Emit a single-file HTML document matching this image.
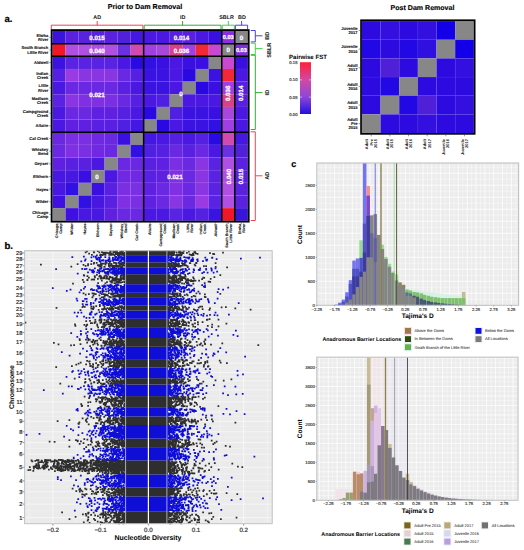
<!DOCTYPE html>
<html><head><meta charset="utf-8"><style>
html,body{margin:0;padding:0;background:#fff;}
body{width:524px;height:550px;overflow:hidden;}
svg{display:block;}
text{font-family:"Liberation Sans",sans-serif;text-rendering:geometricPrecision;}
</style></head><body>
<svg width="524" height="550" viewBox="0 0 524 550">
<rect x="52.50" y="31.00" width="13.07" height="12.70" fill="#3a14da"/>
<rect x="65.52" y="31.00" width="13.07" height="12.70" fill="#5a22de"/>
<rect x="78.54" y="31.00" width="13.07" height="12.70" fill="#5a22de"/>
<rect x="91.56" y="31.00" width="13.07" height="12.70" fill="#5a22de"/>
<rect x="104.58" y="31.00" width="13.07" height="12.70" fill="#5a22de"/>
<rect x="117.60" y="31.00" width="13.07" height="12.70" fill="#5020da"/>
<rect x="130.62" y="31.00" width="13.07" height="12.70" fill="#4418e0"/>
<rect x="143.64" y="31.00" width="13.07" height="12.70" fill="#4a18e2"/>
<rect x="156.66" y="31.00" width="13.07" height="12.70" fill="#4a18e2"/>
<rect x="169.68" y="31.00" width="13.07" height="12.70" fill="#5a20e2"/>
<rect x="182.70" y="31.00" width="13.07" height="12.70" fill="#5a20e2"/>
<rect x="195.72" y="31.00" width="13.07" height="12.70" fill="#4a18e2"/>
<rect x="208.74" y="31.00" width="13.07" height="12.70" fill="#3a10e2"/>
<rect x="221.76" y="31.00" width="13.07" height="12.70" fill="#8a30e2"/>
<rect x="234.78" y="31.00" width="13.07" height="12.70" fill="#878787"/>
<rect x="52.50" y="43.65" width="13.07" height="12.70" fill="#f01828"/>
<rect x="65.52" y="43.65" width="13.07" height="12.70" fill="#b050e2"/>
<rect x="78.54" y="43.65" width="13.07" height="12.70" fill="#b050e2"/>
<rect x="91.56" y="43.65" width="13.07" height="12.70" fill="#b050e2"/>
<rect x="104.58" y="43.65" width="13.07" height="12.70" fill="#b050e2"/>
<rect x="117.60" y="43.65" width="13.07" height="12.70" fill="#6a30e2"/>
<rect x="130.62" y="43.65" width="13.07" height="12.70" fill="#d04ab0"/>
<rect x="143.64" y="43.65" width="13.07" height="12.70" fill="#a040e2"/>
<rect x="156.66" y="43.65" width="13.07" height="12.70" fill="#a848da"/>
<rect x="169.68" y="43.65" width="13.07" height="12.70" fill="#d8408a"/>
<rect x="182.70" y="43.65" width="13.07" height="12.70" fill="#a040e2"/>
<rect x="195.72" y="43.65" width="13.07" height="12.70" fill="#f02838"/>
<rect x="208.74" y="43.65" width="13.07" height="12.70" fill="#c848d2"/>
<rect x="221.76" y="43.65" width="13.07" height="12.70" fill="#878787"/>
<rect x="234.78" y="43.65" width="13.07" height="12.70" fill="#8030da"/>
<rect x="52.50" y="56.30" width="13.07" height="12.70" fill="#3a12e2"/>
<rect x="65.52" y="56.30" width="13.07" height="12.70" fill="#5a22e2"/>
<rect x="78.54" y="56.30" width="13.07" height="12.70" fill="#5a22e2"/>
<rect x="91.56" y="56.30" width="13.07" height="12.70" fill="#5a22e2"/>
<rect x="104.58" y="56.30" width="13.07" height="12.70" fill="#5a22e2"/>
<rect x="117.60" y="56.30" width="13.07" height="12.70" fill="#4a18e2"/>
<rect x="130.62" y="56.30" width="13.07" height="12.70" fill="#2a0ae2"/>
<rect x="143.64" y="56.30" width="13.07" height="12.70" fill="#3010e2"/>
<rect x="156.66" y="56.30" width="13.07" height="12.70" fill="#3a10e2"/>
<rect x="169.68" y="56.30" width="13.07" height="12.70" fill="#4a18e2"/>
<rect x="182.70" y="56.30" width="13.07" height="12.70" fill="#3a10e2"/>
<rect x="195.72" y="56.30" width="13.07" height="12.70" fill="#3a10e2"/>
<rect x="208.74" y="56.30" width="13.07" height="12.70" fill="#878787"/>
<rect x="221.76" y="56.30" width="13.07" height="12.70" fill="#c848d2"/>
<rect x="234.78" y="56.30" width="13.07" height="12.70" fill="#3a10e2"/>
<rect x="52.50" y="68.95" width="13.07" height="12.70" fill="#5520e2"/>
<rect x="65.52" y="68.95" width="13.07" height="12.70" fill="#9a3ae2"/>
<rect x="78.54" y="68.95" width="13.07" height="12.70" fill="#8a35e2"/>
<rect x="91.56" y="68.95" width="13.07" height="12.70" fill="#8a35e2"/>
<rect x="104.58" y="68.95" width="13.07" height="12.70" fill="#8a35e2"/>
<rect x="117.60" y="68.95" width="13.07" height="12.70" fill="#6a28e2"/>
<rect x="130.62" y="68.95" width="13.07" height="12.70" fill="#5520e2"/>
<rect x="143.64" y="68.95" width="13.07" height="12.70" fill="#3a12e2"/>
<rect x="156.66" y="68.95" width="13.07" height="12.70" fill="#3a12e2"/>
<rect x="169.68" y="68.95" width="13.07" height="12.70" fill="#4a18e2"/>
<rect x="182.70" y="68.95" width="13.07" height="12.70" fill="#2a08e2"/>
<rect x="195.72" y="68.95" width="13.07" height="12.70" fill="#878787"/>
<rect x="208.74" y="68.95" width="13.07" height="12.70" fill="#3a12e2"/>
<rect x="221.76" y="68.95" width="13.07" height="12.70" fill="#f02838"/>
<rect x="234.78" y="68.95" width="13.07" height="12.70" fill="#4a18e2"/>
<rect x="52.50" y="81.60" width="13.07" height="12.70" fill="#4a18e2"/>
<rect x="65.52" y="81.60" width="13.07" height="12.70" fill="#6a28e2"/>
<rect x="78.54" y="81.60" width="13.07" height="12.70" fill="#6a28e2"/>
<rect x="91.56" y="81.60" width="13.07" height="12.70" fill="#6a28e2"/>
<rect x="104.58" y="81.60" width="13.07" height="12.70" fill="#6a28e2"/>
<rect x="117.60" y="81.60" width="13.07" height="12.70" fill="#5a20e2"/>
<rect x="130.62" y="81.60" width="13.07" height="12.70" fill="#4a18e2"/>
<rect x="143.64" y="81.60" width="13.07" height="12.70" fill="#3a12e2"/>
<rect x="156.66" y="81.60" width="13.07" height="12.70" fill="#3a12e2"/>
<rect x="169.68" y="81.60" width="13.07" height="12.70" fill="#4a18e2"/>
<rect x="182.70" y="81.60" width="13.07" height="12.70" fill="#878787"/>
<rect x="195.72" y="81.60" width="13.07" height="12.70" fill="#2a08e2"/>
<rect x="208.74" y="81.60" width="13.07" height="12.70" fill="#3a10e2"/>
<rect x="221.76" y="81.60" width="13.07" height="12.70" fill="#a040e2"/>
<rect x="234.78" y="81.60" width="13.07" height="12.70" fill="#5a20e2"/>
<rect x="52.50" y="94.25" width="13.07" height="12.70" fill="#5a22e2"/>
<rect x="65.52" y="94.25" width="13.07" height="12.70" fill="#8a35e2"/>
<rect x="78.54" y="94.25" width="13.07" height="12.70" fill="#8030e2"/>
<rect x="91.56" y="94.25" width="13.07" height="12.70" fill="#8030e2"/>
<rect x="104.58" y="94.25" width="13.07" height="12.70" fill="#7a30e2"/>
<rect x="117.60" y="94.25" width="13.07" height="12.70" fill="#6a28e2"/>
<rect x="130.62" y="94.25" width="13.07" height="12.70" fill="#5520e2"/>
<rect x="143.64" y="94.25" width="13.07" height="12.70" fill="#4a18e2"/>
<rect x="156.66" y="94.25" width="13.07" height="12.70" fill="#5020e2"/>
<rect x="169.68" y="94.25" width="13.07" height="12.70" fill="#878787"/>
<rect x="182.70" y="94.25" width="13.07" height="12.70" fill="#4a18e2"/>
<rect x="195.72" y="94.25" width="13.07" height="12.70" fill="#4a18e2"/>
<rect x="208.74" y="94.25" width="13.07" height="12.70" fill="#4a18e2"/>
<rect x="221.76" y="94.25" width="13.07" height="12.70" fill="#d8408a"/>
<rect x="234.78" y="94.25" width="13.07" height="12.70" fill="#5a20e2"/>
<rect x="52.50" y="106.90" width="13.07" height="12.70" fill="#4a18e2"/>
<rect x="65.52" y="106.90" width="13.07" height="12.70" fill="#6a28e2"/>
<rect x="78.54" y="106.90" width="13.07" height="12.70" fill="#6a28e2"/>
<rect x="91.56" y="106.90" width="13.07" height="12.70" fill="#6020e2"/>
<rect x="104.58" y="106.90" width="13.07" height="12.70" fill="#6020e2"/>
<rect x="117.60" y="106.90" width="13.07" height="12.70" fill="#5520e2"/>
<rect x="130.62" y="106.90" width="13.07" height="12.70" fill="#4a18e2"/>
<rect x="143.64" y="106.90" width="13.07" height="12.70" fill="#2a08e2"/>
<rect x="156.66" y="106.90" width="13.07" height="12.70" fill="#878787"/>
<rect x="169.68" y="106.90" width="13.07" height="12.70" fill="#5020e2"/>
<rect x="182.70" y="106.90" width="13.07" height="12.70" fill="#3a12e2"/>
<rect x="195.72" y="106.90" width="13.07" height="12.70" fill="#3a12e2"/>
<rect x="208.74" y="106.90" width="13.07" height="12.70" fill="#3a10e2"/>
<rect x="221.76" y="106.90" width="13.07" height="12.70" fill="#a848da"/>
<rect x="234.78" y="106.90" width="13.07" height="12.70" fill="#4a18e2"/>
<rect x="52.50" y="119.55" width="13.07" height="12.70" fill="#4a18e2"/>
<rect x="65.52" y="119.55" width="13.07" height="12.70" fill="#6020e2"/>
<rect x="78.54" y="119.55" width="13.07" height="12.70" fill="#6020e2"/>
<rect x="91.56" y="119.55" width="13.07" height="12.70" fill="#5a20e2"/>
<rect x="104.58" y="119.55" width="13.07" height="12.70" fill="#5a20e2"/>
<rect x="117.60" y="119.55" width="13.07" height="12.70" fill="#5020e2"/>
<rect x="130.62" y="119.55" width="13.07" height="12.70" fill="#4418e2"/>
<rect x="143.64" y="119.55" width="13.07" height="12.70" fill="#878787"/>
<rect x="156.66" y="119.55" width="13.07" height="12.70" fill="#2a08e2"/>
<rect x="169.68" y="119.55" width="13.07" height="12.70" fill="#4a18e2"/>
<rect x="182.70" y="119.55" width="13.07" height="12.70" fill="#3a12e2"/>
<rect x="195.72" y="119.55" width="13.07" height="12.70" fill="#3a12e2"/>
<rect x="208.74" y="119.55" width="13.07" height="12.70" fill="#3010e2"/>
<rect x="221.76" y="119.55" width="13.07" height="12.70" fill="#a040e2"/>
<rect x="234.78" y="119.55" width="13.07" height="12.70" fill="#4a18e2"/>
<rect x="52.50" y="132.20" width="13.07" height="12.70" fill="#6a28e2"/>
<rect x="65.52" y="132.20" width="13.07" height="12.70" fill="#7a30e2"/>
<rect x="78.54" y="132.20" width="13.07" height="12.70" fill="#7a30e2"/>
<rect x="91.56" y="132.20" width="13.07" height="12.70" fill="#7028e2"/>
<rect x="104.58" y="132.20" width="13.07" height="12.70" fill="#6a28e2"/>
<rect x="117.60" y="132.20" width="13.07" height="12.70" fill="#3a10e2"/>
<rect x="130.62" y="132.20" width="13.07" height="12.70" fill="#878787"/>
<rect x="143.64" y="132.20" width="13.07" height="12.70" fill="#4418e2"/>
<rect x="156.66" y="132.20" width="13.07" height="12.70" fill="#4a18e2"/>
<rect x="169.68" y="132.20" width="13.07" height="12.70" fill="#5520e2"/>
<rect x="182.70" y="132.20" width="13.07" height="12.70" fill="#4a18e2"/>
<rect x="195.72" y="132.20" width="13.07" height="12.70" fill="#5520e2"/>
<rect x="208.74" y="132.20" width="13.07" height="12.70" fill="#2a0ae2"/>
<rect x="221.76" y="132.20" width="13.07" height="12.70" fill="#d04ab0"/>
<rect x="234.78" y="132.20" width="13.07" height="12.70" fill="#4418e0"/>
<rect x="52.50" y="144.85" width="13.07" height="12.70" fill="#6a28e2"/>
<rect x="65.52" y="144.85" width="13.07" height="12.70" fill="#8030e2"/>
<rect x="78.54" y="144.85" width="13.07" height="12.70" fill="#7a30e2"/>
<rect x="91.56" y="144.85" width="13.07" height="12.70" fill="#7028e2"/>
<rect x="104.58" y="144.85" width="13.07" height="12.70" fill="#6a28e2"/>
<rect x="117.60" y="144.85" width="13.07" height="12.70" fill="#878787"/>
<rect x="130.62" y="144.85" width="13.07" height="12.70" fill="#3010e2"/>
<rect x="143.64" y="144.85" width="13.07" height="12.70" fill="#5020e2"/>
<rect x="156.66" y="144.85" width="13.07" height="12.70" fill="#5520e2"/>
<rect x="169.68" y="144.85" width="13.07" height="12.70" fill="#6a28e2"/>
<rect x="182.70" y="144.85" width="13.07" height="12.70" fill="#5a20e2"/>
<rect x="195.72" y="144.85" width="13.07" height="12.70" fill="#6a28e2"/>
<rect x="208.74" y="144.85" width="13.07" height="12.70" fill="#4a18e2"/>
<rect x="221.76" y="144.85" width="13.07" height="12.70" fill="#6a30e2"/>
<rect x="234.78" y="144.85" width="13.07" height="12.70" fill="#5020da"/>
<rect x="52.50" y="157.50" width="13.07" height="12.70" fill="#6020e2"/>
<rect x="65.52" y="157.50" width="13.07" height="12.70" fill="#5a20e2"/>
<rect x="78.54" y="157.50" width="13.07" height="12.70" fill="#5a20e2"/>
<rect x="91.56" y="157.50" width="13.07" height="12.70" fill="#4a18e2"/>
<rect x="104.58" y="157.50" width="13.07" height="12.70" fill="#878787"/>
<rect x="117.60" y="157.50" width="13.07" height="12.70" fill="#6a28e2"/>
<rect x="130.62" y="157.50" width="13.07" height="12.70" fill="#6a28e2"/>
<rect x="143.64" y="157.50" width="13.07" height="12.70" fill="#5a20e2"/>
<rect x="156.66" y="157.50" width="13.07" height="12.70" fill="#6020e2"/>
<rect x="169.68" y="157.50" width="13.07" height="12.70" fill="#7a30e2"/>
<rect x="182.70" y="157.50" width="13.07" height="12.70" fill="#6a28e2"/>
<rect x="195.72" y="157.50" width="13.07" height="12.70" fill="#8a35e2"/>
<rect x="208.74" y="157.50" width="13.07" height="12.70" fill="#5a22e2"/>
<rect x="221.76" y="157.50" width="13.07" height="12.70" fill="#b050e2"/>
<rect x="234.78" y="157.50" width="13.07" height="12.70" fill="#5a22de"/>
<rect x="52.50" y="170.15" width="13.07" height="12.70" fill="#4818e2"/>
<rect x="65.52" y="170.15" width="13.07" height="12.70" fill="#4818e2"/>
<rect x="78.54" y="170.15" width="13.07" height="12.70" fill="#3a10e2"/>
<rect x="91.56" y="170.15" width="13.07" height="12.70" fill="#878787"/>
<rect x="104.58" y="170.15" width="13.07" height="12.70" fill="#4a18e2"/>
<rect x="117.60" y="170.15" width="13.07" height="12.70" fill="#7028e2"/>
<rect x="130.62" y="170.15" width="13.07" height="12.70" fill="#7028e2"/>
<rect x="143.64" y="170.15" width="13.07" height="12.70" fill="#5a20e2"/>
<rect x="156.66" y="170.15" width="13.07" height="12.70" fill="#6020e2"/>
<rect x="169.68" y="170.15" width="13.07" height="12.70" fill="#8030e2"/>
<rect x="182.70" y="170.15" width="13.07" height="12.70" fill="#6a28e2"/>
<rect x="195.72" y="170.15" width="13.07" height="12.70" fill="#8a35e2"/>
<rect x="208.74" y="170.15" width="13.07" height="12.70" fill="#5a22e2"/>
<rect x="221.76" y="170.15" width="13.07" height="12.70" fill="#b050e2"/>
<rect x="234.78" y="170.15" width="13.07" height="12.70" fill="#5a22de"/>
<rect x="52.50" y="182.80" width="13.07" height="12.70" fill="#4818e2"/>
<rect x="65.52" y="182.80" width="13.07" height="12.70" fill="#3010e2"/>
<rect x="78.54" y="182.80" width="13.07" height="12.70" fill="#878787"/>
<rect x="91.56" y="182.80" width="13.07" height="12.70" fill="#3a10e2"/>
<rect x="104.58" y="182.80" width="13.07" height="12.70" fill="#5a20e2"/>
<rect x="117.60" y="182.80" width="13.07" height="12.70" fill="#7a30e2"/>
<rect x="130.62" y="182.80" width="13.07" height="12.70" fill="#7a30e2"/>
<rect x="143.64" y="182.80" width="13.07" height="12.70" fill="#6020e2"/>
<rect x="156.66" y="182.80" width="13.07" height="12.70" fill="#6a28e2"/>
<rect x="169.68" y="182.80" width="13.07" height="12.70" fill="#8030e2"/>
<rect x="182.70" y="182.80" width="13.07" height="12.70" fill="#6a28e2"/>
<rect x="195.72" y="182.80" width="13.07" height="12.70" fill="#8a35e2"/>
<rect x="208.74" y="182.80" width="13.07" height="12.70" fill="#5a22e2"/>
<rect x="221.76" y="182.80" width="13.07" height="12.70" fill="#b050e2"/>
<rect x="234.78" y="182.80" width="13.07" height="12.70" fill="#5a22de"/>
<rect x="52.50" y="195.45" width="13.07" height="12.70" fill="#4010e2"/>
<rect x="65.52" y="195.45" width="13.07" height="12.70" fill="#878787"/>
<rect x="78.54" y="195.45" width="13.07" height="12.70" fill="#3010e2"/>
<rect x="91.56" y="195.45" width="13.07" height="12.70" fill="#4818e2"/>
<rect x="104.58" y="195.45" width="13.07" height="12.70" fill="#5a20e2"/>
<rect x="117.60" y="195.45" width="13.07" height="12.70" fill="#8030e2"/>
<rect x="130.62" y="195.45" width="13.07" height="12.70" fill="#7a30e2"/>
<rect x="143.64" y="195.45" width="13.07" height="12.70" fill="#6020e2"/>
<rect x="156.66" y="195.45" width="13.07" height="12.70" fill="#6a28e2"/>
<rect x="169.68" y="195.45" width="13.07" height="12.70" fill="#8a35e2"/>
<rect x="182.70" y="195.45" width="13.07" height="12.70" fill="#6a28e2"/>
<rect x="195.72" y="195.45" width="13.07" height="12.70" fill="#9a3ae2"/>
<rect x="208.74" y="195.45" width="13.07" height="12.70" fill="#5a22e2"/>
<rect x="221.76" y="195.45" width="13.07" height="12.70" fill="#b050e2"/>
<rect x="234.78" y="195.45" width="13.07" height="12.70" fill="#5a22de"/>
<rect x="52.50" y="208.10" width="13.07" height="12.70" fill="#878787"/>
<rect x="65.52" y="208.10" width="13.07" height="12.70" fill="#4010e2"/>
<rect x="78.54" y="208.10" width="13.07" height="12.70" fill="#4818e2"/>
<rect x="91.56" y="208.10" width="13.07" height="12.70" fill="#4818e2"/>
<rect x="104.58" y="208.10" width="13.07" height="12.70" fill="#6020e2"/>
<rect x="117.60" y="208.10" width="13.07" height="12.70" fill="#6a28e2"/>
<rect x="130.62" y="208.10" width="13.07" height="12.70" fill="#6a28e2"/>
<rect x="143.64" y="208.10" width="13.07" height="12.70" fill="#4a18e2"/>
<rect x="156.66" y="208.10" width="13.07" height="12.70" fill="#4a18e2"/>
<rect x="169.68" y="208.10" width="13.07" height="12.70" fill="#5a22e2"/>
<rect x="182.70" y="208.10" width="13.07" height="12.70" fill="#4a18e2"/>
<rect x="195.72" y="208.10" width="13.07" height="12.70" fill="#5520e2"/>
<rect x="208.74" y="208.10" width="13.07" height="12.70" fill="#3a12e2"/>
<rect x="221.76" y="208.10" width="13.07" height="12.70" fill="#f01828"/>
<rect x="234.78" y="208.10" width="13.07" height="12.70" fill="#3a14da"/>
<line x1="65.52" y1="31.00" x2="65.52" y2="220.75" stroke="#fff" stroke-opacity="0.08" stroke-width="0.6"/>
<line x1="78.54" y1="31.00" x2="78.54" y2="220.75" stroke="#fff" stroke-opacity="0.08" stroke-width="0.6"/>
<line x1="91.56" y1="31.00" x2="91.56" y2="220.75" stroke="#fff" stroke-opacity="0.08" stroke-width="0.6"/>
<line x1="104.58" y1="31.00" x2="104.58" y2="220.75" stroke="#fff" stroke-opacity="0.08" stroke-width="0.6"/>
<line x1="117.60" y1="31.00" x2="117.60" y2="220.75" stroke="#fff" stroke-opacity="0.08" stroke-width="0.6"/>
<line x1="130.62" y1="31.00" x2="130.62" y2="220.75" stroke="#fff" stroke-opacity="0.08" stroke-width="0.6"/>
<line x1="143.64" y1="31.00" x2="143.64" y2="220.75" stroke="#fff" stroke-opacity="0.08" stroke-width="0.6"/>
<line x1="156.66" y1="31.00" x2="156.66" y2="220.75" stroke="#fff" stroke-opacity="0.08" stroke-width="0.6"/>
<line x1="169.68" y1="31.00" x2="169.68" y2="220.75" stroke="#fff" stroke-opacity="0.08" stroke-width="0.6"/>
<line x1="182.70" y1="31.00" x2="182.70" y2="220.75" stroke="#fff" stroke-opacity="0.08" stroke-width="0.6"/>
<line x1="195.72" y1="31.00" x2="195.72" y2="220.75" stroke="#fff" stroke-opacity="0.08" stroke-width="0.6"/>
<line x1="208.74" y1="31.00" x2="208.74" y2="220.75" stroke="#fff" stroke-opacity="0.08" stroke-width="0.6"/>
<line x1="221.76" y1="31.00" x2="221.76" y2="220.75" stroke="#fff" stroke-opacity="0.08" stroke-width="0.6"/>
<line x1="234.78" y1="31.00" x2="234.78" y2="220.75" stroke="#fff" stroke-opacity="0.08" stroke-width="0.6"/>
<line x1="52.50" y1="43.65" x2="247.80" y2="43.65" stroke="#fff" stroke-opacity="0.08" stroke-width="0.6"/>
<line x1="52.50" y1="56.30" x2="247.80" y2="56.30" stroke="#fff" stroke-opacity="0.08" stroke-width="0.6"/>
<line x1="52.50" y1="68.95" x2="247.80" y2="68.95" stroke="#fff" stroke-opacity="0.08" stroke-width="0.6"/>
<line x1="52.50" y1="81.60" x2="247.80" y2="81.60" stroke="#fff" stroke-opacity="0.08" stroke-width="0.6"/>
<line x1="52.50" y1="94.25" x2="247.80" y2="94.25" stroke="#fff" stroke-opacity="0.08" stroke-width="0.6"/>
<line x1="52.50" y1="106.90" x2="247.80" y2="106.90" stroke="#fff" stroke-opacity="0.08" stroke-width="0.6"/>
<line x1="52.50" y1="119.55" x2="247.80" y2="119.55" stroke="#fff" stroke-opacity="0.08" stroke-width="0.6"/>
<line x1="52.50" y1="132.20" x2="247.80" y2="132.20" stroke="#fff" stroke-opacity="0.08" stroke-width="0.6"/>
<line x1="52.50" y1="144.85" x2="247.80" y2="144.85" stroke="#fff" stroke-opacity="0.08" stroke-width="0.6"/>
<line x1="52.50" y1="157.50" x2="247.80" y2="157.50" stroke="#fff" stroke-opacity="0.08" stroke-width="0.6"/>
<line x1="52.50" y1="170.15" x2="247.80" y2="170.15" stroke="#fff" stroke-opacity="0.08" stroke-width="0.6"/>
<line x1="52.50" y1="182.80" x2="247.80" y2="182.80" stroke="#fff" stroke-opacity="0.08" stroke-width="0.6"/>
<line x1="52.50" y1="195.45" x2="247.80" y2="195.45" stroke="#fff" stroke-opacity="0.08" stroke-width="0.6"/>
<line x1="52.50" y1="208.10" x2="247.80" y2="208.10" stroke="#fff" stroke-opacity="0.08" stroke-width="0.6"/>
<line x1="143.64" y1="30.00" x2="143.64" y2="221.75" stroke="#000" stroke-width="1.5"/>
<line x1="221.76" y1="30.00" x2="221.76" y2="221.75" stroke="#000" stroke-width="1.5"/>
<line x1="234.78" y1="30.00" x2="234.78" y2="221.75" stroke="#000" stroke-width="1.5"/>
<line x1="51.50" y1="43.65" x2="248.80" y2="43.65" stroke="#000" stroke-width="1.5"/>
<line x1="51.50" y1="56.30" x2="248.80" y2="56.30" stroke="#000" stroke-width="1.5"/>
<line x1="51.50" y1="132.20" x2="248.80" y2="132.20" stroke="#000" stroke-width="1.5"/>
<rect x="51.60" y="30.10" width="197.10" height="191.55" fill="none" stroke="#000" stroke-width="1.8"/>
<text x="97.00" y="40.20" font-size="6.20" text-anchor="middle" font-weight="bold" fill="#fff" stroke="#fff" stroke-width="0.25">0.015</text>
<text x="181.50" y="40.20" font-size="6.20" text-anchor="middle" font-weight="bold" fill="#fff" stroke="#fff" stroke-width="0.25">0.014</text>
<text x="228.30" y="39.40" font-size="5.60" text-anchor="middle" font-weight="bold" fill="#fff" stroke="#fff" stroke-width="0.25">0.03</text>
<text x="241.40" y="39.60" font-size="6.20" text-anchor="middle" font-weight="bold" fill="#fff" stroke="#fff" stroke-width="0.25">0</text>
<text x="97.00" y="53.20" font-size="6.20" text-anchor="middle" font-weight="bold" fill="#fff" stroke="#fff" stroke-width="0.25">0.040</text>
<text x="181.50" y="53.20" font-size="6.20" text-anchor="middle" font-weight="bold" fill="#fff" stroke="#fff" stroke-width="0.25">0.036</text>
<text x="228.30" y="52.20" font-size="6.20" text-anchor="middle" font-weight="bold" fill="#fff" stroke="#fff" stroke-width="0.25">0</text>
<text x="241.40" y="52.20" font-size="5.60" text-anchor="middle" font-weight="bold" fill="#fff" stroke="#fff" stroke-width="0.25">0.03</text>
<text x="97.00" y="96.70" font-size="6.20" text-anchor="middle" font-weight="bold" fill="#fff" stroke="#fff" stroke-width="0.25">0.021</text>
<text x="181.00" y="96.40" font-size="6.20" text-anchor="middle" font-weight="bold" fill="#fff" stroke="#fff" stroke-width="0.25">0</text>
<text x="97.00" y="179.20" font-size="6.20" text-anchor="middle" font-weight="bold" fill="#fff" stroke="#fff" stroke-width="0.25">0</text>
<text x="175.00" y="179.20" font-size="6.20" text-anchor="middle" font-weight="bold" fill="#fff" stroke="#fff" stroke-width="0.25">0.021</text>
<text x="230.50" y="93.30" font-size="6.20" text-anchor="middle" font-weight="bold" fill="#fff" transform="rotate(-90 230.5 93.3)" stroke="#fff" stroke-width="0.25">0.036</text>
<text x="243.40" y="93.30" font-size="6.20" text-anchor="middle" font-weight="bold" fill="#fff" transform="rotate(-90 243.4 93.3)" stroke="#fff" stroke-width="0.25">0.014</text>
<text x="230.50" y="176.50" font-size="6.20" text-anchor="middle" font-weight="bold" fill="#fff" transform="rotate(-90 230.5 176.5)" stroke="#fff" stroke-width="0.25">0.040</text>
<text x="243.40" y="176.50" font-size="6.20" text-anchor="middle" font-weight="bold" fill="#fff" transform="rotate(-90 243.4 176.5)" stroke="#fff" stroke-width="0.25">0.015</text>
<text x="48.30" y="36.68" font-size="4.10" text-anchor="end" font-weight="bold" fill="#111" stroke="#111" stroke-width="0.10">Elwha</text>
<text x="48.30" y="40.98" font-size="4.10" text-anchor="end" font-weight="bold" fill="#111" stroke="#111" stroke-width="0.10">River</text>
<line x1="49.2" y1="37.33" x2="50.8" y2="37.33" stroke="#333" stroke-width="0.5"/>
<text x="48.30" y="49.33" font-size="4.10" text-anchor="end" font-weight="bold" fill="#111" stroke="#111" stroke-width="0.10">South Branch</text>
<text x="48.30" y="53.62" font-size="4.10" text-anchor="end" font-weight="bold" fill="#111" stroke="#111" stroke-width="0.10">Little River</text>
<line x1="49.2" y1="49.98" x2="50.8" y2="49.98" stroke="#333" stroke-width="0.5"/>
<text x="48.30" y="64.12" font-size="4.10" text-anchor="end" font-weight="bold" fill="#111" stroke="#111" stroke-width="0.10">Aldwell</text>
<line x1="49.2" y1="62.62" x2="50.8" y2="62.62" stroke="#333" stroke-width="0.5"/>
<text x="48.30" y="74.62" font-size="4.10" text-anchor="end" font-weight="bold" fill="#111" stroke="#111" stroke-width="0.10">Indian</text>
<text x="48.30" y="78.93" font-size="4.10" text-anchor="end" font-weight="bold" fill="#111" stroke="#111" stroke-width="0.10">Creek</text>
<line x1="49.2" y1="75.28" x2="50.8" y2="75.28" stroke="#333" stroke-width="0.5"/>
<text x="48.30" y="87.28" font-size="4.10" text-anchor="end" font-weight="bold" fill="#111" stroke="#111" stroke-width="0.10">Little</text>
<text x="48.30" y="91.58" font-size="4.10" text-anchor="end" font-weight="bold" fill="#111" stroke="#111" stroke-width="0.10">River</text>
<line x1="49.2" y1="87.93" x2="50.8" y2="87.93" stroke="#333" stroke-width="0.5"/>
<text x="48.30" y="99.92" font-size="4.10" text-anchor="end" font-weight="bold" fill="#111" stroke="#111" stroke-width="0.10">Madison</text>
<text x="48.30" y="104.23" font-size="4.10" text-anchor="end" font-weight="bold" fill="#111" stroke="#111" stroke-width="0.10">Creek</text>
<line x1="49.2" y1="100.58" x2="50.8" y2="100.58" stroke="#333" stroke-width="0.5"/>
<text x="48.30" y="112.58" font-size="4.10" text-anchor="end" font-weight="bold" fill="#111" stroke="#111" stroke-width="0.10">Campground</text>
<text x="48.30" y="116.88" font-size="4.10" text-anchor="end" font-weight="bold" fill="#111" stroke="#111" stroke-width="0.10">Creek</text>
<line x1="49.2" y1="113.23" x2="50.8" y2="113.23" stroke="#333" stroke-width="0.5"/>
<text x="48.30" y="127.38" font-size="4.10" text-anchor="end" font-weight="bold" fill="#111" stroke="#111" stroke-width="0.10">Altaire</text>
<line x1="49.2" y1="125.88" x2="50.8" y2="125.88" stroke="#333" stroke-width="0.5"/>
<text x="48.30" y="140.03" font-size="4.10" text-anchor="end" font-weight="bold" fill="#111" stroke="#111" stroke-width="0.10">Cat Creek</text>
<line x1="49.2" y1="138.53" x2="50.8" y2="138.53" stroke="#333" stroke-width="0.5"/>
<text x="48.30" y="150.53" font-size="4.10" text-anchor="end" font-weight="bold" fill="#111" stroke="#111" stroke-width="0.10">Whiskey</text>
<text x="48.30" y="154.83" font-size="4.10" text-anchor="end" font-weight="bold" fill="#111" stroke="#111" stroke-width="0.10">Bend</text>
<line x1="49.2" y1="151.18" x2="50.8" y2="151.18" stroke="#333" stroke-width="0.5"/>
<text x="48.30" y="165.33" font-size="4.10" text-anchor="end" font-weight="bold" fill="#111" stroke="#111" stroke-width="0.10">Geyser</text>
<line x1="49.2" y1="163.83" x2="50.8" y2="163.83" stroke="#333" stroke-width="0.5"/>
<text x="48.30" y="177.97" font-size="4.10" text-anchor="end" font-weight="bold" fill="#111" stroke="#111" stroke-width="0.10">Elkhorn</text>
<line x1="49.2" y1="176.47" x2="50.8" y2="176.47" stroke="#333" stroke-width="0.5"/>
<text x="48.30" y="190.62" font-size="4.10" text-anchor="end" font-weight="bold" fill="#111" stroke="#111" stroke-width="0.10">Hayes</text>
<line x1="49.2" y1="189.12" x2="50.8" y2="189.12" stroke="#333" stroke-width="0.5"/>
<text x="48.30" y="203.28" font-size="4.10" text-anchor="end" font-weight="bold" fill="#111" stroke="#111" stroke-width="0.10">Wilder</text>
<line x1="49.2" y1="201.78" x2="50.8" y2="201.78" stroke="#333" stroke-width="0.5"/>
<text x="48.30" y="213.78" font-size="4.10" text-anchor="end" font-weight="bold" fill="#111" stroke="#111" stroke-width="0.10">Chicago</text>
<text x="48.30" y="218.08" font-size="4.10" text-anchor="end" font-weight="bold" fill="#111" stroke="#111" stroke-width="0.10">Camp</text>
<line x1="49.2" y1="214.43" x2="50.8" y2="214.43" stroke="#333" stroke-width="0.5"/>
<line x1="59.01" y1="222.3" x2="59.01" y2="223.8" stroke="#333" stroke-width="0.5"/>
<text x="58.31" y="223.60" font-size="3.70" text-anchor="end" font-weight="bold" fill="#111" transform="rotate(-90 58.31 223.6)" stroke="#111" stroke-width="0.10">Chicago</text>
<text x="62.31" y="223.60" font-size="3.70" text-anchor="end" font-weight="bold" fill="#111" transform="rotate(-90 62.31 223.6)" stroke="#111" stroke-width="0.10">Camp</text>
<line x1="72.03" y1="222.3" x2="72.03" y2="223.8" stroke="#333" stroke-width="0.5"/>
<text x="73.33" y="223.60" font-size="3.70" text-anchor="end" font-weight="bold" fill="#111" transform="rotate(-90 73.33 223.6)" stroke="#111" stroke-width="0.10">Wilder</text>
<line x1="85.05" y1="222.3" x2="85.05" y2="223.8" stroke="#333" stroke-width="0.5"/>
<text x="86.35" y="223.60" font-size="3.70" text-anchor="end" font-weight="bold" fill="#111" transform="rotate(-90 86.35 223.6)" stroke="#111" stroke-width="0.10">Hayes</text>
<line x1="98.07" y1="222.3" x2="98.07" y2="223.8" stroke="#333" stroke-width="0.5"/>
<text x="99.37" y="223.60" font-size="3.70" text-anchor="end" font-weight="bold" fill="#111" transform="rotate(-90 99.37 223.6)" stroke="#111" stroke-width="0.10">Elkhorn</text>
<line x1="111.09" y1="222.3" x2="111.09" y2="223.8" stroke="#333" stroke-width="0.5"/>
<text x="112.39" y="223.60" font-size="3.70" text-anchor="end" font-weight="bold" fill="#111" transform="rotate(-90 112.39 223.6)" stroke="#111" stroke-width="0.10">Geyser</text>
<line x1="124.11" y1="222.3" x2="124.11" y2="223.8" stroke="#333" stroke-width="0.5"/>
<text x="123.41" y="223.60" font-size="3.70" text-anchor="end" font-weight="bold" fill="#111" transform="rotate(-90 123.41 223.6)" stroke="#111" stroke-width="0.10">Whiskey</text>
<text x="127.41" y="223.60" font-size="3.70" text-anchor="end" font-weight="bold" fill="#111" transform="rotate(-90 127.41 223.6)" stroke="#111" stroke-width="0.10">Bend</text>
<line x1="137.13" y1="222.3" x2="137.13" y2="223.8" stroke="#333" stroke-width="0.5"/>
<text x="138.43" y="223.60" font-size="3.70" text-anchor="end" font-weight="bold" fill="#111" transform="rotate(-90 138.43 223.6)" stroke="#111" stroke-width="0.10">Cat Creek</text>
<line x1="150.15" y1="222.3" x2="150.15" y2="223.8" stroke="#333" stroke-width="0.5"/>
<text x="151.45" y="223.60" font-size="3.70" text-anchor="end" font-weight="bold" fill="#111" transform="rotate(-90 151.45 223.6)" stroke="#111" stroke-width="0.10">Altaire</text>
<line x1="163.17" y1="222.3" x2="163.17" y2="223.8" stroke="#333" stroke-width="0.5"/>
<text x="162.47" y="223.60" font-size="3.70" text-anchor="end" font-weight="bold" fill="#111" transform="rotate(-90 162.47 223.6)" stroke="#111" stroke-width="0.10">Campground</text>
<text x="166.47" y="223.60" font-size="3.70" text-anchor="end" font-weight="bold" fill="#111" transform="rotate(-90 166.47 223.6)" stroke="#111" stroke-width="0.10">Creek</text>
<line x1="176.19" y1="222.3" x2="176.19" y2="223.8" stroke="#333" stroke-width="0.5"/>
<text x="175.49" y="223.60" font-size="3.70" text-anchor="end" font-weight="bold" fill="#111" transform="rotate(-90 175.49 223.6)" stroke="#111" stroke-width="0.10">Madison</text>
<text x="179.49" y="223.60" font-size="3.70" text-anchor="end" font-weight="bold" fill="#111" transform="rotate(-90 179.49 223.6)" stroke="#111" stroke-width="0.10">Creek</text>
<line x1="189.21" y1="222.3" x2="189.21" y2="223.8" stroke="#333" stroke-width="0.5"/>
<text x="188.51" y="223.60" font-size="3.70" text-anchor="end" font-weight="bold" fill="#111" transform="rotate(-90 188.51 223.6)" stroke="#111" stroke-width="0.10">Little</text>
<text x="192.51" y="223.60" font-size="3.70" text-anchor="end" font-weight="bold" fill="#111" transform="rotate(-90 192.51 223.6)" stroke="#111" stroke-width="0.10">River</text>
<line x1="202.23" y1="222.3" x2="202.23" y2="223.8" stroke="#333" stroke-width="0.5"/>
<text x="201.53" y="223.60" font-size="3.70" text-anchor="end" font-weight="bold" fill="#111" transform="rotate(-90 201.53 223.6)" stroke="#111" stroke-width="0.10">Indian</text>
<text x="205.53" y="223.60" font-size="3.70" text-anchor="end" font-weight="bold" fill="#111" transform="rotate(-90 205.53 223.6)" stroke="#111" stroke-width="0.10">Creek</text>
<line x1="215.25" y1="222.3" x2="215.25" y2="223.8" stroke="#333" stroke-width="0.5"/>
<text x="216.55" y="223.60" font-size="3.70" text-anchor="end" font-weight="bold" fill="#111" transform="rotate(-90 216.55 223.6)" stroke="#111" stroke-width="0.10">Aldwell</text>
<line x1="228.27" y1="222.3" x2="228.27" y2="223.8" stroke="#333" stroke-width="0.5"/>
<text x="227.57" y="223.60" font-size="3.70" text-anchor="end" font-weight="bold" fill="#111" transform="rotate(-90 227.57 223.6)" stroke="#111" stroke-width="0.10">South Branch</text>
<text x="231.57" y="223.60" font-size="3.70" text-anchor="end" font-weight="bold" fill="#111" transform="rotate(-90 231.57 223.6)" stroke="#111" stroke-width="0.10">Little River</text>
<line x1="241.29" y1="222.3" x2="241.29" y2="223.8" stroke="#333" stroke-width="0.5"/>
<text x="240.59" y="223.60" font-size="3.70" text-anchor="end" font-weight="bold" fill="#111" transform="rotate(-90 240.59 223.6)" stroke="#111" stroke-width="0.10">Elwha</text>
<text x="244.59" y="223.60" font-size="3.70" text-anchor="end" font-weight="bold" fill="#111" transform="rotate(-90 244.59 223.6)" stroke="#111" stroke-width="0.10">River</text>
<path d="M51.30 29 V25.2 H142.90 V29 M97.20 25.2 V21" fill="none" stroke="#f0303c" stroke-width="0.9"/>
<text x="97.20" y="18.60" font-size="5.40" text-anchor="middle" font-weight="bold" fill="#111">AD</text>
<path d="M144.20 29 V25.2 H221.00 V29 M182.60 25.2 V21" fill="none" stroke="#20a020" stroke-width="0.9"/>
<text x="182.60" y="18.60" font-size="5.40" text-anchor="middle" font-weight="bold" fill="#111">ID</text>
<path d="M222.30 29 V25.2 H234.30 V29 M228.30 25.2 V21" fill="none" stroke="#33cc33" stroke-width="0.9"/>
<text x="226.50" y="18.60" font-size="5.40" text-anchor="middle" font-weight="bold" fill="#111">SBLR</text>
<path d="M235.40 29 V25.2 H247.60 V29 M241.60 25.2 V21" fill="none" stroke="#3a30d0" stroke-width="0.9"/>
<text x="242.00" y="18.60" font-size="5.40" text-anchor="middle" font-weight="bold" fill="#111">BD</text>
<path d="M250.8 30.50 H255.3 V41.90 H250.8 M255.3 35.80 H262.5" fill="none" stroke="#3a30d0" stroke-width="0.9"/>
<text x="269.40" y="35.80" font-size="5.60" text-anchor="middle" font-weight="bold" fill="#111" transform="rotate(-90 269.4 35.8)">BD</text>
<path d="M250.8 43.20 H255.3 V54.60 H250.8 M255.3 48.60 H262.5" fill="none" stroke="#33cc33" stroke-width="0.9"/>
<text x="270.60" y="50.20" font-size="5.60" text-anchor="middle" font-weight="bold" fill="#111" transform="rotate(-90 270.6 50.2)">SBLR</text>
<path d="M250.8 55.20 H255.3 V129.50 H250.8 M255.3 92.60 H262.5" fill="none" stroke="#20a020" stroke-width="0.9"/>
<text x="269.40" y="92.60" font-size="5.60" text-anchor="middle" font-weight="bold" fill="#111" transform="rotate(-90 269.4 92.6)">ID</text>
<path d="M250.8 131.80 H255.3 V220.50 H250.8 M255.3 175.80 H262.5" fill="none" stroke="#f0303c" stroke-width="0.9"/>
<text x="269.40" y="175.80" font-size="5.60" text-anchor="middle" font-weight="bold" fill="#111" transform="rotate(-90 269.4 175.8)">AD</text>
<text x="145.00" y="9.30" font-size="7.15" text-anchor="middle" font-weight="bold" fill="#000" stroke="#000" stroke-width="0.15">Prior to Dam Removal</text>
<text x="4.50" y="21.80" font-size="9.60" text-anchor="start" font-weight="bold" fill="#000" stroke="#000" stroke-width="0.20">a.</text>
<defs><linearGradient id="fst" x1="0" y1="1" x2="0" y2="0"><stop offset="0" stop-color="#2010e0"/><stop offset="0.33" stop-color="#9046d8"/><stop offset="0.66" stop-color="#d248a4"/><stop offset="1" stop-color="#ff2038"/></linearGradient></defs>
<text x="289.00" y="58.60" font-size="6.10" text-anchor="start" font-weight="bold" fill="#000">Pairwise FST</text>
<rect x="300" y="62.2" width="11" height="51.8" fill="url(#fst)"/>
<text x="297.50" y="64.10" font-size="4.20" text-anchor="end" font-weight="normal" fill="#444" stroke="#444" stroke-width="0.20">0.15</text>
<text x="297.50" y="81.40" font-size="4.20" text-anchor="end" font-weight="normal" fill="#444" stroke="#444" stroke-width="0.20">0.10</text>
<text x="297.50" y="98.60" font-size="4.20" text-anchor="end" font-weight="normal" fill="#444" stroke="#444" stroke-width="0.20">0.05</text>
<text x="297.50" y="115.50" font-size="4.20" text-anchor="end" font-weight="normal" fill="#444" stroke="#444" stroke-width="0.20">0.00</text>
<line x1="300" y1="79.90" x2="302" y2="79.90" stroke="#fff" stroke-width="0.5"/><line x1="309" y1="79.90" x2="311" y2="79.90" stroke="#fff" stroke-width="0.5"/>
<line x1="300" y1="97.10" x2="302" y2="97.10" stroke="#fff" stroke-width="0.5"/><line x1="309" y1="97.10" x2="311" y2="97.10" stroke="#fff" stroke-width="0.5"/>
<rect x="361.90" y="21.10" width="18.70" height="18.70" fill="#2c0ae0"/>
<rect x="380.55" y="21.10" width="18.70" height="18.70" fill="#3410e0"/>
<rect x="399.20" y="21.10" width="18.70" height="18.70" fill="#2c0ae0"/>
<rect x="417.85" y="21.10" width="18.70" height="18.70" fill="#3410e0"/>
<rect x="436.50" y="21.10" width="18.70" height="18.70" fill="#1400e8"/>
<rect x="455.15" y="21.10" width="18.70" height="18.70" fill="#878787"/>
<rect x="361.90" y="39.75" width="18.70" height="18.70" fill="#2208e4"/>
<rect x="380.55" y="39.75" width="18.70" height="18.70" fill="#2c0ae0"/>
<rect x="399.20" y="39.75" width="18.70" height="18.70" fill="#2208e4"/>
<rect x="417.85" y="39.75" width="18.70" height="18.70" fill="#3010e0"/>
<rect x="436.50" y="39.75" width="18.70" height="18.70" fill="#878787"/>
<rect x="455.15" y="39.75" width="18.70" height="18.70" fill="#1400e8"/>
<rect x="361.90" y="58.40" width="18.70" height="18.70" fill="#2c0ae0"/>
<rect x="380.55" y="58.40" width="18.70" height="18.70" fill="#5020d8"/>
<rect x="399.20" y="58.40" width="18.70" height="18.70" fill="#2c0ae0"/>
<rect x="417.85" y="58.40" width="18.70" height="18.70" fill="#878787"/>
<rect x="436.50" y="58.40" width="18.70" height="18.70" fill="#2c0ae0"/>
<rect x="455.15" y="58.40" width="18.70" height="18.70" fill="#3410e0"/>
<rect x="361.90" y="77.05" width="18.70" height="18.70" fill="#2c0ae0"/>
<rect x="380.55" y="77.05" width="18.70" height="18.70" fill="#2208e4"/>
<rect x="399.20" y="77.05" width="18.70" height="18.70" fill="#878787"/>
<rect x="417.85" y="77.05" width="18.70" height="18.70" fill="#2c0ae0"/>
<rect x="436.50" y="77.05" width="18.70" height="18.70" fill="#2c0ae0"/>
<rect x="455.15" y="77.05" width="18.70" height="18.70" fill="#2c0ae0"/>
<rect x="361.90" y="95.70" width="18.70" height="18.70" fill="#2c0ae0"/>
<rect x="380.55" y="95.70" width="18.70" height="18.70" fill="#878787"/>
<rect x="399.20" y="95.70" width="18.70" height="18.70" fill="#2208e4"/>
<rect x="417.85" y="95.70" width="18.70" height="18.70" fill="#5020d8"/>
<rect x="436.50" y="95.70" width="18.70" height="18.70" fill="#2c0ae0"/>
<rect x="455.15" y="95.70" width="18.70" height="18.70" fill="#3410e0"/>
<rect x="361.90" y="114.35" width="18.70" height="18.70" fill="#878787"/>
<rect x="380.55" y="114.35" width="18.70" height="18.70" fill="#2c0ae0"/>
<rect x="399.20" y="114.35" width="18.70" height="18.70" fill="#2c0ae0"/>
<rect x="417.85" y="114.35" width="18.70" height="18.70" fill="#3410e0"/>
<rect x="436.50" y="114.35" width="18.70" height="18.70" fill="#2c0ae0"/>
<rect x="455.15" y="114.35" width="18.70" height="18.70" fill="#2c0ae0"/>
<line x1="380.55" y1="21.10" x2="380.55" y2="133.00" stroke="#fff" stroke-opacity="0.08" stroke-width="0.6"/>
<line x1="361.90" y1="39.75" x2="473.80" y2="39.75" stroke="#fff" stroke-opacity="0.08" stroke-width="0.6"/>
<line x1="399.20" y1="21.10" x2="399.20" y2="133.00" stroke="#fff" stroke-opacity="0.08" stroke-width="0.6"/>
<line x1="361.90" y1="58.40" x2="473.80" y2="58.40" stroke="#fff" stroke-opacity="0.08" stroke-width="0.6"/>
<line x1="417.85" y1="21.10" x2="417.85" y2="133.00" stroke="#fff" stroke-opacity="0.08" stroke-width="0.6"/>
<line x1="361.90" y1="77.05" x2="473.80" y2="77.05" stroke="#fff" stroke-opacity="0.08" stroke-width="0.6"/>
<line x1="436.50" y1="21.10" x2="436.50" y2="133.00" stroke="#fff" stroke-opacity="0.08" stroke-width="0.6"/>
<line x1="361.90" y1="95.70" x2="473.80" y2="95.70" stroke="#fff" stroke-opacity="0.08" stroke-width="0.6"/>
<line x1="455.15" y1="21.10" x2="455.15" y2="133.00" stroke="#fff" stroke-opacity="0.08" stroke-width="0.6"/>
<line x1="361.90" y1="114.35" x2="473.80" y2="114.35" stroke="#fff" stroke-opacity="0.08" stroke-width="0.6"/>
<rect x="361.05" y="20.25" width="113.60" height="113.60" fill="none" stroke="#000" stroke-width="1.7"/>
<text x="422.50" y="9.70" font-size="7.05" text-anchor="middle" font-weight="bold" fill="#000" stroke="#000" stroke-width="0.15">Post Dam Removal</text>
<line x1="358.6" y1="30.43" x2="360.2" y2="30.43" stroke="#333" stroke-width="0.5"/>
<text x="357.60" y="29.78" font-size="4.10" text-anchor="end" font-weight="bold" fill="#111" stroke="#111" stroke-width="0.10">Juvenile</text>
<text x="357.60" y="34.08" font-size="4.10" text-anchor="end" font-weight="bold" fill="#111" stroke="#111" stroke-width="0.10">2017</text>
<line x1="358.6" y1="49.08" x2="360.2" y2="49.08" stroke="#333" stroke-width="0.5"/>
<text x="357.60" y="48.43" font-size="4.10" text-anchor="end" font-weight="bold" fill="#111" stroke="#111" stroke-width="0.10">Juvenile</text>
<text x="357.60" y="52.73" font-size="4.10" text-anchor="end" font-weight="bold" fill="#111" stroke="#111" stroke-width="0.10">2016</text>
<line x1="358.6" y1="67.72" x2="360.2" y2="67.72" stroke="#333" stroke-width="0.5"/>
<text x="357.60" y="67.07" font-size="4.10" text-anchor="end" font-weight="bold" fill="#111" stroke="#111" stroke-width="0.10">Adult</text>
<text x="357.60" y="71.38" font-size="4.10" text-anchor="end" font-weight="bold" fill="#111" stroke="#111" stroke-width="0.10">2017</text>
<line x1="358.6" y1="86.38" x2="360.2" y2="86.38" stroke="#333" stroke-width="0.5"/>
<text x="357.60" y="85.72" font-size="4.10" text-anchor="end" font-weight="bold" fill="#111" stroke="#111" stroke-width="0.10">Adult</text>
<text x="357.60" y="90.03" font-size="4.10" text-anchor="end" font-weight="bold" fill="#111" stroke="#111" stroke-width="0.10">2016</text>
<line x1="358.6" y1="105.03" x2="360.2" y2="105.03" stroke="#333" stroke-width="0.5"/>
<text x="357.60" y="104.38" font-size="4.10" text-anchor="end" font-weight="bold" fill="#111" stroke="#111" stroke-width="0.10">Adult</text>
<text x="357.60" y="108.68" font-size="4.10" text-anchor="end" font-weight="bold" fill="#111" stroke="#111" stroke-width="0.10">2015</text>
<line x1="358.6" y1="123.67" x2="360.2" y2="123.67" stroke="#333" stroke-width="0.5"/>
<text x="357.60" y="120.87" font-size="4.10" text-anchor="end" font-weight="bold" fill="#111" stroke="#111" stroke-width="0.10">Adult</text>
<text x="357.60" y="125.17" font-size="4.10" text-anchor="end" font-weight="bold" fill="#111" stroke="#111" stroke-width="0.10">Pre</text>
<text x="357.60" y="129.47" font-size="4.10" text-anchor="end" font-weight="bold" fill="#111" stroke="#111" stroke-width="0.10">2015</text>
<line x1="371.22" y1="134.8" x2="371.22" y2="136.3" stroke="#333" stroke-width="0.5"/>
<text x="368.42" y="139.00" font-size="4.00" text-anchor="end" font-weight="bold" fill="#111" transform="rotate(-90 368.425 139)">Adult</text>
<text x="372.62" y="139.00" font-size="4.00" text-anchor="end" font-weight="bold" fill="#111" transform="rotate(-90 372.625 139)">Pre</text>
<text x="376.82" y="139.00" font-size="4.00" text-anchor="end" font-weight="bold" fill="#111" transform="rotate(-90 376.825 139)">2015</text>
<line x1="389.88" y1="134.8" x2="389.88" y2="136.3" stroke="#333" stroke-width="0.5"/>
<text x="389.17" y="139.00" font-size="4.00" text-anchor="end" font-weight="bold" fill="#111" transform="rotate(-90 389.175 139)">Adult</text>
<text x="393.38" y="139.00" font-size="4.00" text-anchor="end" font-weight="bold" fill="#111" transform="rotate(-90 393.375 139)">2015</text>
<line x1="408.52" y1="134.8" x2="408.52" y2="136.3" stroke="#333" stroke-width="0.5"/>
<text x="407.82" y="139.00" font-size="4.00" text-anchor="end" font-weight="bold" fill="#111" transform="rotate(-90 407.825 139)">Adult</text>
<text x="412.02" y="139.00" font-size="4.00" text-anchor="end" font-weight="bold" fill="#111" transform="rotate(-90 412.025 139)">2016</text>
<line x1="427.17" y1="134.8" x2="427.17" y2="136.3" stroke="#333" stroke-width="0.5"/>
<text x="426.47" y="139.00" font-size="4.00" text-anchor="end" font-weight="bold" fill="#111" transform="rotate(-90 426.475 139)">Adult</text>
<text x="430.67" y="139.00" font-size="4.00" text-anchor="end" font-weight="bold" fill="#111" transform="rotate(-90 430.675 139)">2017</text>
<line x1="445.82" y1="134.8" x2="445.82" y2="136.3" stroke="#333" stroke-width="0.5"/>
<text x="445.12" y="139.00" font-size="4.00" text-anchor="end" font-weight="bold" fill="#111" transform="rotate(-90 445.125 139)">Juvenile</text>
<text x="449.32" y="139.00" font-size="4.00" text-anchor="end" font-weight="bold" fill="#111" transform="rotate(-90 449.325 139)">2016</text>
<line x1="464.47" y1="134.8" x2="464.47" y2="136.3" stroke="#333" stroke-width="0.5"/>
<text x="463.77" y="139.00" font-size="4.00" text-anchor="end" font-weight="bold" fill="#111" transform="rotate(-90 463.775 139)">Juvenile</text>
<text x="467.97" y="139.00" font-size="4.00" text-anchor="end" font-weight="bold" fill="#111" transform="rotate(-90 467.975 139)">2017</text>
<rect x="24.30" y="250.40" width="248.20" height="273.60" fill="#ebebeb"/>
<line x1="24.30" y1="517.60" x2="272.50" y2="517.60" stroke="#fff" stroke-width="0.55"/>
<line x1="24.30" y1="510.85" x2="272.50" y2="510.85" stroke="#fff" stroke-width="0.3" stroke-opacity="0.8"/>
<line x1="24.30" y1="504.10" x2="272.50" y2="504.10" stroke="#fff" stroke-width="0.55"/>
<line x1="24.30" y1="497.95" x2="272.50" y2="497.95" stroke="#fff" stroke-width="0.3" stroke-opacity="0.8"/>
<line x1="24.30" y1="491.80" x2="272.50" y2="491.80" stroke="#fff" stroke-width="0.55"/>
<line x1="24.30" y1="486.30" x2="272.50" y2="486.30" stroke="#fff" stroke-width="0.3" stroke-opacity="0.8"/>
<line x1="24.30" y1="480.80" x2="272.50" y2="480.80" stroke="#fff" stroke-width="0.55"/>
<line x1="24.30" y1="474.05" x2="272.50" y2="474.05" stroke="#fff" stroke-width="0.3" stroke-opacity="0.8"/>
<line x1="24.30" y1="467.30" x2="272.50" y2="467.30" stroke="#fff" stroke-width="0.55"/>
<line x1="24.30" y1="460.75" x2="272.50" y2="460.75" stroke="#fff" stroke-width="0.3" stroke-opacity="0.8"/>
<line x1="24.30" y1="454.20" x2="272.50" y2="454.20" stroke="#fff" stroke-width="0.55"/>
<line x1="24.30" y1="448.40" x2="272.50" y2="448.40" stroke="#fff" stroke-width="0.3" stroke-opacity="0.8"/>
<line x1="24.30" y1="442.60" x2="272.50" y2="442.60" stroke="#fff" stroke-width="0.55"/>
<line x1="24.30" y1="437.20" x2="272.50" y2="437.20" stroke="#fff" stroke-width="0.3" stroke-opacity="0.8"/>
<line x1="24.30" y1="431.80" x2="272.50" y2="431.80" stroke="#fff" stroke-width="0.55"/>
<line x1="24.30" y1="426.55" x2="272.50" y2="426.55" stroke="#fff" stroke-width="0.3" stroke-opacity="0.8"/>
<line x1="24.30" y1="421.30" x2="272.50" y2="421.30" stroke="#fff" stroke-width="0.55"/>
<line x1="24.30" y1="416.65" x2="272.50" y2="416.65" stroke="#fff" stroke-width="0.3" stroke-opacity="0.8"/>
<line x1="24.30" y1="412.00" x2="272.50" y2="412.00" stroke="#fff" stroke-width="0.55"/>
<line x1="24.30" y1="406.90" x2="272.50" y2="406.90" stroke="#fff" stroke-width="0.3" stroke-opacity="0.8"/>
<line x1="24.30" y1="401.80" x2="272.50" y2="401.80" stroke="#fff" stroke-width="0.55"/>
<line x1="24.30" y1="395.90" x2="272.50" y2="395.90" stroke="#fff" stroke-width="0.3" stroke-opacity="0.8"/>
<line x1="24.30" y1="390.00" x2="272.50" y2="390.00" stroke="#fff" stroke-width="0.55"/>
<line x1="24.30" y1="385.40" x2="272.50" y2="385.40" stroke="#fff" stroke-width="0.3" stroke-opacity="0.8"/>
<line x1="24.30" y1="380.80" x2="272.50" y2="380.80" stroke="#fff" stroke-width="0.55"/>
<line x1="24.30" y1="376.65" x2="272.50" y2="376.65" stroke="#fff" stroke-width="0.3" stroke-opacity="0.8"/>
<line x1="24.30" y1="372.50" x2="272.50" y2="372.50" stroke="#fff" stroke-width="0.55"/>
<line x1="24.30" y1="367.85" x2="272.50" y2="367.85" stroke="#fff" stroke-width="0.3" stroke-opacity="0.8"/>
<line x1="24.30" y1="363.20" x2="272.50" y2="363.20" stroke="#fff" stroke-width="0.55"/>
<line x1="24.30" y1="358.10" x2="272.50" y2="358.10" stroke="#fff" stroke-width="0.3" stroke-opacity="0.8"/>
<line x1="24.30" y1="353.00" x2="272.50" y2="353.00" stroke="#fff" stroke-width="0.55"/>
<line x1="24.30" y1="347.50" x2="272.50" y2="347.50" stroke="#fff" stroke-width="0.3" stroke-opacity="0.8"/>
<line x1="24.30" y1="342.00" x2="272.50" y2="342.00" stroke="#fff" stroke-width="0.55"/>
<line x1="24.30" y1="337.25" x2="272.50" y2="337.25" stroke="#fff" stroke-width="0.3" stroke-opacity="0.8"/>
<line x1="24.30" y1="332.50" x2="272.50" y2="332.50" stroke="#fff" stroke-width="0.55"/>
<line x1="24.30" y1="328.15" x2="272.50" y2="328.15" stroke="#fff" stroke-width="0.3" stroke-opacity="0.8"/>
<line x1="24.30" y1="323.80" x2="272.50" y2="323.80" stroke="#fff" stroke-width="0.55"/>
<line x1="24.30" y1="319.40" x2="272.50" y2="319.40" stroke="#fff" stroke-width="0.3" stroke-opacity="0.8"/>
<line x1="24.30" y1="315.00" x2="272.50" y2="315.00" stroke="#fff" stroke-width="0.55"/>
<line x1="24.30" y1="311.75" x2="272.50" y2="311.75" stroke="#fff" stroke-width="0.3" stroke-opacity="0.8"/>
<line x1="24.30" y1="308.50" x2="272.50" y2="308.50" stroke="#fff" stroke-width="0.55"/>
<line x1="24.30" y1="305.25" x2="272.50" y2="305.25" stroke="#fff" stroke-width="0.3" stroke-opacity="0.8"/>
<line x1="24.30" y1="302.00" x2="272.50" y2="302.00" stroke="#fff" stroke-width="0.55"/>
<line x1="24.30" y1="298.50" x2="272.50" y2="298.50" stroke="#fff" stroke-width="0.3" stroke-opacity="0.8"/>
<line x1="24.30" y1="295.00" x2="272.50" y2="295.00" stroke="#fff" stroke-width="0.55"/>
<line x1="24.30" y1="291.50" x2="272.50" y2="291.50" stroke="#fff" stroke-width="0.3" stroke-opacity="0.8"/>
<line x1="24.30" y1="288.00" x2="272.50" y2="288.00" stroke="#fff" stroke-width="0.55"/>
<line x1="24.30" y1="283.65" x2="272.50" y2="283.65" stroke="#fff" stroke-width="0.3" stroke-opacity="0.8"/>
<line x1="24.30" y1="279.30" x2="272.50" y2="279.30" stroke="#fff" stroke-width="0.55"/>
<line x1="24.30" y1="275.55" x2="272.50" y2="275.55" stroke="#fff" stroke-width="0.3" stroke-opacity="0.8"/>
<line x1="24.30" y1="271.80" x2="272.50" y2="271.80" stroke="#fff" stroke-width="0.55"/>
<line x1="24.30" y1="268.80" x2="272.50" y2="268.80" stroke="#fff" stroke-width="0.3" stroke-opacity="0.8"/>
<line x1="24.30" y1="265.80" x2="272.50" y2="265.80" stroke="#fff" stroke-width="0.55"/>
<line x1="24.30" y1="262.55" x2="272.50" y2="262.55" stroke="#fff" stroke-width="0.3" stroke-opacity="0.8"/>
<line x1="24.30" y1="259.30" x2="272.50" y2="259.30" stroke="#fff" stroke-width="0.55"/>
<line x1="24.30" y1="256.15" x2="272.50" y2="256.15" stroke="#fff" stroke-width="0.3" stroke-opacity="0.8"/>
<line x1="24.30" y1="253.00" x2="272.50" y2="253.00" stroke="#fff" stroke-width="0.55"/>
<line x1="52.90" y1="250.40" x2="52.90" y2="524.00" stroke="#fff" stroke-width="0.6"/>
<line x1="100.60" y1="250.40" x2="100.60" y2="524.00" stroke="#fff" stroke-width="0.6"/>
<line x1="148.30" y1="250.40" x2="148.30" y2="524.00" stroke="#fff" stroke-width="0.6"/>
<line x1="196.00" y1="250.40" x2="196.00" y2="524.00" stroke="#fff" stroke-width="0.6"/>
<line x1="243.70" y1="250.40" x2="243.70" y2="524.00" stroke="#fff" stroke-width="0.6"/>
<line x1="29.05" y1="250.40" x2="29.05" y2="524.00" stroke="#fff" stroke-width="0.3"/>
<line x1="76.75" y1="250.40" x2="76.75" y2="524.00" stroke="#fff" stroke-width="0.3"/>
<line x1="124.45" y1="250.40" x2="124.45" y2="524.00" stroke="#fff" stroke-width="0.3"/>
<line x1="172.15" y1="250.40" x2="172.15" y2="524.00" stroke="#fff" stroke-width="0.3"/>
<line x1="219.85" y1="250.40" x2="219.85" y2="524.00" stroke="#fff" stroke-width="0.3"/>
<line x1="267.55" y1="250.40" x2="267.55" y2="524.00" stroke="#fff" stroke-width="0.3"/>
<rect x="125.00" y="511.70" width="43.00" height="12.10" fill="#2e2e2e"/>
<rect x="125.00" y="496.40" width="43.00" height="15.30" fill="#0e0ed6"/>
<rect x="125.00" y="487.40" width="43.00" height="9.00" fill="#2e2e2e"/>
<rect x="125.00" y="474.40" width="43.00" height="13.00" fill="#0e0ed6"/>
<rect x="125.00" y="460.40" width="43.00" height="14.00" fill="#2e2e2e"/>
<rect x="125.00" y="447.90" width="43.00" height="12.50" fill="#0e0ed6"/>
<rect x="125.00" y="438.60" width="43.00" height="9.30" fill="#2e2e2e"/>
<rect x="125.00" y="425.00" width="43.00" height="13.60" fill="#0e0ed6"/>
<rect x="125.00" y="416.40" width="43.00" height="8.60" fill="#2e2e2e"/>
<rect x="125.00" y="407.20" width="43.00" height="9.20" fill="#0e0ed6"/>
<rect x="125.00" y="396.10" width="43.00" height="11.10" fill="#2e2e2e"/>
<rect x="125.00" y="384.50" width="43.00" height="11.60" fill="#0e0ed6"/>
<rect x="125.00" y="378.20" width="43.00" height="6.30" fill="#2e2e2e"/>
<rect x="125.00" y="367.70" width="43.00" height="10.50" fill="#0e0ed6"/>
<rect x="125.00" y="359.10" width="43.00" height="8.60" fill="#2e2e2e"/>
<rect x="125.00" y="346.80" width="43.00" height="12.30" fill="#0e0ed6"/>
<rect x="125.00" y="338.00" width="43.00" height="8.80" fill="#2e2e2e"/>
<rect x="125.00" y="327.90" width="43.00" height="10.10" fill="#0e0ed6"/>
<rect x="125.00" y="318.80" width="43.00" height="9.10" fill="#2e2e2e"/>
<rect x="125.00" y="310.60" width="43.00" height="8.20" fill="#0e0ed6"/>
<rect x="125.00" y="305.70" width="43.00" height="4.90" fill="#2e2e2e"/>
<rect x="125.00" y="297.90" width="43.00" height="7.80" fill="#0e0ed6"/>
<rect x="125.00" y="292.80" width="43.00" height="5.10" fill="#2e2e2e"/>
<rect x="125.00" y="284.20" width="43.00" height="8.60" fill="#0e0ed6"/>
<rect x="125.00" y="274.20" width="43.00" height="10.00" fill="#2e2e2e"/>
<rect x="125.00" y="267.80" width="43.00" height="6.40" fill="#0e0ed6"/>
<rect x="125.00" y="262.30" width="43.00" height="5.50" fill="#2e2e2e"/>
<rect x="125.00" y="255.90" width="43.00" height="6.40" fill="#0e0ed6"/>
<rect x="125.00" y="250.50" width="43.00" height="5.40" fill="#2e2e2e"/>
<path d="M125.6 512.9h0M125.9 516.9h0M125.2 513.5h0M125.8 519.2h0M125.1 518.6h0M125.6 523.1h0M126.0 521.8h0M125.7 513.7h0M124.8 519.8h0M124.6 515.6h0M124.4 517.2h0M124.7 521.1h0M124.3 514.9h0M124.4 518.0h0M124.1 520.3h0M124.7 523.2h0M124.9 516.8h0M123.2 522.8h0M123.5 519.6h0M123.9 520.0h0M123.4 523.3h0M123.2 515.3h0M123.6 519.7h0M124.0 517.3h0M123.8 513.4h0M123.9 520.8h0M123.9 514.9h0M123.6 521.9h0M123.9 517.2h0M122.5 518.8h0M122.7 512.1h0M122.6 516.3h0M122.4 522.9h0M122.3 517.9h0M122.4 519.7h0M122.9 522.3h0M122.2 522.0h0M122.2 516.5h0M122.6 513.3h0M122.4 512.8h0M122.9 514.5h0M121.8 513.2h0M121.6 512.4h0M121.1 519.0h0M120.9 513.3h0M120.7 515.1h0M120.2 513.9h0M121.0 522.8h0M120.5 513.8h0M120.5 512.4h0M120.5 523.2h0M120.1 520.0h0M119.8 517.9h0M119.6 512.4h0M120.0 515.3h0M119.7 519.9h0M119.0 517.2h0M119.1 523.3h0M119.0 516.2h0M119.8 514.7h0M119.8 514.4h0M119.4 522.3h0M119.2 517.5h0M119.3 521.1h0M119.9 519.6h0M118.9 513.8h0M118.1 521.2h0M118.9 521.4h0M118.0 519.5h0M118.6 518.3h0M118.9 512.3h0M118.0 519.4h0M118.5 522.6h0M118.6 522.0h0M118.2 514.5h0M118.7 515.4h0M118.8 518.7h0M118.7 516.8h0M117.6 514.2h0M118.0 521.1h0M117.8 517.5h0M117.3 518.4h0M117.7 518.0h0M117.4 521.0h0M117.9 518.4h0M117.8 515.2h0M117.2 517.8h0M117.4 520.7h0M117.1 517.1h0M116.9 517.1h0M116.9 514.8h0M116.9 519.7h0M116.2 522.2h0M116.8 520.2h0M116.3 513.7h0M116.1 523.0h0M116.8 522.9h0M116.6 517.6h0M116.0 521.5h0M116.8 517.0h0M116.5 515.9h0M116.8 515.7h0M116.3 512.3h0M116.4 517.1h0M115.0 521.0h0M115.0 513.3h0M115.7 512.5h0M115.2 515.2h0M114.9 512.8h0M114.3 516.9h0M114.9 522.7h0M114.4 521.2h0M114.9 521.8h0M114.9 521.8h0M114.5 515.9h0M114.4 522.6h0M113.8 512.7h0M113.8 515.6h0M113.7 520.7h0M113.7 517.8h0M112.7 512.3h0M112.3 518.3h0M111.2 516.5h0M111.5 519.9h0M111.0 516.0h0M111.2 520.1h0M111.4 516.7h0M111.7 512.7h0M110.8 513.1h0M110.2 521.9h0M110.3 515.3h0M109.6 515.1h0M109.0 523.1h0M109.5 514.9h0M108.6 517.5h0M108.5 514.4h0M108.5 512.2h0M108.0 512.4h0M107.7 514.7h0M106.0 513.8h0M106.3 519.4h0M107.0 521.5h0M106.1 519.2h0M106.3 521.3h0M106.9 518.0h0M106.5 521.5h0M105.9 516.2h0M105.9 521.5h0M105.4 519.2h0M105.4 519.8h0M105.5 512.1h0M105.2 520.6h0M105.5 518.1h0M104.9 515.1h0M104.3 514.4h0M104.3 523.1h0M103.4 513.0h0M103.9 515.0h0M103.3 515.5h0M103.4 512.2h0M103.9 515.1h0M102.5 513.4h0M102.1 514.4h0M102.0 522.7h0M103.0 517.3h0M102.2 523.0h0M101.1 514.5h0M101.4 513.7h0M100.5 522.1h0M100.3 514.7h0M100.1 517.6h0M97.9 516.0h0M97.7 521.6h0M95.1 520.2h0M95.1 515.4h0M94.0 518.8h0M93.7 512.6h0M91.1 514.9h0M89.6 522.9h0M88.3 512.7h0M88.3 517.2h0M88.2 519.4h0M88.7 512.7h0M88.1 513.5h0M87.7 520.5h0M86.3 515.5h0M85.8 513.9h0M83.8 522.3h0M82.9 514.3h0M75.6 516.8h0M69.5 519.2h0M62.1 512.3h0M167.9 513.8h0M167.4 514.5h0M168.0 513.7h0M167.1 512.8h0M167.4 522.2h0M167.9 520.4h0M168.0 522.6h0M167.3 514.2h0M167.9 520.5h0M167.0 519.6h0M167.4 516.3h0M167.3 514.0h0M167.0 515.3h0M167.4 522.9h0M168.4 522.2h0M168.0 516.7h0M168.8 520.8h0M168.0 512.5h0M168.1 522.5h0M168.3 520.5h0M168.9 515.9h0M168.3 522.9h0M168.6 515.1h0M168.7 515.7h0M168.3 512.1h0M169.9 514.2h0M169.8 520.4h0M169.8 520.8h0M169.6 515.8h0M169.3 516.2h0M169.8 513.0h0M169.2 520.6h0M169.2 512.8h0M169.0 518.3h0M169.3 523.2h0M169.9 523.3h0M169.3 513.1h0M170.8 515.4h0M170.6 516.3h0M170.7 514.4h0M170.2 514.9h0M170.2 522.1h0M170.6 515.8h0M170.4 523.3h0M170.5 514.7h0M170.8 519.5h0M171.0 513.3h0M170.5 521.4h0M171.4 521.9h0M171.4 515.0h0M171.8 522.8h0M171.1 518.8h0M171.6 514.6h0M171.4 513.7h0M171.2 515.0h0M171.6 519.5h0M172.3 514.4h0M172.8 518.3h0M172.1 513.2h0M172.4 518.3h0M174.0 515.6h0M173.6 516.1h0M173.4 521.9h0M174.0 516.2h0M173.2 520.3h0M173.2 512.2h0M174.6 519.3h0M174.9 513.1h0M174.6 516.3h0M174.5 513.7h0M174.3 518.0h0M174.9 513.3h0M174.5 521.2h0M175.9 516.5h0M175.9 519.1h0M175.8 513.9h0M175.8 514.6h0M175.4 521.7h0M175.8 514.2h0M176.7 522.2h0M176.0 518.5h0M176.8 512.5h0M176.8 513.4h0M176.6 518.3h0M177.0 519.1h0M177.5 514.8h0M177.8 520.9h0M177.5 514.1h0M177.5 513.3h0M177.1 517.0h0M177.1 517.1h0M178.7 520.9h0M178.5 512.7h0M178.5 516.4h0M180.0 522.5h0M179.2 521.0h0M179.9 512.8h0M179.4 520.6h0M179.2 522.2h0M179.3 521.3h0M179.1 517.8h0M179.9 514.5h0M180.2 513.9h0M180.9 519.8h0M180.9 514.0h0M181.9 518.4h0M181.6 522.1h0M181.1 523.3h0M181.6 516.6h0M182.2 520.5h0M182.0 521.4h0M182.3 519.3h0M183.0 518.7h0M182.7 515.6h0M182.0 512.5h0M183.9 513.6h0M183.2 519.5h0M183.0 512.1h0M184.4 514.6h0M185.5 513.6h0M185.9 514.9h0M185.1 513.2h0M186.0 519.4h0M186.6 516.1h0M186.6 517.1h0M186.9 520.4h0M187.5 516.7h0M187.2 512.8h0M188.6 522.7h0M189.6 517.8h0M190.3 515.5h0M190.0 522.1h0M191.8 520.5h0M191.5 520.5h0M192.1 514.7h0M194.8 520.1h0M194.3 518.4h0M195.3 519.4h0M196.0 514.6h0M196.3 514.8h0M197.9 515.8h0M197.2 522.4h0M197.6 519.9h0M198.8 520.0h0M198.9 517.0h0M199.2 519.1h0M199.1 522.4h0M203.1 512.4h0M205.7 520.4h0M207.8 521.4h0M208.9 522.4h0M209.2 513.4h0M211.8 519.2h0M211.3 513.2h0M213.3 516.9h0M220.9 519.1h0M236.5 517.7h0M125.0 495.0h0M125.3 490.0h0M125.8 490.0h0M125.9 488.2h0M125.5 491.1h0M125.4 490.8h0M126.0 493.4h0M125.3 492.3h0M124.0 487.8h0M124.4 495.4h0M124.7 492.8h0M124.6 489.8h0M124.8 488.8h0M124.2 494.2h0M124.1 488.2h0M124.3 490.5h0M124.4 492.3h0M124.7 495.8h0M125.0 493.9h0M124.1 492.0h0M123.5 489.6h0M123.4 490.0h0M123.1 491.7h0M123.3 492.1h0M123.5 489.6h0M123.9 495.4h0M123.5 492.1h0M123.5 494.5h0M123.8 489.2h0M123.2 491.6h0M123.4 494.6h0M123.1 494.9h0M122.7 488.6h0M122.6 494.4h0M122.5 491.5h0M122.9 491.0h0M122.0 493.5h0M121.6 490.6h0M121.6 487.9h0M121.8 492.5h0M121.9 489.3h0M121.3 490.1h0M121.7 489.8h0M121.2 488.5h0M121.4 494.8h0M120.6 490.8h0M120.3 490.2h0M120.6 493.1h0M120.2 490.7h0M120.6 492.5h0M119.2 490.9h0M119.5 491.9h0M119.1 494.0h0M120.0 492.7h0M119.5 491.6h0M119.2 491.2h0M119.5 495.1h0M118.3 492.3h0M118.2 494.1h0M118.9 489.6h0M118.9 494.5h0M118.9 488.5h0M118.2 492.4h0M118.9 493.4h0M117.9 490.5h0M117.5 487.8h0M117.0 490.1h0M117.7 490.4h0M117.7 494.8h0M117.4 492.0h0M117.6 488.2h0M117.7 494.9h0M116.5 490.9h0M116.5 491.8h0M116.4 490.8h0M116.2 489.4h0M115.4 490.5h0M115.7 494.3h0M115.7 493.6h0M115.2 492.7h0M115.5 495.5h0M114.1 488.4h0M114.4 489.3h0M114.1 492.4h0M114.2 491.9h0M114.3 493.3h0M113.9 488.6h0M113.2 495.6h0M113.6 493.2h0M113.7 495.2h0M113.3 489.1h0M112.2 490.2h0M112.8 492.6h0M111.2 489.0h0M111.2 495.8h0M111.6 488.1h0M111.6 493.1h0M110.5 493.8h0M110.6 493.4h0M109.1 496.0h0M109.1 492.1h0M108.5 494.9h0M108.4 492.2h0M108.9 488.9h0M108.7 495.1h0M108.2 489.7h0M107.4 495.7h0M106.7 491.5h0M106.8 493.9h0M106.8 494.3h0M105.4 488.6h0M104.5 488.6h0M104.4 488.9h0M104.4 490.7h0M104.6 493.2h0M103.1 490.5h0M102.9 495.0h0M102.9 491.9h0M102.5 488.8h0M101.5 492.0h0M100.6 489.5h0M98.1 487.9h0M98.1 491.8h0M97.2 489.1h0M97.7 488.1h0M97.6 492.0h0M96.4 489.7h0M96.4 494.2h0M95.8 492.7h0M94.4 493.5h0M93.2 491.6h0M92.1 491.2h0M91.8 493.8h0M90.7 489.0h0M86.5 494.2h0M86.1 494.0h0M86.4 489.4h0M85.2 488.6h0M84.8 495.7h0M83.9 494.6h0M82.2 494.4h0M82.4 491.4h0M81.1 490.3h0M80.1 488.7h0M79.2 489.7h0M79.8 491.6h0M76.3 491.0h0M72.6 488.5h0M167.1 495.6h0M167.9 489.0h0M167.6 492.5h0M167.0 491.0h0M167.7 493.1h0M167.3 494.1h0M167.3 492.3h0M167.4 495.8h0M167.6 494.4h0M167.7 490.9h0M168.2 493.9h0M168.2 490.4h0M168.1 490.2h0M168.4 495.7h0M169.0 489.3h0M168.3 495.5h0M168.2 490.4h0M168.4 488.7h0M168.3 491.0h0M168.4 495.7h0M168.3 489.5h0M169.4 495.3h0M169.5 490.2h0M169.6 489.9h0M169.8 488.1h0M169.8 492.4h0M169.4 495.5h0M169.3 489.8h0M169.1 492.3h0M169.8 493.4h0M169.4 494.4h0M169.1 490.3h0M169.6 495.7h0M170.9 492.2h0M170.5 493.3h0M170.9 488.9h0M170.3 488.3h0M170.4 491.9h0M170.9 493.3h0M170.6 491.1h0M170.6 490.0h0M170.8 494.3h0M170.8 489.0h0M171.1 492.7h0M171.8 490.0h0M171.2 489.6h0M171.1 493.3h0M172.0 494.4h0M171.4 493.5h0M171.1 494.7h0M171.3 487.8h0M171.6 488.9h0M171.3 488.3h0M171.4 492.4h0M171.8 488.1h0M171.8 488.7h0M172.2 494.7h0M172.8 492.2h0M172.0 494.2h0M172.0 491.9h0M172.4 488.3h0M172.6 493.7h0M173.5 488.9h0M173.5 493.4h0M173.7 491.5h0M173.3 489.4h0M173.4 490.1h0M173.2 493.8h0M173.5 491.4h0M173.2 493.6h0M173.2 490.0h0M173.6 493.6h0M174.0 493.9h0M174.9 493.7h0M174.6 490.0h0M174.4 489.1h0M174.6 495.9h0M174.3 488.2h0M174.2 490.7h0M175.2 494.2h0M175.5 495.9h0M175.9 494.3h0M175.5 494.5h0M176.5 489.5h0M176.3 488.0h0M177.0 489.6h0M177.6 490.9h0M177.0 494.6h0M177.8 491.6h0M177.0 495.1h0M177.5 488.4h0M177.3 492.9h0M177.9 491.8h0M177.6 489.5h0M178.6 488.8h0M178.2 491.5h0M178.6 493.0h0M179.7 488.2h0M179.5 491.1h0M180.1 495.3h0M180.6 488.3h0M180.2 495.9h0M180.2 491.0h0M180.8 494.6h0M181.1 495.8h0M181.8 488.1h0M183.7 495.4h0M183.6 495.3h0M184.0 494.0h0M186.2 492.0h0M186.1 494.3h0M186.9 495.3h0M188.6 494.4h0M188.1 488.2h0M188.5 490.2h0M188.4 487.9h0M189.8 494.5h0M190.7 489.5h0M192.0 492.3h0M192.7 494.8h0M193.4 490.3h0M194.6 495.8h0M195.1 488.7h0M196.5 491.1h0M196.6 493.1h0M197.7 488.1h0M197.7 494.8h0M197.4 495.0h0M197.2 495.5h0M199.3 490.7h0M203.8 496.0h0M203.8 490.0h0M203.2 491.2h0M206.8 494.2h0M206.9 494.3h0M209.6 490.8h0M211.5 493.1h0M213.9 493.5h0M214.2 490.2h0M215.3 493.7h0M216.4 493.4h0M226.6 493.2h0M237.3 494.1h0M125.8 468.4h0M125.8 467.1h0M125.5 466.6h0M125.5 471.8h0M126.0 473.1h0M125.8 461.3h0M125.2 468.3h0M125.5 463.7h0M125.2 464.8h0M125.3 463.8h0M125.4 469.4h0M125.6 467.1h0M124.9 464.1h0M124.9 467.3h0M124.7 464.8h0M124.5 465.7h0M124.2 470.3h0M124.9 463.7h0M125.0 465.1h0M124.9 470.0h0M124.2 473.9h0M124.8 461.3h0M123.1 466.2h0M123.3 468.2h0M123.5 468.4h0M123.8 468.2h0M123.1 461.9h0M123.6 472.4h0M123.0 461.0h0M123.4 469.1h0M123.2 467.0h0M123.9 464.8h0M123.3 470.4h0M123.8 469.3h0M123.3 469.5h0M124.0 466.6h0M122.1 461.1h0M122.3 465.7h0M122.8 466.0h0M122.5 466.3h0M122.9 467.7h0M122.7 473.6h0M122.6 466.5h0M122.8 473.6h0M122.7 469.3h0M122.2 466.0h0M122.2 464.5h0M122.9 461.4h0M122.0 466.7h0M121.1 464.8h0M121.4 470.2h0M121.9 473.0h0M121.9 464.8h0M121.3 461.1h0M121.6 462.5h0M121.5 461.0h0M121.8 463.7h0M121.9 462.0h0M121.8 467.6h0M121.9 471.6h0M121.6 464.1h0M120.9 470.0h0M120.4 470.3h0M120.7 467.4h0M120.8 466.6h0M120.7 468.5h0M120.7 464.4h0M120.4 461.9h0M120.2 467.3h0M120.8 462.3h0M119.1 463.1h0M119.7 468.9h0M119.8 466.9h0M119.3 462.1h0M119.3 462.2h0M119.5 469.4h0M119.3 461.4h0M119.8 473.5h0M119.6 466.4h0M119.6 470.0h0M119.3 469.4h0M119.6 468.3h0M119.5 463.3h0M119.1 473.5h0M119.2 473.9h0M119.5 471.9h0M119.8 470.6h0M119.3 473.2h0M119.2 472.4h0M118.7 462.2h0M118.8 470.3h0M118.8 472.0h0M118.7 472.0h0M118.7 464.3h0M118.6 461.0h0M118.6 465.8h0M119.0 472.2h0M118.6 460.8h0M118.0 463.8h0M118.7 461.1h0M118.9 470.2h0M117.3 471.5h0M117.3 468.1h0M117.2 462.8h0M117.5 464.3h0M117.6 463.3h0M117.3 468.4h0M117.2 469.1h0M117.4 473.0h0M117.2 468.3h0M117.7 473.0h0M116.4 471.5h0M116.8 469.8h0M116.1 462.5h0M116.9 467.3h0M116.7 473.3h0M116.0 466.7h0M116.2 469.1h0M116.8 473.6h0M116.8 461.8h0M116.5 461.0h0M116.5 466.2h0M116.0 466.3h0M116.2 471.1h0M115.7 461.0h0M115.9 461.5h0M115.6 471.8h0M115.3 473.6h0M115.2 468.5h0M115.4 461.0h0M115.6 464.3h0M115.4 461.7h0M115.5 465.8h0M115.5 466.1h0M114.1 469.6h0M114.7 472.9h0M114.2 472.6h0M114.8 468.4h0M114.6 464.7h0M114.2 468.9h0M114.7 468.0h0M114.1 468.3h0M114.1 468.3h0M113.1 461.0h0M113.7 472.4h0M113.9 471.2h0M114.0 469.4h0M113.2 463.9h0M113.6 463.8h0M113.3 467.8h0M113.4 465.1h0M113.4 473.4h0M113.2 473.4h0M112.7 467.3h0M112.1 463.0h0M112.2 466.0h0M112.5 473.0h0M112.9 465.1h0M112.8 462.6h0M112.7 470.0h0M112.4 462.4h0M112.2 467.5h0M111.1 471.7h0M111.9 470.9h0M111.2 469.2h0M111.2 473.8h0M111.7 471.8h0M111.1 464.9h0M111.3 469.8h0M110.3 469.7h0M110.9 471.1h0M110.2 464.8h0M110.9 464.5h0M110.2 467.0h0M110.2 462.9h0M110.9 465.4h0M110.1 462.9h0M109.8 469.6h0M109.1 466.2h0M109.6 461.2h0M109.7 464.0h0M108.7 470.6h0M108.8 465.1h0M108.7 472.2h0M108.4 467.1h0M108.6 473.0h0M108.1 466.7h0M108.4 472.2h0M107.2 462.9h0M107.6 473.9h0M107.5 465.8h0M106.5 464.6h0M106.6 467.0h0M106.1 472.8h0M106.1 467.1h0M106.0 462.6h0M106.1 469.3h0M106.1 466.3h0M106.0 461.1h0M105.8 471.4h0M105.3 462.0h0M105.0 463.7h0M105.6 466.3h0M105.4 472.6h0M105.1 469.2h0M105.6 462.2h0M104.0 466.3h0M104.6 466.3h0M104.8 473.2h0M103.5 466.7h0M103.0 468.2h0M103.8 461.5h0M103.8 465.4h0M103.0 461.7h0M102.3 469.9h0M102.6 472.9h0M102.2 464.8h0M102.9 468.1h0M102.3 463.8h0M102.0 470.5h0M100.8 463.2h0M100.2 466.8h0M100.3 465.4h0M99.0 469.7h0M99.5 469.2h0M99.9 465.2h0M99.8 471.9h0M100.0 466.7h0M98.3 464.7h0M98.3 465.4h0M98.2 468.4h0M98.2 473.8h0M97.1 461.2h0M97.5 465.9h0M96.2 468.1h0M96.2 467.3h0M95.0 464.2h0M94.3 470.9h0M93.8 467.9h0M93.4 470.4h0M93.8 464.9h0M92.7 470.4h0M91.3 462.3h0M90.9 464.1h0M89.1 473.2h0M87.7 473.3h0M87.0 461.0h0M82.2 464.9h0M80.8 462.3h0M68.4 467.1h0M63.0 470.0h0M52.3 461.3h0M167.1 473.9h0M167.7 463.6h0M167.1 472.6h0M167.7 468.5h0M167.1 466.3h0M167.9 460.8h0M167.4 461.6h0M168.0 462.2h0M168.0 471.9h0M167.7 461.4h0M167.7 467.3h0M168.0 465.1h0M168.3 462.4h0M168.4 461.3h0M168.9 467.2h0M168.9 470.0h0M168.7 470.8h0M168.3 470.4h0M168.2 468.1h0M168.6 471.0h0M168.2 465.3h0M168.8 471.4h0M169.0 462.4h0M168.2 462.2h0M168.7 470.6h0M168.6 471.1h0M168.5 468.2h0M169.0 470.3h0M169.4 466.7h0M169.6 465.6h0M169.2 461.0h0M169.9 473.2h0M169.3 466.9h0M169.3 461.6h0M169.9 471.8h0M169.2 464.2h0M169.7 471.3h0M169.5 465.9h0M169.2 471.3h0M169.9 472.1h0M169.1 468.6h0M170.0 470.2h0M169.5 462.7h0M169.1 470.5h0M170.2 465.3h0M170.6 465.1h0M170.4 471.5h0M170.2 470.3h0M170.3 473.3h0M171.0 465.1h0M170.6 462.3h0M170.4 469.0h0M170.6 465.3h0M170.0 462.4h0M170.6 463.1h0M170.3 469.0h0M170.9 467.6h0M171.1 463.6h0M171.3 466.0h0M171.8 466.1h0M171.5 466.0h0M171.8 472.7h0M171.4 473.0h0M171.3 473.7h0M171.5 469.8h0M171.4 464.4h0M172.0 470.2h0M172.4 461.7h0M172.3 463.6h0M172.8 468.1h0M172.3 464.1h0M172.3 464.5h0M172.3 471.2h0M172.8 470.0h0M172.9 469.4h0M172.1 461.4h0M174.0 464.2h0M173.8 462.3h0M173.7 465.5h0M173.9 464.7h0M173.1 463.4h0M173.8 473.7h0M173.6 469.8h0M173.3 464.4h0M173.1 473.8h0M173.0 468.9h0M174.9 462.3h0M174.2 464.0h0M174.5 467.1h0M174.6 470.4h0M174.9 467.0h0M174.0 471.8h0M174.0 465.0h0M174.1 468.7h0M174.8 462.5h0M175.1 463.0h0M175.4 462.5h0M175.4 468.1h0M175.6 466.1h0M175.8 462.0h0M175.3 473.1h0M175.9 473.0h0M175.8 467.9h0M175.8 468.4h0M176.5 462.1h0M176.7 471.3h0M176.8 472.4h0M176.3 462.7h0M176.8 470.0h0M177.5 470.6h0M177.9 465.5h0M177.7 466.1h0M177.9 470.8h0M177.6 465.6h0M177.3 472.5h0M177.8 464.8h0M178.8 467.8h0M178.6 467.9h0M178.4 468.2h0M179.7 469.3h0M179.8 469.9h0M179.9 461.5h0M180.8 462.8h0M181.5 464.5h0M182.0 471.1h0M181.7 464.8h0M181.7 467.2h0M181.8 465.6h0M181.9 469.8h0M182.9 470.2h0M182.5 472.0h0M182.1 465.3h0M182.7 471.7h0M182.4 473.9h0M183.1 468.3h0M183.3 464.2h0M184.4 464.9h0M184.6 465.4h0M185.0 473.4h0M184.7 471.7h0M185.3 462.5h0M186.0 464.4h0M186.1 467.8h0M186.3 469.7h0M186.6 468.7h0M186.3 470.5h0M187.0 467.0h0M187.6 463.3h0M187.9 472.4h0M187.9 471.6h0M188.7 473.8h0M188.1 460.9h0M189.1 471.9h0M189.3 472.8h0M190.2 473.5h0M191.5 470.5h0M192.0 473.2h0M193.0 473.3h0M193.3 468.2h0M193.4 468.4h0M193.9 473.3h0M194.4 473.3h0M194.3 465.6h0M194.6 463.9h0M195.9 461.7h0M195.7 465.4h0M198.9 467.8h0M198.3 467.6h0M199.0 470.4h0M198.7 471.9h0M199.8 463.4h0M200.5 468.4h0M202.4 468.6h0M202.4 460.8h0M204.3 471.5h0M205.0 470.8h0M205.6 465.6h0M209.1 470.0h0M209.1 463.7h0M211.3 467.1h0M214.8 463.2h0M218.7 469.6h0M232.3 463.7h0M237.9 466.6h0M242.3 467.1h0M125.8 439.3h0M125.4 439.7h0M125.8 440.5h0M125.1 445.7h0M125.7 447.3h0M125.8 440.2h0M125.6 445.8h0M125.9 445.7h0M125.5 445.8h0M125.7 439.4h0M124.8 445.2h0M125.0 443.0h0M124.7 445.5h0M124.3 444.8h0M124.8 439.4h0M124.4 444.9h0M125.0 446.1h0M124.1 442.1h0M123.7 442.4h0M123.8 441.7h0M123.3 446.5h0M123.5 446.2h0M123.9 443.4h0M123.3 445.6h0M123.6 440.4h0M123.0 444.2h0M123.3 441.9h0M122.4 440.6h0M122.9 445.0h0M122.3 444.7h0M122.7 443.1h0M122.2 444.4h0M122.1 439.8h0M122.2 439.1h0M122.4 443.5h0M122.9 442.6h0M122.3 446.4h0M121.9 440.9h0M121.6 445.0h0M121.1 443.7h0M121.0 442.6h0M121.3 439.0h0M121.6 439.2h0M121.9 445.9h0M120.9 444.8h0M120.6 439.8h0M120.5 442.2h0M120.0 439.4h0M119.5 442.0h0M119.0 445.0h0M119.4 441.2h0M119.6 443.5h0M119.6 443.8h0M118.3 440.7h0M118.4 439.1h0M118.8 440.5h0M118.6 445.3h0M119.0 446.4h0M118.9 447.1h0M118.1 444.2h0M118.2 447.0h0M117.9 443.4h0M117.4 444.8h0M117.8 443.8h0M117.0 441.2h0M117.2 447.2h0M117.3 442.7h0M116.7 440.5h0M116.1 442.1h0M116.1 443.8h0M115.4 441.9h0M115.6 443.6h0M115.0 447.4h0M115.6 447.1h0M115.0 443.5h0M115.4 440.7h0M115.2 443.1h0M115.2 446.8h0M114.8 447.3h0M114.6 440.1h0M114.6 439.5h0M114.4 440.9h0M114.8 444.4h0M113.5 442.6h0M114.0 442.0h0M113.5 441.9h0M112.8 439.1h0M112.5 442.9h0M112.0 446.9h0M112.6 443.2h0M112.9 445.4h0M112.5 440.4h0M112.1 439.4h0M112.8 443.1h0M111.1 439.2h0M111.8 441.6h0M111.2 439.9h0M111.3 446.5h0M110.9 441.1h0M110.3 443.9h0M110.9 441.4h0M110.9 446.9h0M109.8 444.3h0M109.4 443.4h0M109.2 443.5h0M109.7 444.7h0M109.1 439.4h0M108.2 444.7h0M108.0 443.9h0M108.4 447.3h0M107.1 439.5h0M107.1 446.9h0M106.9 445.3h0M106.5 440.1h0M106.4 441.3h0M106.7 446.4h0M106.4 445.4h0M105.2 446.5h0M105.7 445.0h0M105.8 439.1h0M105.3 445.6h0M104.2 440.2h0M104.1 442.7h0M104.7 442.2h0M104.5 443.5h0M103.4 445.1h0M102.9 439.2h0M102.4 443.4h0M102.8 443.5h0M99.3 443.3h0M99.5 446.1h0M98.2 441.7h0M98.1 445.7h0M98.0 445.4h0M98.6 443.5h0M97.5 443.8h0M96.3 442.2h0M96.3 446.7h0M95.5 446.1h0M92.8 447.3h0M92.0 442.3h0M91.4 439.8h0M91.0 441.1h0M90.7 444.5h0M88.4 444.8h0M87.4 439.7h0M86.2 447.0h0M84.3 439.0h0M83.5 443.2h0M80.9 441.3h0M79.7 443.9h0M77.8 440.5h0M77.6 441.4h0M76.0 440.0h0M69.4 440.1h0M69.4 446.5h0M54.6 441.8h0M49.6 441.6h0M167.5 442.1h0M167.5 442.9h0M168.0 444.3h0M168.0 446.7h0M167.2 445.6h0M167.4 444.1h0M167.6 445.3h0M167.3 444.8h0M167.4 445.7h0M167.5 444.5h0M168.0 441.4h0M167.0 446.6h0M167.5 444.5h0M167.8 446.6h0M169.0 445.7h0M168.6 444.5h0M168.3 445.5h0M168.9 442.2h0M168.5 440.9h0M168.3 446.2h0M168.6 442.8h0M168.6 440.6h0M168.0 442.0h0M168.6 440.6h0M168.5 441.8h0M169.6 444.8h0M169.5 446.7h0M169.0 447.2h0M169.6 442.5h0M169.9 446.6h0M169.6 439.1h0M169.6 442.5h0M169.6 446.1h0M170.1 441.3h0M170.5 447.0h0M170.2 441.5h0M170.4 444.4h0M171.1 439.4h0M171.7 439.6h0M171.9 444.9h0M171.2 442.5h0M171.1 439.7h0M172.4 444.8h0M173.0 441.9h0M172.4 442.4h0M172.2 442.0h0M172.8 440.6h0M172.5 441.4h0M172.6 445.6h0M172.1 443.1h0M172.2 444.5h0M172.7 440.9h0M172.2 441.6h0M173.4 440.7h0M173.8 441.6h0M173.5 439.4h0M173.7 443.4h0M173.8 445.1h0M173.7 441.2h0M173.3 444.1h0M173.0 447.0h0M173.7 443.2h0M174.1 444.8h0M174.5 445.7h0M174.4 447.3h0M174.9 441.7h0M175.0 445.9h0M175.4 440.4h0M175.9 443.7h0M175.7 445.3h0M175.6 446.8h0M175.1 441.8h0M175.2 444.4h0M175.2 439.2h0M175.1 440.5h0M176.5 441.2h0M176.1 439.5h0M176.2 442.4h0M177.7 446.4h0M177.3 439.6h0M178.1 445.1h0M178.9 446.6h0M178.8 442.7h0M178.5 446.2h0M178.4 441.2h0M179.1 446.9h0M180.1 442.1h0M180.3 447.1h0M180.4 447.3h0M180.3 439.4h0M181.3 446.1h0M181.4 447.4h0M181.6 447.0h0M182.7 445.5h0M182.2 439.8h0M182.1 443.6h0M182.1 446.2h0M182.4 447.5h0M183.4 444.2h0M183.9 446.6h0M184.7 444.8h0M185.9 444.7h0M185.1 440.4h0M185.6 441.6h0M185.9 441.4h0M185.5 443.3h0M186.9 446.5h0M186.7 443.6h0M186.0 440.9h0M186.7 440.0h0M187.8 446.1h0M187.7 442.8h0M188.9 439.4h0M188.1 444.6h0M188.2 445.4h0M188.7 440.4h0M189.9 444.9h0M189.1 442.2h0M189.7 442.1h0M189.2 442.9h0M189.1 443.0h0M189.1 445.2h0M191.6 444.5h0M193.2 443.1h0M193.8 444.3h0M196.5 443.4h0M197.1 446.2h0M198.5 439.4h0M200.3 439.7h0M200.3 443.4h0M201.8 447.5h0M202.1 444.7h0M204.1 447.5h0M211.7 440.5h0M213.3 444.2h0M214.7 442.9h0M216.6 441.7h0M225.7 445.9h0M230.0 446.5h0M125.1 424.6h0M125.5 420.1h0M125.2 420.1h0M125.8 420.5h0M125.7 418.8h0M125.2 419.5h0M125.4 419.2h0M125.9 422.9h0M125.2 422.3h0M125.4 418.2h0M124.7 419.9h0M124.3 422.2h0M124.1 424.1h0M124.7 418.7h0M124.9 419.4h0M124.9 424.3h0M124.4 420.6h0M124.9 423.9h0M123.4 422.4h0M123.8 417.8h0M123.5 419.9h0M123.6 419.7h0M123.8 417.8h0M123.3 421.7h0M122.2 417.8h0M122.4 418.9h0M122.8 419.2h0M122.6 421.8h0M122.6 423.5h0M122.8 423.5h0M122.6 423.0h0M122.6 418.8h0M122.1 421.8h0M122.3 420.9h0M121.8 418.1h0M121.7 420.1h0M121.6 420.4h0M122.0 419.5h0M121.5 417.2h0M121.5 423.9h0M121.3 424.2h0M121.1 420.7h0M122.0 417.3h0M121.4 423.4h0M121.7 417.8h0M121.2 421.0h0M120.2 419.3h0M120.6 419.5h0M120.2 420.2h0M120.9 420.5h0M120.9 416.9h0M120.9 419.8h0M119.9 423.8h0M118.2 422.0h0M118.7 418.1h0M118.4 424.1h0M118.8 424.6h0M118.5 418.4h0M118.8 422.4h0M118.1 418.4h0M117.6 418.7h0M117.3 418.7h0M117.7 420.1h0M117.0 422.1h0M117.0 420.5h0M115.8 417.9h0M115.8 419.4h0M115.9 421.6h0M115.8 420.8h0M115.3 420.7h0M115.3 422.9h0M114.3 419.7h0M114.7 417.5h0M113.1 418.6h0M113.4 424.1h0M113.5 420.1h0M113.0 423.5h0M113.1 422.3h0M113.8 417.2h0M112.1 424.3h0M112.8 424.4h0M111.0 424.1h0M111.6 420.6h0M110.1 418.3h0M110.5 424.0h0M110.4 423.0h0M110.2 420.3h0M110.3 422.2h0M110.6 420.9h0M110.2 423.7h0M109.7 423.1h0M109.3 416.8h0M109.9 417.9h0M109.4 422.8h0M109.7 417.4h0M109.4 421.6h0M108.2 419.8h0M108.3 421.1h0M108.8 419.0h0M107.9 418.3h0M107.6 422.4h0M107.1 421.4h0M107.9 419.7h0M106.4 420.7h0M105.1 421.7h0M104.2 416.9h0M104.3 424.3h0M104.0 422.9h0M102.3 422.1h0M101.6 422.1h0M101.1 422.2h0M101.1 422.9h0M100.9 419.5h0M100.1 419.1h0M100.7 424.0h0M100.0 417.3h0M99.7 418.7h0M99.1 420.3h0M99.1 420.6h0M99.0 420.3h0M97.6 423.3h0M97.8 417.3h0M97.8 417.5h0M96.3 423.0h0M96.8 417.4h0M96.0 423.0h0M93.6 418.0h0M91.2 416.8h0M88.7 424.4h0M87.4 418.4h0M86.2 419.5h0M86.8 421.9h0M85.8 420.7h0M82.6 418.4h0M79.4 422.3h0M78.8 423.9h0M78.4 423.7h0M69.4 420.0h0M57.6 421.0h0M167.9 420.4h0M167.6 421.8h0M167.6 423.7h0M167.9 419.3h0M167.9 419.3h0M167.7 418.0h0M167.6 419.1h0M168.0 422.0h0M167.4 424.3h0M169.0 417.6h0M168.6 421.0h0M168.1 424.1h0M168.6 421.6h0M168.3 418.0h0M169.8 417.9h0M169.2 420.9h0M169.7 419.3h0M169.2 417.8h0M171.0 423.9h0M170.3 419.0h0M170.5 418.4h0M170.8 423.7h0M170.7 419.9h0M170.8 424.1h0M170.2 422.0h0M171.5 417.4h0M171.5 423.5h0M171.6 418.9h0M171.2 421.2h0M171.5 423.8h0M171.2 420.4h0M172.3 420.9h0M172.9 420.6h0M172.3 417.1h0M172.5 419.5h0M172.1 420.5h0M173.5 421.5h0M173.6 418.6h0M173.3 422.4h0M173.4 420.9h0M173.2 421.7h0M174.8 423.1h0M175.6 422.3h0M175.8 418.0h0M175.2 421.8h0M175.1 423.7h0M175.9 421.7h0M175.3 421.2h0M175.8 419.5h0M175.6 421.5h0M176.6 418.5h0M177.0 418.5h0M176.9 419.4h0M176.2 421.3h0M176.3 424.6h0M176.6 417.6h0M176.3 417.7h0M176.5 420.9h0M177.8 417.0h0M177.2 417.0h0M178.0 421.0h0M177.8 424.5h0M177.1 423.8h0M179.2 417.4h0M179.5 420.9h0M179.2 420.9h0M179.1 419.2h0M179.7 418.0h0M179.5 417.8h0M180.7 417.3h0M181.0 422.2h0M180.0 417.9h0M180.1 419.5h0M180.9 423.0h0M181.5 419.8h0M181.1 424.0h0M182.5 423.8h0M182.6 421.8h0M182.5 419.6h0M182.0 418.5h0M183.1 422.7h0M184.9 418.7h0M184.3 420.9h0M184.2 418.8h0M184.7 423.0h0M185.0 421.9h0M185.6 424.0h0M185.6 424.3h0M186.3 420.6h0M186.0 420.2h0M188.6 420.6h0M188.1 419.1h0M188.5 420.1h0M189.6 421.6h0M191.7 420.3h0M191.7 419.7h0M191.6 422.5h0M191.6 421.5h0M192.7 420.3h0M193.3 421.7h0M194.6 420.9h0M195.0 419.6h0M195.5 421.7h0M196.4 423.0h0M196.1 423.7h0M197.7 421.0h0M198.1 421.4h0M201.3 419.6h0M205.1 424.4h0M205.9 417.5h0M207.0 420.2h0M211.9 419.4h0M212.9 421.3h0M235.4 422.7h0M125.4 400.7h0M125.5 397.4h0M125.0 400.9h0M125.7 405.2h0M125.7 404.6h0M125.6 397.7h0M125.4 399.4h0M125.8 406.7h0M125.1 401.4h0M125.0 401.3h0M124.6 406.0h0M124.5 406.4h0M124.8 400.4h0M125.0 397.0h0M124.3 396.8h0M124.8 401.0h0M124.1 398.9h0M125.0 403.7h0M124.3 397.9h0M124.1 405.4h0M124.1 405.0h0M124.5 403.7h0M123.5 396.7h0M123.5 398.2h0M123.0 399.8h0M123.5 399.2h0M123.1 396.6h0M123.7 398.8h0M123.3 400.3h0M123.1 399.9h0M122.8 401.9h0M122.6 401.5h0M122.3 398.0h0M123.0 397.2h0M122.2 403.7h0M122.8 399.9h0M121.4 401.1h0M121.1 405.0h0M121.3 406.8h0M121.0 405.6h0M121.9 400.6h0M121.9 402.8h0M120.4 403.7h0M120.3 400.8h0M120.8 405.5h0M121.0 398.6h0M120.8 402.6h0M120.4 397.5h0M119.2 402.9h0M119.2 401.8h0M119.9 400.6h0M119.9 397.5h0M119.2 396.5h0M119.6 396.9h0M119.2 406.7h0M118.3 404.7h0M118.6 396.5h0M118.6 403.6h0M118.0 401.0h0M118.6 400.4h0M118.4 396.7h0M118.1 406.3h0M117.7 398.0h0M116.1 404.2h0M116.7 398.8h0M116.7 400.6h0M116.3 404.5h0M116.1 397.3h0M116.8 400.4h0M116.0 401.2h0M116.3 405.0h0M115.7 401.5h0M115.2 398.4h0M115.2 397.4h0M115.6 401.3h0M115.3 401.9h0M115.2 403.6h0M115.6 401.9h0M115.6 405.5h0M115.7 398.4h0M115.8 399.1h0M115.2 403.6h0M115.8 400.8h0M114.3 406.0h0M114.2 402.4h0M114.8 398.9h0M114.1 405.4h0M114.8 400.0h0M114.4 399.6h0M114.8 405.4h0M114.9 403.0h0M113.2 404.7h0M114.0 398.8h0M113.3 405.5h0M113.5 405.7h0M113.9 399.2h0M112.3 400.2h0M112.3 399.2h0M112.5 398.4h0M112.7 400.8h0M112.9 399.7h0M112.6 399.9h0M112.5 405.8h0M112.2 399.5h0M111.8 397.4h0M111.6 404.4h0M111.9 401.0h0M111.9 398.7h0M111.4 403.2h0M111.1 399.8h0M111.0 396.5h0M110.9 402.0h0M109.3 406.6h0M109.3 398.9h0M109.7 401.0h0M109.6 399.4h0M108.1 406.5h0M108.0 399.9h0M107.2 401.9h0M107.8 401.5h0M107.5 398.5h0M106.1 403.6h0M106.6 398.4h0M106.3 398.5h0M106.5 398.1h0M106.6 406.5h0M105.8 402.7h0M105.1 405.5h0M105.5 399.5h0M105.4 397.0h0M105.5 404.6h0M104.5 402.8h0M104.0 397.6h0M103.6 403.8h0M103.6 398.3h0M103.9 404.3h0M102.1 397.3h0M102.2 401.2h0M102.5 399.1h0M102.1 399.6h0M102.7 397.1h0M101.9 399.5h0M102.0 401.6h0M100.7 402.7h0M100.5 397.8h0M100.5 406.5h0M100.1 402.9h0M100.1 401.5h0M99.4 401.7h0M99.7 401.6h0M98.6 397.1h0M98.5 397.5h0M97.2 399.6h0M96.3 399.0h0M96.2 401.4h0M95.8 399.2h0M90.4 402.2h0M89.1 398.0h0M89.7 396.6h0M88.2 402.3h0M88.1 405.8h0M84.6 396.7h0M82.2 405.7h0M81.7 406.2h0M81.2 404.2h0M167.3 397.7h0M167.8 396.8h0M167.2 405.7h0M167.4 406.2h0M167.3 401.8h0M167.5 400.7h0M168.0 400.6h0M168.5 398.6h0M168.9 404.6h0M168.4 404.6h0M168.5 403.2h0M168.2 404.5h0M168.6 406.8h0M168.3 400.6h0M168.8 399.2h0M168.8 405.3h0M168.2 404.0h0M168.3 399.3h0M169.4 402.1h0M169.4 401.7h0M169.8 397.7h0M169.7 399.4h0M169.1 401.3h0M169.1 401.2h0M169.2 401.1h0M169.1 406.8h0M169.2 401.1h0M169.6 403.4h0M169.1 405.2h0M169.4 397.4h0M169.4 402.9h0M169.4 404.0h0M170.1 398.2h0M170.4 406.8h0M170.4 406.4h0M170.7 403.2h0M170.9 402.5h0M170.7 401.4h0M170.8 405.5h0M170.0 406.1h0M170.0 403.1h0M171.4 404.3h0M171.4 401.8h0M171.2 400.0h0M171.1 399.2h0M171.3 403.6h0M171.1 398.1h0M172.0 403.1h0M171.1 405.4h0M172.5 402.2h0M172.8 397.2h0M172.1 397.5h0M172.4 406.1h0M172.8 397.0h0M172.6 398.4h0M173.6 402.3h0M173.7 399.4h0M173.0 402.4h0M173.3 398.7h0M173.4 406.2h0M175.0 396.7h0M174.8 401.4h0M174.9 406.3h0M174.7 397.4h0M174.6 397.7h0M174.4 397.8h0M174.3 397.0h0M175.6 404.9h0M175.9 399.0h0M175.2 406.7h0M175.9 399.8h0M175.9 397.4h0M175.2 405.4h0M176.5 402.4h0M176.6 405.4h0M176.0 403.8h0M176.9 401.9h0M177.0 396.7h0M177.6 396.9h0M177.6 397.9h0M177.8 396.7h0M177.7 398.8h0M178.0 401.4h0M177.5 405.2h0M178.3 400.3h0M178.6 397.2h0M178.9 404.5h0M179.4 398.6h0M179.9 401.4h0M179.8 399.1h0M179.6 404.2h0M179.3 399.3h0M180.3 399.8h0M180.1 402.6h0M180.2 398.7h0M181.8 403.0h0M181.6 405.8h0M181.7 403.2h0M181.9 401.2h0M181.1 396.6h0M181.7 401.3h0M182.0 397.5h0M182.1 399.6h0M182.4 398.5h0M182.7 404.3h0M183.8 399.0h0M183.4 396.6h0M183.6 397.7h0M183.4 398.4h0M183.1 405.6h0M183.3 406.4h0M184.5 399.3h0M184.2 398.7h0M184.8 406.1h0M184.4 398.3h0M184.2 399.7h0M185.2 400.3h0M185.4 397.2h0M185.3 402.4h0M185.6 399.2h0M187.0 406.4h0M188.0 399.3h0M188.4 401.0h0M188.6 398.4h0M188.2 396.7h0M188.4 397.7h0M189.8 398.8h0M190.5 404.8h0M190.2 403.0h0M191.5 403.4h0M191.4 404.1h0M192.2 399.6h0M192.6 397.1h0M192.3 398.0h0M193.8 397.2h0M194.4 406.2h0M194.9 402.3h0M195.7 397.1h0M196.2 402.8h0M197.1 404.6h0M198.6 396.5h0M200.1 406.8h0M203.0 398.8h0M204.8 397.6h0M218.4 406.1h0M125.2 383.0h0M125.4 381.2h0M125.7 383.2h0M125.3 382.3h0M125.2 378.7h0M125.2 383.3h0M125.9 378.9h0M125.1 380.0h0M125.5 383.7h0M125.8 381.3h0M125.9 383.4h0M125.1 381.0h0M125.2 379.4h0M125.2 383.0h0M124.3 381.1h0M124.4 380.2h0M124.8 383.4h0M124.4 380.4h0M124.7 380.5h0M124.0 383.5h0M123.7 382.7h0M123.1 380.7h0M123.7 382.3h0M123.1 381.5h0M122.3 383.2h0M122.8 381.5h0M122.9 380.4h0M122.4 383.2h0M122.8 383.0h0M121.2 382.3h0M121.8 384.0h0M121.1 380.7h0M121.8 382.9h0M120.4 378.9h0M120.6 380.5h0M120.4 383.0h0M120.5 383.8h0M120.8 382.6h0M120.6 379.8h0M119.2 381.9h0M120.0 383.2h0M119.1 382.1h0M119.5 383.6h0M119.0 381.8h0M119.9 381.4h0M118.9 381.3h0M118.3 381.5h0M118.2 384.1h0M117.0 380.7h0M117.5 381.5h0M117.9 380.0h0M117.3 383.7h0M117.9 380.4h0M117.5 380.9h0M116.9 380.1h0M116.9 383.4h0M115.8 381.4h0M115.6 384.0h0M115.8 378.8h0M115.8 383.8h0M115.4 382.6h0M115.5 382.5h0M114.8 383.6h0M114.9 381.1h0M114.8 381.6h0M114.7 383.6h0M114.9 383.1h0M114.0 380.8h0M114.2 382.0h0M113.7 379.0h0M113.8 383.5h0M112.6 384.0h0M113.0 379.7h0M112.8 381.4h0M112.6 379.3h0M112.0 380.3h0M111.6 382.9h0M111.6 383.4h0M111.9 380.3h0M111.8 382.9h0M110.3 381.5h0M110.7 383.8h0M109.5 379.1h0M110.0 381.3h0M108.3 383.0h0M108.5 383.7h0M108.6 380.7h0M106.6 381.9h0M106.9 381.5h0M106.2 379.3h0M104.6 383.7h0M104.0 384.0h0M103.7 383.6h0M102.2 384.0h0M102.8 380.2h0M100.8 383.4h0M99.0 380.5h0M99.3 382.1h0M98.7 379.8h0M99.0 381.1h0M97.7 383.0h0M97.2 380.3h0M94.3 382.3h0M94.0 382.2h0M91.3 383.3h0M91.2 383.6h0M90.3 380.5h0M89.4 379.1h0M85.5 381.8h0M85.3 379.1h0M84.9 382.6h0M74.7 378.7h0M60.3 383.5h0M167.7 379.9h0M167.9 383.5h0M167.5 383.8h0M167.7 383.5h0M167.5 379.0h0M168.1 380.4h0M168.3 381.5h0M168.4 380.8h0M168.3 379.4h0M168.3 382.3h0M168.3 383.5h0M168.9 381.1h0M168.3 382.2h0M168.9 383.1h0M168.2 379.8h0M169.3 382.6h0M169.0 380.8h0M169.0 383.1h0M169.3 383.1h0M170.1 379.5h0M170.3 381.3h0M170.7 383.4h0M170.7 381.7h0M170.5 382.0h0M171.5 381.0h0M172.1 380.7h0M172.7 382.7h0M172.8 379.5h0M172.7 381.1h0M172.9 379.7h0M173.9 379.5h0M173.4 380.6h0M173.5 382.6h0M173.0 379.9h0M173.1 381.3h0M174.2 382.1h0M174.6 380.7h0M174.7 381.1h0M174.3 380.3h0M174.4 379.2h0M175.8 378.7h0M175.2 380.1h0M175.7 384.0h0M175.2 381.3h0M175.3 382.6h0M175.0 383.6h0M176.8 383.4h0M176.5 381.0h0M176.8 381.3h0M177.9 383.0h0M177.1 381.6h0M177.4 378.9h0M178.7 379.8h0M179.7 382.2h0M179.6 379.0h0M180.3 381.3h0M180.0 382.5h0M182.0 381.6h0M181.6 381.8h0M181.2 380.8h0M181.5 382.9h0M181.6 380.5h0M182.0 379.0h0M183.0 381.2h0M183.8 379.0h0M183.6 383.8h0M184.2 383.0h0M185.1 382.6h0M185.7 382.3h0M187.9 379.1h0M188.6 381.1h0M190.0 380.4h0M197.0 379.0h0M198.3 380.2h0M199.8 383.6h0M201.6 383.5h0M203.3 381.6h0M215.5 380.4h0M223.7 380.7h0M231.4 379.3h0M125.6 367.1h0M125.9 362.9h0M125.7 362.3h0M125.8 362.6h0M124.0 359.9h0M124.4 365.3h0M124.9 363.7h0M124.2 364.7h0M124.6 365.9h0M124.1 361.3h0M124.8 365.9h0M124.2 362.9h0M124.0 367.1h0M124.4 362.5h0M124.9 359.6h0M123.1 366.6h0M123.2 364.8h0M123.3 361.6h0M123.4 359.5h0M123.7 360.9h0M123.9 365.2h0M123.6 362.0h0M122.7 360.1h0M122.2 364.2h0M122.8 365.0h0M122.1 366.3h0M122.6 359.7h0M122.6 361.6h0M122.3 362.1h0M122.2 361.7h0M122.1 366.7h0M121.7 361.8h0M121.8 364.5h0M121.0 363.4h0M121.1 361.6h0M121.9 361.7h0M121.2 362.0h0M120.5 364.8h0M120.2 364.8h0M120.8 365.1h0M120.8 360.2h0M120.7 362.5h0M120.5 360.4h0M120.4 362.5h0M119.8 362.0h0M119.8 361.5h0M119.9 364.1h0M119.1 362.1h0M119.2 366.3h0M119.4 366.2h0M119.7 364.3h0M119.4 359.5h0M119.0 361.5h0M119.5 365.7h0M118.7 367.1h0M118.2 360.6h0M118.4 360.2h0M118.5 366.9h0M119.0 363.4h0M118.0 360.3h0M117.5 364.7h0M117.2 361.6h0M117.8 360.2h0M117.2 359.7h0M118.0 362.9h0M117.2 367.2h0M117.7 362.2h0M117.9 360.5h0M117.8 365.7h0M117.3 365.0h0M116.2 360.5h0M116.0 366.1h0M116.7 367.0h0M116.4 363.7h0M116.7 366.5h0M116.4 361.8h0M116.7 361.8h0M115.2 360.1h0M115.1 363.3h0M116.0 367.1h0M115.6 365.9h0M115.0 359.8h0M115.7 363.3h0M114.1 362.9h0M114.0 360.5h0M114.9 364.9h0M114.1 359.9h0M114.7 365.2h0M114.3 363.8h0M114.3 366.3h0M113.8 367.1h0M113.9 362.5h0M113.6 364.9h0M114.0 364.8h0M114.0 361.1h0M113.6 365.5h0M112.8 361.9h0M112.9 365.8h0M111.1 362.0h0M111.4 366.1h0M111.6 362.2h0M111.2 365.8h0M110.7 365.5h0M110.2 366.0h0M110.9 362.6h0M110.1 362.6h0M110.8 359.8h0M110.3 359.7h0M110.7 363.1h0M109.7 364.7h0M109.4 363.9h0M109.7 362.3h0M108.4 366.8h0M108.3 359.5h0M108.2 361.0h0M109.0 361.7h0M107.0 362.7h0M105.8 360.4h0M105.6 362.5h0M103.2 361.4h0M103.0 365.2h0M103.4 363.9h0M103.3 359.7h0M102.6 365.1h0M102.2 361.2h0M101.6 366.9h0M101.3 363.6h0M100.2 362.1h0M98.5 364.9h0M97.8 365.0h0M97.6 367.0h0M96.1 363.0h0M95.8 359.8h0M93.1 364.9h0M93.0 364.1h0M92.6 367.2h0M93.0 366.9h0M90.2 366.1h0M90.9 365.9h0M89.9 363.9h0M89.7 361.3h0M89.1 361.5h0M87.1 360.9h0M86.1 364.3h0M80.7 362.5h0M78.6 363.7h0M76.3 364.7h0M71.9 366.1h0M56.2 367.2h0M167.1 366.9h0M167.7 362.0h0M167.2 365.1h0M167.8 361.8h0M167.0 362.3h0M167.5 361.9h0M167.8 363.2h0M167.2 363.7h0M167.1 365.0h0M168.0 361.3h0M168.7 363.4h0M168.2 366.6h0M168.5 365.7h0M168.8 361.5h0M168.2 361.8h0M169.8 366.8h0M169.6 364.1h0M169.4 362.0h0M169.4 359.5h0M171.0 359.5h0M171.0 367.1h0M170.9 367.3h0M171.0 363.4h0M170.8 360.9h0M170.8 360.8h0M170.9 365.5h0M171.1 359.6h0M171.5 365.9h0M172.0 360.6h0M172.0 361.7h0M172.0 362.7h0M171.8 363.9h0M171.6 360.0h0M171.1 366.6h0M171.1 364.3h0M172.0 364.5h0M171.6 365.0h0M172.4 363.1h0M172.3 364.5h0M172.9 363.7h0M172.8 361.3h0M172.9 366.2h0M173.4 361.4h0M174.8 363.3h0M175.1 367.2h0M175.0 362.8h0M175.3 365.2h0M175.4 359.9h0M175.4 359.7h0M175.6 366.8h0M175.7 367.0h0M175.6 363.8h0M176.5 363.7h0M176.9 365.0h0M177.5 361.8h0M177.4 364.3h0M177.8 365.1h0M179.0 360.1h0M178.6 361.3h0M178.6 361.4h0M178.5 361.0h0M178.9 366.7h0M179.9 366.1h0M179.1 360.6h0M179.6 361.5h0M180.0 366.2h0M181.3 359.7h0M182.7 359.5h0M183.0 365.6h0M182.7 360.5h0M182.8 365.6h0M182.9 362.9h0M182.4 366.3h0M183.6 365.8h0M184.0 361.4h0M183.3 363.1h0M184.7 365.3h0M185.4 360.5h0M186.3 359.9h0M187.1 364.7h0M187.1 364.1h0M187.0 360.3h0M188.1 365.2h0M188.6 365.1h0M190.0 362.9h0M191.7 363.0h0M192.4 361.3h0M193.5 361.3h0M194.8 366.4h0M197.5 363.3h0M198.7 360.1h0M199.4 363.3h0M201.0 362.8h0M203.8 366.5h0M204.0 365.0h0M205.1 363.4h0M205.2 361.8h0M207.9 366.6h0M207.4 362.4h0M207.3 361.0h0M208.4 366.2h0M219.7 360.7h0M220.7 362.5h0M226.9 363.0h0M125.1 344.7h0M125.3 344.8h0M125.5 339.2h0M125.8 344.1h0M125.9 343.2h0M125.6 345.8h0M124.9 341.0h0M124.3 345.8h0M124.9 341.2h0M124.5 345.9h0M124.1 344.8h0M124.8 344.4h0M123.6 338.4h0M123.7 342.5h0M123.7 342.6h0M123.1 342.1h0M123.6 343.8h0M122.2 343.5h0M122.9 340.8h0M122.4 345.0h0M122.4 343.7h0M122.7 345.2h0M122.4 343.2h0M122.7 343.0h0M122.7 341.6h0M122.1 341.9h0M121.6 343.1h0M121.0 343.1h0M121.8 341.0h0M121.9 343.5h0M121.1 338.9h0M121.7 339.3h0M120.7 339.7h0M120.5 340.4h0M121.0 345.9h0M120.8 346.1h0M120.5 340.5h0M120.6 339.1h0M120.4 340.9h0M121.0 340.2h0M120.6 345.7h0M120.8 345.0h0M120.6 341.2h0M120.6 342.5h0M120.7 343.3h0M120.2 345.5h0M120.0 340.4h0M119.6 342.8h0M119.6 346.3h0M119.4 345.4h0M119.8 340.4h0M119.5 338.4h0M118.4 341.8h0M118.2 344.3h0M118.3 346.3h0M119.0 341.1h0M118.4 345.7h0M118.7 344.6h0M118.2 342.3h0M118.3 344.4h0M118.3 345.1h0M118.9 345.1h0M117.5 344.4h0M117.5 342.9h0M117.4 346.2h0M117.9 341.9h0M117.2 338.7h0M116.9 343.6h0M116.7 341.1h0M116.1 340.3h0M116.6 346.2h0M116.3 343.2h0M116.8 344.8h0M116.6 346.1h0M116.6 341.5h0M116.6 345.7h0M116.3 343.3h0M115.3 341.1h0M115.6 341.8h0M114.0 345.7h0M114.4 343.2h0M113.2 342.5h0M113.7 339.8h0M113.7 341.5h0M113.7 342.8h0M113.4 341.1h0M113.5 343.9h0M112.2 344.4h0M112.7 339.0h0M112.6 345.0h0M111.4 340.7h0M111.3 342.7h0M111.6 346.3h0M111.5 343.6h0M110.7 343.0h0M110.1 341.9h0M110.2 343.0h0M110.2 345.8h0M110.7 341.5h0M111.0 344.7h0M110.5 345.4h0M110.9 342.0h0M109.6 341.4h0M109.6 339.0h0M109.1 342.8h0M109.1 343.7h0M109.9 341.2h0M109.0 344.5h0M109.0 338.5h0M108.1 339.1h0M107.2 341.2h0M107.2 344.7h0M106.4 343.3h0M106.9 342.2h0M106.8 341.5h0M105.3 344.8h0M105.0 342.1h0M105.6 341.3h0M104.5 345.8h0M104.7 343.3h0M103.5 340.9h0M103.7 342.0h0M103.3 342.9h0M101.6 345.9h0M101.3 345.7h0M100.9 340.1h0M99.3 338.7h0M97.9 344.9h0M97.2 340.5h0M97.3 343.4h0M95.4 340.9h0M94.7 341.8h0M94.7 343.7h0M93.3 340.7h0M93.3 339.8h0M93.1 344.5h0M92.4 342.0h0M91.5 341.7h0M90.1 346.0h0M89.7 339.6h0M88.3 340.4h0M88.2 338.9h0M87.1 342.5h0M86.0 339.6h0M80.5 344.0h0M79.6 339.2h0M79.8 340.0h0M74.1 345.0h0M71.0 345.3h0M58.5 344.4h0M53.9 342.8h0M167.3 342.6h0M167.3 340.6h0M167.8 339.4h0M167.2 342.1h0M167.1 345.0h0M167.6 345.6h0M167.3 342.5h0M167.5 345.1h0M167.4 343.5h0M168.0 341.9h0M168.9 341.2h0M168.3 342.5h0M168.3 343.1h0M168.2 344.6h0M168.9 345.0h0M168.9 340.4h0M168.3 341.8h0M169.2 344.1h0M169.5 340.9h0M169.6 343.0h0M169.9 339.4h0M169.5 340.4h0M170.3 345.9h0M170.9 344.2h0M170.3 345.5h0M170.6 339.6h0M170.9 341.7h0M170.9 338.5h0M171.5 345.8h0M171.7 339.1h0M171.4 346.3h0M171.7 342.0h0M171.3 345.8h0M172.1 345.7h0M172.7 340.1h0M172.5 341.8h0M172.3 339.4h0M172.7 340.5h0M172.1 341.5h0M172.3 345.4h0M172.2 338.7h0M173.0 342.3h0M174.0 342.0h0M173.6 344.9h0M173.6 338.6h0M173.7 341.2h0M173.5 344.6h0M173.1 339.5h0M174.7 340.0h0M174.0 342.4h0M174.9 339.1h0M174.5 345.2h0M174.5 345.9h0M174.9 339.2h0M174.2 344.2h0M174.2 342.4h0M174.6 339.1h0M174.4 345.4h0M175.0 342.3h0M175.7 344.3h0M175.4 343.4h0M176.8 342.5h0M176.9 341.1h0M176.4 344.1h0M176.8 343.2h0M177.0 343.9h0M177.5 342.4h0M177.9 340.4h0M177.6 343.8h0M177.8 344.0h0M177.5 340.0h0M178.6 344.9h0M178.2 343.6h0M179.7 345.5h0M179.9 345.9h0M179.2 341.5h0M180.0 343.1h0M180.0 341.5h0M180.3 342.3h0M180.1 341.7h0M180.4 341.2h0M180.8 339.0h0M180.4 341.2h0M180.3 343.9h0M180.6 345.5h0M181.6 343.5h0M181.2 346.4h0M181.6 338.5h0M181.3 343.5h0M181.3 343.2h0M181.6 346.1h0M184.4 345.2h0M185.0 344.9h0M185.1 341.8h0M185.0 342.2h0M185.4 338.5h0M186.9 345.6h0M186.4 343.0h0M187.2 346.1h0M187.5 340.2h0M187.9 345.5h0M188.4 345.1h0M189.2 342.8h0M189.8 342.5h0M189.9 341.3h0M190.6 342.1h0M190.4 346.1h0M191.9 346.3h0M192.7 339.4h0M196.6 341.8h0M197.2 345.3h0M198.7 338.9h0M199.6 344.5h0M200.2 344.5h0M201.0 343.4h0M202.5 345.6h0M204.2 341.7h0M204.9 343.6h0M205.3 339.4h0M205.1 344.0h0M205.4 339.9h0M211.0 344.6h0M222.3 343.4h0M258.3 345.1h0M125.4 320.1h0M126.0 320.6h0M125.8 321.0h0M125.6 325.4h0M125.4 322.5h0M125.6 323.0h0M125.7 326.6h0M125.6 325.4h0M125.4 322.8h0M125.4 325.7h0M124.7 321.0h0M124.4 320.3h0M125.0 324.7h0M124.6 322.0h0M124.4 326.5h0M124.3 320.2h0M124.2 323.7h0M124.1 320.1h0M124.6 319.9h0M124.7 323.0h0M123.4 324.2h0M123.4 325.0h0M123.1 327.1h0M123.1 326.1h0M123.8 325.2h0M123.3 323.6h0M123.5 322.3h0M123.6 322.6h0M123.8 325.9h0M123.4 327.3h0M123.5 327.2h0M123.0 320.0h0M122.8 319.4h0M122.8 326.4h0M122.1 321.8h0M122.5 322.5h0M122.4 321.2h0M123.0 323.8h0M122.0 326.1h0M122.4 320.2h0M122.6 323.3h0M121.8 324.3h0M121.2 321.5h0M121.3 326.7h0M121.2 323.4h0M121.2 326.5h0M121.5 321.2h0M121.7 322.3h0M121.0 319.3h0M121.4 320.7h0M121.8 322.3h0M121.6 325.5h0M120.9 323.6h0M120.7 321.6h0M120.7 325.6h0M120.6 324.9h0M119.9 322.5h0M119.1 327.0h0M119.3 327.0h0M119.8 323.8h0M119.7 323.8h0M119.1 320.5h0M119.5 319.9h0M119.9 322.1h0M118.2 321.7h0M118.6 325.9h0M119.0 323.0h0M117.8 320.6h0M117.6 326.9h0M117.7 322.8h0M117.5 326.3h0M117.8 322.0h0M116.3 319.7h0M116.9 320.7h0M116.0 320.5h0M116.6 322.6h0M116.5 324.9h0M116.3 326.2h0M116.8 327.3h0M115.1 322.3h0M115.3 323.8h0M115.4 321.4h0M115.3 320.9h0M114.9 323.4h0M114.9 323.7h0M114.9 320.1h0M114.4 326.8h0M113.1 326.2h0M113.2 324.2h0M113.6 320.1h0M113.9 319.7h0M112.1 321.5h0M112.6 322.4h0M112.5 324.7h0M112.7 324.1h0M112.5 321.1h0M112.2 320.3h0M111.4 323.7h0M111.6 325.3h0M111.2 319.5h0M111.9 323.4h0M111.2 325.3h0M110.3 319.4h0M110.5 322.9h0M110.5 326.2h0M110.3 324.2h0M109.1 322.8h0M109.4 326.5h0M109.6 322.6h0M109.9 323.1h0M109.6 323.8h0M108.1 322.7h0M108.9 324.0h0M108.5 324.2h0M108.3 321.8h0M108.1 319.9h0M106.7 322.1h0M106.5 320.3h0M106.4 324.4h0M105.0 322.7h0M105.4 325.6h0M105.2 325.1h0M104.4 325.2h0M104.4 319.8h0M104.7 322.6h0M104.2 324.1h0M104.3 327.1h0M103.7 326.9h0M103.6 324.0h0M103.6 323.1h0M103.2 324.2h0M103.1 326.3h0M101.4 320.6h0M101.1 322.3h0M101.5 319.4h0M101.8 327.1h0M100.3 322.9h0M100.3 319.3h0M99.4 320.5h0M99.7 319.9h0M98.1 327.3h0M97.3 325.5h0M97.2 324.3h0M95.6 321.8h0M95.3 319.9h0M94.6 322.4h0M94.6 323.1h0M92.0 323.2h0M90.9 323.0h0M90.0 320.8h0M87.2 324.7h0M86.8 325.2h0M86.1 326.3h0M86.2 321.2h0M84.4 324.8h0M75.4 325.8h0M75.0 324.3h0M25.4 322.7h0M167.4 324.1h0M167.4 319.2h0M167.6 323.3h0M167.4 324.2h0M167.6 325.0h0M167.7 327.2h0M167.8 326.4h0M167.0 325.2h0M167.3 326.4h0M167.2 322.3h0M167.5 319.6h0M167.7 326.8h0M168.6 325.8h0M168.3 324.6h0M168.2 324.9h0M168.3 320.1h0M168.1 321.4h0M169.8 325.8h0M169.4 322.3h0M169.7 322.4h0M169.9 327.1h0M169.6 326.1h0M169.1 322.8h0M169.4 322.4h0M170.6 319.5h0M170.9 324.2h0M170.2 322.5h0M170.9 320.3h0M171.1 323.8h0M171.7 323.8h0M171.0 324.5h0M171.8 326.2h0M171.0 325.4h0M171.0 325.1h0M171.5 319.8h0M171.3 321.3h0M172.0 321.6h0M172.7 323.1h0M172.2 320.1h0M172.7 323.4h0M173.2 326.6h0M173.0 320.5h0M173.4 325.5h0M173.4 320.2h0M173.6 323.1h0M173.5 319.7h0M174.3 323.9h0M174.6 326.3h0M174.3 324.3h0M174.7 319.5h0M174.3 324.8h0M174.0 326.1h0M175.5 326.6h0M175.8 326.9h0M175.5 322.6h0M175.2 326.5h0M175.0 325.2h0M175.6 325.2h0M175.0 320.1h0M176.2 321.3h0M176.3 325.0h0M176.1 324.3h0M176.6 324.6h0M176.6 319.4h0M178.0 325.0h0M177.6 323.9h0M177.1 319.8h0M177.6 321.9h0M177.3 321.4h0M177.3 322.6h0M178.1 326.8h0M179.0 324.2h0M179.2 322.8h0M179.5 323.7h0M179.5 321.0h0M179.6 326.9h0M179.9 323.9h0M179.8 326.9h0M181.0 326.8h0M181.9 321.5h0M182.9 323.8h0M182.5 319.5h0M182.2 325.2h0M182.9 324.8h0M183.8 321.9h0M183.8 321.1h0M183.1 320.4h0M183.6 324.4h0M184.0 322.1h0M184.0 325.0h0M185.5 325.0h0M185.4 322.2h0M186.4 325.4h0M186.4 323.3h0M188.5 322.0h0M188.6 325.8h0M189.1 322.8h0M191.0 320.3h0M192.4 324.3h0M192.9 324.3h0M193.2 326.3h0M194.7 320.0h0M195.2 326.9h0M195.0 323.4h0M195.3 320.1h0M197.9 322.0h0M198.0 324.4h0M202.6 322.1h0M206.9 319.8h0M207.5 319.7h0M207.8 325.9h0M209.6 319.2h0M212.0 327.0h0M212.2 324.6h0M218.5 326.4h0M218.5 319.7h0M226.4 323.5h0M125.2 306.9h0M125.9 306.5h0M125.4 308.9h0M126.0 309.2h0M125.8 309.7h0M125.7 308.6h0M125.1 308.5h0M124.4 307.2h0M124.3 308.3h0M124.2 306.9h0M124.5 306.7h0M123.9 309.3h0M123.6 307.9h0M122.1 306.9h0M121.7 308.2h0M121.3 307.0h0M121.5 309.3h0M121.8 306.2h0M121.8 308.1h0M121.5 310.0h0M120.9 307.1h0M119.4 309.0h0M119.4 309.3h0M119.7 306.8h0M119.9 306.2h0M118.1 307.1h0M118.1 309.1h0M118.4 308.6h0M118.9 309.0h0M117.1 308.2h0M115.6 308.0h0M115.6 307.5h0M113.5 308.8h0M113.2 309.5h0M113.5 306.4h0M113.6 306.7h0M113.9 306.7h0M112.2 307.9h0M113.0 309.3h0M111.9 309.7h0M111.0 309.7h0M112.0 307.2h0M110.5 308.2h0M110.5 308.8h0M110.8 306.2h0M110.1 308.1h0M110.2 309.5h0M110.8 309.6h0M109.6 309.7h0M109.8 308.2h0M108.9 309.2h0M107.5 308.2h0M106.1 309.0h0M104.5 306.2h0M104.2 308.9h0M104.9 308.7h0M104.3 306.9h0M103.5 309.1h0M103.2 309.5h0M102.1 309.2h0M99.9 306.2h0M98.7 309.9h0M96.2 306.2h0M93.1 309.2h0M93.8 307.8h0M93.5 306.7h0M92.9 308.5h0M91.3 306.5h0M91.3 308.7h0M84.7 306.8h0M83.2 306.2h0M82.5 307.1h0M80.5 310.1h0M56.5 307.8h0M167.0 308.4h0M167.5 308.1h0M167.3 308.4h0M167.6 308.7h0M167.1 308.1h0M168.2 309.2h0M168.5 308.3h0M168.8 307.4h0M168.6 309.9h0M169.7 306.6h0M169.7 308.7h0M169.6 307.8h0M169.1 309.4h0M170.9 307.7h0M170.0 309.1h0M170.6 306.3h0M170.3 308.1h0M171.0 307.3h0M170.0 310.1h0M170.2 309.4h0M171.6 310.1h0M171.3 307.3h0M172.3 307.4h0M172.5 307.9h0M172.1 306.9h0M172.8 310.0h0M173.4 308.4h0M173.0 310.1h0M174.9 306.8h0M174.0 310.0h0M174.8 306.3h0M174.8 307.4h0M175.6 308.3h0M175.1 308.1h0M175.5 306.5h0M176.6 307.6h0M176.2 306.7h0M176.4 306.7h0M177.4 306.4h0M177.1 308.9h0M178.0 309.5h0M177.4 309.6h0M178.7 309.3h0M178.5 309.4h0M178.7 307.1h0M179.1 308.0h0M179.7 309.2h0M179.9 309.5h0M180.5 309.7h0M181.9 310.0h0M182.9 307.2h0M182.8 309.0h0M182.4 306.2h0M182.1 309.7h0M182.7 309.6h0M183.4 307.7h0M185.2 306.7h0M186.3 308.2h0M186.4 309.4h0M187.6 309.0h0M189.0 307.7h0M193.9 309.4h0M195.4 310.1h0M197.7 309.9h0M198.7 307.7h0M200.2 306.7h0M202.1 306.5h0M202.6 309.2h0M209.4 309.9h0M210.0 308.4h0M221.6 307.3h0M225.9 307.2h0M235.3 308.4h0M250.6 309.7h0M125.5 294.4h0M125.9 297.0h0M125.1 294.6h0M126.0 293.6h0M125.4 295.9h0M125.2 296.4h0M125.4 296.1h0M125.1 295.5h0M124.0 296.6h0M124.5 296.7h0M124.0 293.2h0M124.3 294.9h0M123.2 293.4h0M123.5 295.2h0M123.8 293.2h0M122.8 294.9h0M122.7 294.1h0M122.8 296.7h0M123.0 294.2h0M122.9 296.7h0M121.8 294.2h0M121.1 294.0h0M121.1 296.6h0M121.1 295.6h0M120.2 294.7h0M120.2 297.1h0M120.4 294.3h0M119.3 297.5h0M119.9 296.3h0M119.7 294.5h0M120.0 294.8h0M118.7 295.1h0M118.4 296.1h0M118.9 294.8h0M117.2 296.3h0M117.5 296.1h0M117.9 295.4h0M117.7 295.4h0M117.8 293.6h0M117.0 296.4h0M116.3 296.4h0M116.4 293.3h0M115.9 295.6h0M115.8 295.9h0M115.4 296.6h0M115.5 293.4h0M114.3 293.5h0M114.5 296.8h0M114.8 295.9h0M114.4 293.5h0M113.2 294.8h0M113.1 296.8h0M113.3 294.7h0M113.3 293.5h0M113.1 294.0h0M112.5 294.8h0M112.5 293.7h0M111.3 294.2h0M111.5 294.3h0M110.5 297.1h0M110.9 297.3h0M111.0 293.7h0M109.4 296.8h0M108.8 293.2h0M107.7 295.3h0M107.9 295.5h0M106.2 295.1h0M106.9 294.8h0M105.4 294.4h0M104.7 295.1h0M104.8 294.8h0M104.7 296.6h0M103.7 294.1h0M103.4 297.2h0M101.8 297.4h0M101.8 294.2h0M100.3 293.2h0M99.4 295.3h0M95.8 294.0h0M95.4 294.1h0M94.0 293.7h0M93.4 295.5h0M92.5 293.3h0M92.4 297.3h0M88.9 294.0h0M85.7 294.6h0M83.5 293.3h0M167.1 296.9h0M167.8 294.1h0M168.0 296.0h0M167.8 296.5h0M167.3 294.9h0M167.3 293.9h0M168.0 295.3h0M169.0 297.0h0M168.7 296.5h0M168.0 296.5h0M169.7 293.5h0M169.5 293.3h0M170.0 297.3h0M170.8 296.6h0M170.5 296.7h0M170.7 296.7h0M171.6 297.1h0M171.5 294.2h0M172.9 293.2h0M173.1 294.1h0M173.1 296.2h0M173.6 293.2h0M173.4 293.4h0M173.6 294.6h0M173.6 293.9h0M174.6 295.8h0M174.8 295.6h0M174.5 294.1h0M174.2 293.6h0M174.3 296.3h0M175.6 293.6h0M177.0 295.1h0M176.2 297.0h0M176.4 294.2h0M177.5 293.3h0M177.1 294.5h0M177.8 296.2h0M179.5 295.7h0M179.6 294.1h0M180.2 293.8h0M180.7 295.0h0M180.5 296.1h0M182.7 296.9h0M184.7 295.0h0M186.8 294.4h0M187.6 295.4h0M191.7 296.9h0M193.7 295.8h0M195.4 296.3h0M196.4 293.3h0M199.8 293.6h0M204.8 296.8h0M204.9 294.3h0M205.6 297.1h0M220.3 293.9h0M125.3 277.7h0M125.1 282.6h0M125.9 274.9h0M125.4 282.7h0M125.2 277.9h0M125.2 275.6h0M125.2 275.7h0M125.7 277.7h0M124.0 279.4h0M124.8 278.5h0M124.3 281.7h0M124.5 276.2h0M124.5 282.0h0M124.1 275.6h0M123.0 275.3h0M123.4 276.7h0M123.4 277.6h0M124.0 274.9h0M123.9 279.3h0M122.2 278.7h0M122.5 278.2h0M122.3 278.5h0M122.3 282.0h0M121.6 279.1h0M121.7 275.4h0M121.3 275.0h0M121.5 275.6h0M121.0 280.2h0M120.6 276.5h0M120.8 282.6h0M120.7 278.4h0M120.1 282.2h0M120.7 276.6h0M120.9 275.9h0M120.9 282.6h0M119.9 279.0h0M119.3 282.7h0M119.3 280.0h0M119.5 280.2h0M119.0 282.6h0M118.1 279.0h0M119.0 280.6h0M118.7 282.5h0M118.6 282.3h0M118.4 279.4h0M118.2 282.9h0M117.0 275.5h0M117.1 281.6h0M117.3 282.3h0M117.4 275.3h0M117.6 279.7h0M117.4 281.8h0M116.7 276.5h0M116.5 274.9h0M116.5 276.9h0M116.7 278.0h0M116.3 279.7h0M115.5 277.9h0M116.0 278.3h0M115.6 283.0h0M115.8 278.0h0M115.8 279.8h0M115.4 280.8h0M114.7 279.6h0M114.4 283.1h0M114.8 275.1h0M114.4 279.9h0M115.0 279.1h0M114.5 279.7h0M114.7 279.3h0M114.1 279.9h0M113.2 280.6h0M113.2 280.4h0M113.7 280.5h0M113.7 278.5h0M112.0 280.3h0M112.8 279.1h0M112.7 277.4h0M112.3 277.7h0M112.0 282.6h0M111.4 277.3h0M111.9 281.6h0M111.3 282.2h0M110.3 281.3h0M110.0 276.5h0M110.0 277.3h0M109.2 279.4h0M109.2 278.5h0M109.6 276.5h0M108.1 274.7h0M107.5 278.6h0M107.0 282.1h0M107.0 276.6h0M106.2 278.6h0M106.5 277.4h0M105.4 283.3h0M106.0 275.4h0M104.5 276.1h0M104.3 277.8h0M103.5 278.4h0M103.3 277.6h0M104.0 278.1h0M101.6 278.3h0M101.8 280.5h0M101.1 277.8h0M100.1 276.0h0M100.7 278.6h0M101.0 277.2h0M101.0 276.3h0M99.3 276.5h0M99.9 275.5h0M98.1 283.0h0M97.9 278.9h0M96.9 274.8h0M94.8 276.0h0M94.7 276.0h0M95.0 277.3h0M94.2 279.5h0M93.3 279.4h0M91.7 279.7h0M88.9 277.7h0M87.3 280.2h0M87.6 279.6h0M87.4 276.1h0M84.2 275.5h0M83.8 282.2h0M83.8 275.0h0M82.8 279.8h0M73.0 283.6h0M168.0 281.5h0M167.3 282.8h0M167.7 277.3h0M167.5 276.4h0M167.8 276.6h0M167.3 279.4h0M167.2 275.0h0M167.7 281.5h0M167.4 276.2h0M167.9 276.5h0M168.6 280.1h0M168.8 280.6h0M168.1 279.2h0M168.8 276.8h0M168.6 280.2h0M168.8 275.3h0M168.5 280.9h0M168.7 281.0h0M169.5 277.2h0M169.3 275.8h0M169.5 282.0h0M169.3 275.0h0M169.8 282.7h0M169.7 276.3h0M169.7 278.3h0M170.3 282.8h0M170.4 281.0h0M170.2 277.4h0M171.5 277.3h0M171.5 277.6h0M171.9 281.7h0M171.8 283.0h0M171.4 278.8h0M171.3 281.9h0M171.7 281.2h0M172.7 282.1h0M172.5 280.2h0M172.4 279.2h0M172.0 281.5h0M172.6 276.1h0M172.9 282.2h0M172.3 281.7h0M172.1 277.8h0M172.7 276.6h0M173.7 275.7h0M173.9 278.6h0M173.9 276.8h0M173.1 281.0h0M173.2 283.3h0M173.7 275.5h0M173.8 279.8h0M173.8 275.5h0M173.8 283.6h0M174.8 282.5h0M174.4 275.7h0M174.6 277.1h0M174.7 276.7h0M174.0 283.2h0M174.1 278.8h0M174.8 281.6h0M174.5 283.5h0M175.5 277.2h0M175.4 280.3h0M175.9 282.4h0M175.8 276.5h0M176.0 281.7h0M175.3 275.7h0M176.5 279.9h0M176.1 276.2h0M176.5 276.1h0M176.6 280.1h0M176.9 279.7h0M176.7 281.7h0M176.5 282.0h0M176.9 281.1h0M176.3 278.3h0M176.2 276.7h0M176.9 282.7h0M176.3 276.7h0M178.6 282.7h0M178.7 280.4h0M178.6 282.5h0M178.9 279.0h0M178.6 278.7h0M178.3 282.1h0M178.5 283.1h0M178.6 275.3h0M179.6 282.4h0M179.8 275.3h0M179.9 278.7h0M180.9 276.7h0M180.1 276.3h0M180.0 282.1h0M180.1 276.8h0M180.4 275.2h0M180.6 276.5h0M180.9 280.3h0M181.1 279.9h0M181.9 278.2h0M181.1 278.8h0M181.9 277.0h0M182.2 280.2h0M182.0 279.5h0M182.0 283.3h0M183.6 277.3h0M183.9 277.0h0M183.4 278.0h0M184.7 278.3h0M184.2 283.7h0M185.1 274.8h0M185.6 276.7h0M185.9 282.1h0M185.7 278.9h0M186.3 280.5h0M186.8 283.1h0M187.9 279.1h0M187.6 280.1h0M187.9 283.5h0M187.5 280.1h0M188.0 282.2h0M188.6 283.5h0M189.3 280.4h0M190.9 281.0h0M191.2 281.2h0M191.2 280.1h0M192.9 280.9h0M193.2 277.4h0M193.1 281.1h0M193.8 278.6h0M193.3 283.6h0M193.4 280.8h0M194.9 280.5h0M195.5 280.5h0M199.1 280.6h0M202.1 279.2h0M203.3 277.6h0M204.7 283.2h0M204.1 277.9h0M208.6 281.6h0M210.7 278.9h0M210.2 281.8h0M214.4 277.1h0M220.3 275.1h0M125.7 267.3h0M125.6 264.5h0M125.5 263.7h0M125.2 265.7h0M126.0 265.3h0M125.3 265.7h0M124.1 265.7h0M124.0 263.2h0M123.8 263.2h0M123.5 265.1h0M123.2 264.5h0M122.0 262.7h0M122.2 267.1h0M122.9 262.9h0M122.6 264.7h0M122.6 263.2h0M121.0 267.0h0M121.5 263.3h0M121.9 266.3h0M121.3 266.4h0M120.3 266.5h0M120.9 264.4h0M120.2 263.7h0M120.5 266.3h0M119.6 266.7h0M119.1 266.6h0M119.5 264.6h0M118.5 266.9h0M118.5 265.8h0M118.3 266.7h0M118.5 262.8h0M117.1 266.9h0M117.9 266.6h0M117.4 265.9h0M116.4 264.0h0M116.2 263.0h0M116.4 266.3h0M115.4 266.6h0M115.7 265.7h0M114.6 266.0h0M114.1 265.9h0M114.0 262.8h0M114.9 262.8h0M114.4 267.0h0M113.6 266.9h0M112.6 265.7h0M112.8 267.1h0M112.1 266.1h0M111.5 264.7h0M111.4 263.9h0M112.0 265.7h0M110.7 265.0h0M109.9 266.9h0M109.9 265.8h0M109.7 262.8h0M109.3 266.3h0M108.8 263.9h0M108.9 265.9h0M108.8 265.6h0M106.7 262.9h0M105.2 263.3h0M105.5 263.7h0M105.5 264.6h0M105.2 263.5h0M105.4 263.2h0M104.7 266.9h0M104.3 266.9h0M103.3 263.6h0M102.4 263.6h0M101.5 267.0h0M101.6 265.0h0M100.7 264.7h0M101.0 263.6h0M100.4 266.6h0M100.6 265.4h0M99.2 265.1h0M99.5 266.6h0M99.7 265.1h0M98.5 265.5h0M97.8 265.1h0M96.7 262.9h0M94.1 262.9h0M93.8 263.5h0M91.2 264.2h0M88.1 264.1h0M88.0 265.3h0M88.1 264.7h0M85.6 265.9h0M83.5 264.9h0M77.6 264.1h0M71.3 266.6h0M40.9 264.5h0M168.0 264.1h0M167.7 262.8h0M167.3 265.3h0M167.9 263.0h0M167.6 265.7h0M167.4 266.4h0M167.5 264.2h0M167.9 265.2h0M168.1 264.1h0M169.0 263.0h0M168.9 264.3h0M168.0 265.3h0M169.2 265.1h0M169.9 267.2h0M169.5 263.6h0M169.1 266.3h0M170.6 267.0h0M170.8 266.3h0M172.0 265.4h0M171.1 263.5h0M171.2 266.1h0M171.4 266.5h0M171.5 266.6h0M171.1 264.3h0M172.5 265.0h0M172.6 262.8h0M172.1 262.8h0M173.1 266.7h0M173.4 267.0h0M173.5 264.0h0M173.4 262.9h0M174.9 263.7h0M174.4 266.5h0M174.4 264.9h0M175.3 264.9h0M175.1 267.1h0M175.8 263.2h0M175.9 263.0h0M175.3 265.8h0M176.1 266.0h0M176.2 265.7h0M176.9 264.0h0M177.8 265.0h0M178.0 266.1h0M178.6 263.6h0M178.7 265.1h0M178.3 266.6h0M179.9 266.1h0M179.0 264.1h0M180.4 266.6h0M180.7 265.9h0M182.3 265.6h0M182.0 263.1h0M182.7 265.4h0M183.0 263.8h0M184.6 263.8h0M184.6 265.3h0M185.1 265.1h0M185.0 262.7h0M186.0 265.3h0M187.5 266.0h0M187.8 267.0h0M187.4 266.4h0M189.8 263.1h0M190.3 263.1h0M194.7 264.5h0M195.4 265.5h0M196.5 263.2h0M196.1 262.8h0M203.9 266.1h0M206.1 266.2h0M215.7 266.8h0M215.6 263.2h0M227.1 267.3h0M125.6 253.4h0M125.3 252.5h0M125.4 255.4h0M124.7 254.0h0M124.5 253.2h0M124.6 254.1h0M123.4 255.3h0M123.5 253.9h0M123.6 255.3h0M123.8 254.4h0M123.3 254.6h0M123.5 254.2h0M122.7 253.6h0M122.9 251.5h0M122.5 253.2h0M122.4 252.9h0M121.1 253.6h0M121.9 254.6h0M121.7 251.4h0M121.0 252.8h0M121.3 252.4h0M121.4 251.6h0M121.8 254.5h0M121.5 254.3h0M120.1 253.4h0M120.3 253.8h0M120.5 252.4h0M120.2 251.8h0M119.2 254.4h0M119.4 255.3h0M119.1 253.9h0M119.7 254.4h0M118.8 252.9h0M118.1 254.7h0M117.0 251.5h0M117.3 253.1h0M117.9 253.0h0M117.9 255.2h0M116.2 251.0h0M116.4 251.2h0M116.6 251.2h0M117.0 253.2h0M116.2 251.5h0M116.3 254.2h0M116.0 251.7h0M115.8 253.6h0M115.8 251.6h0M115.9 252.2h0M114.7 255.5h0M115.0 251.9h0M114.4 252.2h0M114.5 251.9h0M114.7 255.0h0M113.7 251.9h0M113.1 254.4h0M113.4 251.4h0M113.7 252.3h0M113.5 254.5h0M111.7 253.4h0M111.6 254.9h0M110.7 251.2h0M110.1 251.0h0M110.7 254.9h0M110.2 253.0h0M109.2 254.9h0M109.8 252.8h0M108.0 253.2h0M106.6 252.5h0M105.1 252.9h0M105.5 254.9h0M105.7 253.2h0M105.5 253.8h0M104.3 252.7h0M104.9 252.6h0M104.1 254.3h0M103.4 254.7h0M103.9 253.6h0M103.1 252.7h0M102.0 252.0h0M102.3 255.0h0M101.5 254.8h0M100.1 255.2h0M100.9 254.9h0M100.9 254.7h0M99.4 252.4h0M97.8 251.0h0M96.9 255.4h0M94.2 252.4h0M93.8 252.0h0M91.9 254.8h0M89.1 253.5h0M87.0 251.4h0M85.6 252.3h0M167.5 253.5h0M167.2 253.7h0M167.5 253.2h0M167.1 251.8h0M167.4 254.0h0M167.4 250.9h0M168.5 252.4h0M168.2 255.3h0M168.4 253.1h0M168.5 254.5h0M169.2 251.9h0M169.2 252.3h0M169.7 253.1h0M169.5 252.2h0M169.0 254.9h0M169.1 251.2h0M170.6 254.9h0M170.6 254.1h0M170.1 254.6h0M170.7 252.4h0M171.4 251.1h0M171.4 252.8h0M171.4 253.7h0M172.2 252.2h0M172.0 255.2h0M172.2 251.5h0M172.5 253.3h0M172.4 253.8h0M173.7 255.1h0M173.3 251.0h0M174.0 252.3h0M173.6 253.9h0M173.6 251.8h0M173.6 253.4h0M174.4 251.4h0M174.1 254.3h0M174.4 251.8h0M176.0 255.2h0M176.6 252.4h0M177.0 254.7h0M177.5 255.4h0M178.7 255.0h0M178.4 254.8h0M178.1 255.3h0M178.8 252.6h0M179.4 251.6h0M179.9 251.2h0M179.7 255.3h0M179.1 251.2h0M179.5 252.3h0M180.5 252.0h0M180.3 254.1h0M180.8 255.3h0M180.4 254.0h0M180.4 251.7h0M180.2 252.9h0M181.4 255.4h0M181.7 253.1h0M182.1 253.6h0M182.6 252.4h0M183.4 253.2h0M183.9 250.9h0M186.9 252.8h0M188.9 251.6h0M189.6 254.4h0M191.0 254.8h0M191.9 255.1h0M192.8 253.7h0M192.0 255.3h0M193.5 255.1h0M193.4 253.9h0M194.4 251.5h0M194.7 252.3h0M194.5 252.0h0M195.1 251.8h0M195.8 253.4h0M197.6 253.9h0M210.0 253.2h0M213.1 253.8h0M214.2 254.2h0M223.0 252.7h0M125.1 465.1h0M125.9 465.1h0M125.5 463.7h0M125.6 466.6h0M125.4 465.0h0M125.7 465.7h0M125.1 461.0h0M125.9 461.7h0M125.7 462.4h0M125.4 463.6h0M125.7 460.3h0M124.5 470.1h0M124.8 462.5h0M124.2 468.6h0M124.3 469.1h0M124.3 461.1h0M124.0 469.8h0M124.0 468.4h0M124.0 460.6h0M123.8 461.4h0M123.7 462.5h0M123.9 465.9h0M123.7 467.5h0M123.4 464.1h0M123.2 466.9h0M123.8 467.5h0M123.2 465.9h0M122.4 462.3h0M121.7 468.1h0M121.9 464.4h0M121.6 465.8h0M121.2 469.1h0M121.5 462.3h0M120.4 460.9h0M120.0 466.0h0M120.2 466.9h0M120.2 467.6h0M120.2 468.6h0M120.1 460.6h0M120.3 465.1h0M120.1 464.5h0M120.6 468.2h0M120.8 468.3h0M120.4 464.8h0M119.4 461.1h0M119.3 461.3h0M119.4 465.4h0M119.6 467.7h0M119.5 471.0h0M119.3 465.1h0M119.1 461.9h0M118.6 469.0h0M118.7 462.8h0M118.3 460.6h0M118.8 463.9h0M118.3 462.7h0M118.6 467.7h0M118.6 469.9h0M118.3 462.7h0M118.7 468.9h0M118.3 462.3h0M118.2 469.8h0M118.4 460.1h0M117.5 464.5h0M117.6 469.6h0M117.7 469.3h0M117.4 466.9h0M117.7 466.2h0M117.9 462.1h0M117.1 469.3h0M118.0 463.4h0M116.0 460.1h0M116.4 468.1h0M116.4 464.5h0M116.6 461.5h0M116.7 462.6h0M116.7 466.7h0M116.5 460.7h0M116.7 463.7h0M116.4 469.8h0M116.6 463.2h0M116.9 460.9h0M117.0 468.2h0M117.0 465.9h0M115.6 465.7h0M115.5 464.1h0M115.2 466.5h0M115.0 461.1h0M115.4 461.8h0M115.4 463.8h0M115.6 467.9h0M115.1 463.5h0M115.4 470.3h0M114.6 465.3h0M114.0 460.0h0M114.6 469.7h0M114.8 463.6h0M114.3 467.7h0M114.6 467.8h0M114.1 471.1h0M114.9 466.6h0M114.9 459.9h0M114.9 464.2h0M114.1 464.9h0M113.2 469.0h0M113.8 459.8h0M113.5 466.7h0M113.8 470.2h0M113.5 463.1h0M113.7 461.1h0M112.7 460.7h0M112.8 469.6h0M112.9 463.7h0M112.0 468.4h0M112.9 469.5h0M112.9 470.2h0M112.7 468.3h0M112.9 462.8h0M111.4 463.9h0M111.4 461.5h0M111.9 461.0h0M111.3 460.5h0M111.6 465.9h0M111.7 469.5h0M111.3 467.3h0M111.7 465.7h0M110.5 467.1h0M110.5 468.4h0M110.1 469.2h0M110.7 462.6h0M110.1 462.4h0M110.9 464.8h0M110.6 468.9h0M110.4 467.4h0M109.3 468.5h0M109.5 462.4h0M109.7 461.4h0M109.4 463.0h0M109.4 463.3h0M109.4 469.7h0M109.4 462.6h0M108.6 465.7h0M109.0 460.0h0M108.3 460.3h0M108.2 469.3h0M108.9 468.2h0M108.0 459.8h0M108.5 465.1h0M108.8 465.8h0M108.1 464.4h0M108.4 470.8h0M107.7 464.9h0M107.2 470.8h0M107.5 463.3h0M107.0 464.4h0M107.9 466.9h0M107.5 465.9h0M107.1 464.0h0M107.8 467.1h0M106.8 460.6h0M107.0 465.6h0M106.4 466.0h0M106.3 463.9h0M106.4 462.0h0M106.2 465.5h0M106.1 461.8h0M106.4 463.6h0M106.0 464.2h0M106.4 464.3h0M106.2 463.9h0M106.7 462.9h0M106.2 469.0h0M105.8 461.3h0M105.4 461.2h0M106.0 468.7h0M105.2 466.1h0M106.0 464.9h0M105.0 461.1h0M106.0 463.1h0M105.6 470.3h0M104.3 469.9h0M104.6 469.5h0M104.4 468.3h0M104.8 466.8h0M104.4 461.0h0M104.4 468.1h0M104.4 467.7h0M104.2 464.8h0M104.0 464.3h0M103.8 460.2h0M103.8 464.9h0M103.5 466.8h0M103.3 463.0h0M103.9 470.5h0M104.0 461.7h0M103.6 464.4h0M103.8 460.0h0M104.0 470.0h0M102.3 459.9h0M102.5 465.4h0M102.9 461.6h0M103.0 460.6h0M102.2 471.0h0M102.3 469.4h0M102.3 465.3h0M101.5 463.7h0M101.2 464.1h0M101.6 461.5h0M101.9 470.4h0M101.0 461.6h0M101.1 468.1h0M101.9 468.9h0M101.1 469.9h0M101.8 468.4h0M101.6 467.4h0M101.1 465.8h0M100.9 467.3h0M100.2 464.4h0M100.7 467.0h0M100.7 470.5h0M100.1 470.1h0M100.3 463.1h0M100.8 462.6h0M100.6 463.3h0M99.2 462.0h0M99.7 465.9h0M99.3 464.3h0M99.0 464.8h0M99.2 466.2h0M99.2 465.8h0M99.3 461.7h0M98.3 470.0h0M98.2 469.5h0M99.0 460.4h0M98.3 463.4h0M98.0 469.6h0M98.8 461.2h0M98.3 462.0h0M97.0 471.0h0M97.8 460.8h0M97.2 464.7h0M97.4 462.4h0M97.1 468.8h0M97.5 462.0h0M97.3 462.5h0M97.9 467.8h0M96.3 463.2h0M97.0 460.0h0M96.9 466.2h0M96.2 463.0h0M95.8 462.7h0M95.6 461.1h0M95.6 464.5h0M95.3 465.4h0M95.6 464.8h0M95.7 463.9h0M94.2 464.9h0M94.0 462.9h0M94.5 469.8h0M94.5 468.0h0M94.5 470.0h0M93.7 460.7h0M93.6 463.6h0M94.0 464.3h0M93.0 464.7h0M93.4 469.6h0M93.8 464.6h0M92.2 471.2h0M92.7 467.6h0M92.9 459.9h0M92.1 469.4h0M92.2 468.0h0M92.2 468.5h0M91.6 461.4h0M91.9 466.2h0M91.8 466.1h0M91.4 462.9h0M91.7 460.3h0M91.8 460.3h0M90.5 461.4h0M90.4 468.1h0M90.5 469.7h0M90.6 466.0h0M90.5 460.7h0M90.6 463.3h0M90.3 465.5h0M90.4 462.0h0M89.1 468.8h0M88.8 471.1h0M88.7 470.0h0M88.5 469.8h0M88.6 462.9h0M87.0 462.0h0M87.5 462.2h0M87.8 466.7h0M87.5 466.7h0M87.4 463.6h0M86.5 466.4h0M87.0 470.7h0M86.8 461.2h0M87.0 467.9h0M86.8 466.2h0M86.3 470.2h0M86.6 463.9h0M85.5 460.0h0M85.4 468.5h0M85.5 463.4h0M85.7 464.6h0M85.5 471.1h0M84.3 463.6h0M84.4 464.3h0M84.6 469.2h0M84.8 461.9h0M84.8 470.9h0M84.5 461.0h0M84.8 465.3h0M84.6 463.9h0M84.1 460.1h0M84.2 469.5h0M83.2 462.5h0M83.9 466.4h0M83.5 465.0h0M83.8 461.2h0M83.1 468.6h0M83.7 466.9h0M83.1 467.9h0M83.3 469.2h0M82.3 471.0h0M82.4 465.3h0M82.7 463.6h0M81.1 464.3h0M81.0 462.0h0M81.8 464.1h0M81.6 463.4h0M82.0 468.5h0M81.1 464.9h0M80.1 464.6h0M80.6 467.4h0M80.5 468.7h0M80.6 465.0h0M80.5 469.3h0M80.5 462.3h0M80.4 463.4h0M80.1 462.8h0M80.5 465.6h0M79.0 462.8h0M79.6 470.5h0M79.9 466.0h0M79.7 462.5h0M79.4 469.1h0M78.3 469.7h0M78.8 461.2h0M78.6 467.7h0M78.5 469.2h0M78.1 463.6h0M77.6 463.6h0M77.2 463.8h0M77.5 470.0h0M77.4 465.4h0M77.2 465.4h0M77.0 465.6h0M77.0 465.7h0M77.5 466.3h0M78.0 459.9h0M77.0 464.8h0M76.5 463.4h0M76.9 465.5h0M77.0 466.8h0M76.2 465.3h0M76.3 460.9h0M76.8 465.1h0M76.6 460.7h0M75.2 460.9h0M75.5 470.8h0M75.3 464.5h0M74.1 468.7h0M74.6 466.8h0M74.2 462.8h0M74.6 470.3h0M74.0 469.9h0M74.8 469.5h0M74.1 462.6h0M74.9 464.8h0M74.3 467.1h0M74.3 470.1h0M74.0 471.2h0M73.9 465.7h0M73.1 460.5h0M73.2 461.5h0M72.4 462.8h0M72.7 466.0h0M72.2 468.7h0M72.8 460.8h0M72.6 470.2h0M71.5 466.7h0M71.9 468.5h0M71.2 466.8h0M71.6 460.0h0M71.6 461.5h0M71.4 468.9h0M71.6 471.2h0M71.4 467.5h0M70.6 466.6h0M70.6 463.8h0M70.3 468.4h0M70.7 467.4h0M70.5 461.1h0M70.2 461.2h0M70.8 461.6h0M70.1 465.1h0M70.1 465.9h0M70.5 468.6h0M69.9 463.9h0M69.0 461.9h0M69.4 460.7h0M69.3 467.3h0M68.1 470.3h0M68.5 465.6h0M68.7 470.3h0M68.6 469.3h0M68.5 464.7h0M68.3 466.3h0M68.9 460.2h0M68.3 462.1h0M67.5 469.2h0M67.4 461.8h0M67.1 467.7h0M67.0 466.4h0M67.7 460.4h0M67.6 464.5h0M67.5 459.9h0M66.2 461.6h0M66.2 464.3h0M66.2 461.9h0M66.0 463.0h0M65.6 465.7h0M65.4 469.2h0M65.4 460.9h0M66.0 463.1h0M65.4 467.3h0M65.3 470.2h0M64.7 462.0h0M65.0 461.5h0M64.8 467.1h0M63.2 467.6h0M63.7 466.5h0M63.3 463.5h0M64.0 464.3h0M63.0 461.2h0M63.8 470.3h0M63.6 461.2h0M63.8 466.7h0M62.4 463.3h0M62.9 460.2h0M62.2 460.7h0M62.6 470.8h0M62.9 469.6h0M62.4 461.5h0M62.1 469.4h0M63.0 469.6h0M62.4 470.3h0M62.4 470.7h0M61.1 471.1h0M61.1 467.6h0M61.1 470.2h0M61.8 466.2h0M61.5 463.9h0M61.2 469.1h0M61.3 459.9h0M61.9 462.7h0M60.6 469.8h0M60.6 465.9h0M60.4 460.2h0M60.1 469.2h0M60.1 466.1h0M60.3 470.1h0M59.4 459.9h0M59.1 467.4h0M59.5 470.3h0M59.6 468.6h0M58.7 459.9h0M58.1 468.7h0M58.6 462.7h0M58.0 465.4h0M59.0 463.9h0M58.3 468.1h0M57.6 466.7h0M57.6 461.3h0M57.5 467.0h0M57.6 462.5h0M57.2 464.5h0M57.9 469.0h0M57.9 465.3h0M57.6 470.1h0M57.3 463.7h0M56.6 466.7h0M56.1 460.5h0M56.4 468.0h0M56.9 461.2h0M55.5 466.2h0M55.4 468.4h0M55.5 466.4h0M54.7 461.7h0M54.3 463.4h0M54.9 471.0h0M54.1 466.8h0M54.8 460.1h0M53.1 466.7h0M53.9 466.1h0M53.5 461.3h0M53.9 464.1h0M53.3 465.9h0M52.3 469.1h0M51.1 461.7h0M50.9 467.3h0M50.3 460.3h0M50.3 460.1h0M51.0 468.3h0M49.4 460.4h0M48.1 460.0h0M48.9 469.5h0M47.7 462.4h0M47.4 460.4h0M47.8 466.2h0M47.4 466.7h0M46.4 467.3h0M46.0 461.3h0M46.1 462.1h0M46.5 460.0h0M46.8 462.7h0M46.2 460.5h0M46.9 464.3h0M45.2 459.9h0M45.8 463.6h0M45.2 464.8h0M45.6 466.1h0M44.8 468.4h0M44.9 461.1h0M44.5 465.1h0M44.1 466.8h0M44.8 465.7h0M44.3 468.1h0M43.8 467.4h0M43.1 467.1h0M43.3 467.6h0M43.7 466.1h0M43.8 468.9h0M43.1 465.6h0M43.7 462.7h0M42.1 467.3h0M42.1 467.6h0M41.8 462.0h0M41.6 461.9h0M41.6 460.6h0M42.0 461.1h0M40.0 468.4h0M40.3 462.1h0M39.1 466.6h0M39.0 465.5h0M38.7 464.8h0M38.1 468.6h0M38.5 460.0h0M38.3 467.1h0M38.3 464.2h0M38.6 462.7h0M38.3 462.0h0M36.9 460.2h0M36.9 468.1h0M36.3 464.0h0M36.9 465.9h0M35.4 466.1h0M35.8 465.8h0M35.7 467.2h0M35.3 460.8h0M33.9 468.5h0M33.8 467.3h0M33.3 470.8h0M33.6 466.6h0M32.4 461.3h0M32.3 461.4h0M31.5 460.4h0M30.3 469.8h0M29.8 467.0h0M28.4 470.1h0" stroke="#2e2e2e" stroke-width="1.75" stroke-linecap="square" fill="none"/>
<path d="M125.8 502.4h0M126.0 502.6h0M125.2 506.9h0M125.5 506.0h0M125.5 498.9h0M125.4 502.7h0M125.3 510.0h0M125.6 505.1h0M125.3 502.9h0M125.8 507.3h0M125.1 508.0h0M125.3 509.2h0M125.3 506.1h0M125.5 501.3h0M125.4 498.2h0M124.5 499.1h0M124.2 510.4h0M124.5 498.3h0M124.4 504.6h0M124.3 504.2h0M124.4 508.8h0M124.5 502.8h0M124.1 499.8h0M124.3 502.5h0M124.2 498.6h0M124.0 502.0h0M124.9 500.8h0M124.6 497.0h0M124.6 502.9h0M124.3 501.9h0M124.7 500.1h0M124.3 510.4h0M123.7 504.7h0M123.9 508.9h0M123.6 509.1h0M123.7 502.3h0M123.7 503.0h0M123.8 496.8h0M123.3 500.9h0M123.8 501.2h0M123.5 503.0h0M123.4 506.4h0M123.6 510.3h0M123.1 497.6h0M123.2 509.9h0M123.2 498.8h0M123.2 506.0h0M124.0 497.0h0M123.0 506.3h0M122.4 508.1h0M122.3 509.8h0M122.2 509.0h0M122.8 506.8h0M122.5 507.6h0M122.6 509.6h0M122.4 500.6h0M122.8 498.8h0M122.5 497.6h0M122.5 498.9h0M121.4 506.0h0M122.0 505.6h0M121.3 510.3h0M121.7 511.0h0M121.5 503.8h0M121.1 497.3h0M121.3 505.9h0M121.7 509.3h0M121.6 503.7h0M121.5 508.0h0M121.8 503.1h0M121.6 504.8h0M121.2 501.0h0M120.3 509.6h0M120.5 497.5h0M120.7 496.9h0M120.8 510.2h0M120.4 506.3h0M120.2 510.0h0M120.4 505.7h0M120.4 506.9h0M120.4 506.7h0M120.8 506.5h0M120.5 507.9h0M120.9 499.4h0M121.0 508.0h0M120.1 506.3h0M120.0 498.5h0M119.2 505.1h0M119.1 503.3h0M120.0 502.4h0M119.4 510.4h0M119.0 503.7h0M119.6 498.3h0M119.4 499.9h0M119.8 497.0h0M120.0 506.7h0M119.9 510.8h0M119.9 509.4h0M118.2 507.1h0M118.1 507.4h0M118.9 505.9h0M118.3 503.5h0M118.1 500.5h0M118.0 507.2h0M117.7 507.4h0M117.8 509.3h0M117.5 497.7h0M117.6 505.1h0M116.0 507.0h0M116.2 501.6h0M116.4 511.0h0M116.2 505.5h0M116.7 503.0h0M116.1 502.3h0M116.3 505.5h0M116.1 508.5h0M116.7 496.8h0M116.7 502.9h0M116.4 508.6h0M116.1 497.4h0M116.2 508.6h0M116.1 505.1h0M115.4 506.6h0M115.5 499.8h0M115.7 507.7h0M115.2 503.5h0M115.9 508.5h0M115.2 500.2h0M115.4 509.8h0M115.1 504.4h0M115.5 505.3h0M115.8 499.6h0M115.8 507.0h0M115.6 505.0h0M114.4 508.2h0M114.8 505.5h0M114.7 504.3h0M115.0 497.3h0M114.0 509.4h0M114.5 505.0h0M113.8 498.0h0M113.9 504.9h0M113.1 503.4h0M113.1 510.0h0M113.9 505.5h0M113.6 498.5h0M113.0 500.5h0M113.4 506.1h0M113.0 506.5h0M112.7 501.9h0M112.1 509.9h0M112.2 497.5h0M112.2 507.1h0M112.4 511.1h0M112.9 498.9h0M111.9 503.8h0M111.8 500.3h0M111.9 506.6h0M112.0 507.2h0M111.8 497.3h0M111.1 500.0h0M111.1 509.4h0M111.1 498.8h0M110.9 500.0h0M110.9 507.1h0M110.4 498.9h0M110.1 500.7h0M110.6 499.1h0M110.7 509.0h0M110.7 499.2h0M110.5 501.4h0M110.1 498.5h0M109.7 499.7h0M109.6 511.2h0M109.0 510.2h0M109.9 501.0h0M109.1 497.6h0M109.3 501.1h0M109.0 508.9h0M108.5 499.5h0M108.6 510.0h0M108.8 505.1h0M107.9 498.1h0M107.4 504.0h0M107.7 499.8h0M107.4 507.1h0M106.6 507.3h0M106.9 508.6h0M106.7 509.0h0M106.1 503.9h0M105.1 500.7h0M105.8 508.9h0M104.5 503.3h0M104.5 498.6h0M104.3 508.6h0M104.1 501.5h0M103.1 510.6h0M103.5 504.2h0M103.5 504.6h0M102.8 498.3h0M102.7 508.6h0M101.3 499.6h0M99.1 507.2h0M100.0 498.6h0M99.5 504.1h0M99.7 498.6h0M98.1 498.9h0M98.4 507.6h0M97.6 509.0h0M97.5 502.5h0M97.1 508.1h0M96.6 511.0h0M96.2 510.0h0M95.5 510.7h0M95.1 500.4h0M94.5 497.8h0M94.6 504.1h0M91.4 500.7h0M91.3 500.8h0M91.5 510.2h0M91.4 500.4h0M91.5 503.1h0M91.0 501.0h0M91.7 506.2h0M89.5 504.5h0M89.9 498.6h0M89.9 501.1h0M88.8 498.1h0M87.4 506.2h0M87.8 507.1h0M86.4 503.6h0M82.4 497.0h0M80.4 503.9h0M78.2 499.1h0M76.9 502.4h0M74.8 510.7h0M167.2 505.9h0M167.6 501.9h0M168.0 506.0h0M167.0 502.8h0M167.8 501.2h0M167.7 496.9h0M167.3 509.0h0M167.6 506.5h0M167.2 504.0h0M167.6 500.7h0M167.6 504.5h0M168.0 505.1h0M167.4 498.6h0M167.2 507.8h0M167.1 498.3h0M167.2 504.4h0M167.8 505.7h0M167.8 497.7h0M167.0 508.0h0M167.3 507.2h0M167.4 499.3h0M167.3 498.2h0M168.6 510.7h0M168.5 510.6h0M168.2 502.5h0M168.7 500.0h0M168.3 509.5h0M168.5 508.3h0M168.2 499.3h0M168.4 499.5h0M169.0 501.0h0M168.6 498.5h0M168.5 502.4h0M168.4 497.7h0M168.1 508.8h0M168.4 500.4h0M168.2 500.9h0M168.2 497.3h0M168.7 501.8h0M168.2 507.0h0M169.2 503.4h0M169.1 507.0h0M169.3 509.8h0M169.6 502.1h0M169.2 505.6h0M169.2 509.4h0M169.1 504.2h0M169.5 500.7h0M169.8 502.4h0M169.7 505.0h0M169.3 502.5h0M169.1 499.4h0M169.9 501.5h0M169.7 498.4h0M170.4 510.0h0M170.8 509.6h0M170.9 498.7h0M170.3 497.2h0M170.7 506.4h0M170.4 502.8h0M170.7 506.9h0M170.2 509.1h0M170.4 505.9h0M171.2 501.2h0M171.4 497.4h0M171.3 506.1h0M171.2 509.0h0M171.6 507.2h0M171.3 503.1h0M171.7 501.9h0M172.9 505.6h0M172.0 500.3h0M172.1 508.3h0M172.2 510.1h0M173.5 497.6h0M173.7 503.0h0M173.5 510.3h0M173.1 507.8h0M173.0 507.0h0M173.8 500.6h0M173.5 510.9h0M173.6 504.7h0M173.2 497.7h0M173.4 502.8h0M173.2 501.3h0M173.1 507.1h0M173.7 500.2h0M173.2 504.3h0M174.7 505.5h0M174.5 507.9h0M174.8 498.5h0M174.3 502.0h0M174.2 497.7h0M174.3 499.7h0M174.7 503.3h0M174.1 501.5h0M174.5 502.1h0M174.2 497.8h0M174.0 511.2h0M175.5 496.9h0M175.9 506.1h0M175.6 510.4h0M175.7 500.4h0M175.2 498.8h0M175.0 508.0h0M175.8 501.1h0M175.2 506.1h0M176.4 508.9h0M176.2 497.4h0M176.6 505.9h0M176.8 507.0h0M176.9 510.5h0M176.5 504.0h0M176.2 501.1h0M176.6 498.0h0M176.7 499.2h0M176.4 510.9h0M176.1 497.4h0M177.8 509.2h0M177.8 503.0h0M177.3 506.4h0M178.4 505.0h0M178.3 499.6h0M178.1 501.5h0M178.5 510.9h0M178.9 509.3h0M179.0 510.7h0M178.6 508.6h0M178.1 506.6h0M179.2 506.6h0M179.4 498.0h0M179.7 502.2h0M179.6 502.8h0M179.5 505.0h0M179.4 498.5h0M179.2 509.7h0M179.5 498.4h0M179.9 500.5h0M180.2 505.1h0M180.1 504.2h0M180.6 498.0h0M180.4 497.9h0M181.8 502.5h0M181.2 510.7h0M181.6 508.0h0M181.1 508.1h0M181.1 500.2h0M181.4 497.0h0M181.6 499.9h0M181.3 507.1h0M182.8 506.7h0M182.8 498.6h0M182.4 507.5h0M182.9 507.3h0M182.0 505.6h0M182.1 504.8h0M182.8 498.4h0M182.9 506.6h0M182.3 499.6h0M183.1 508.4h0M183.2 504.8h0M183.3 506.8h0M183.4 498.9h0M184.3 499.0h0M184.5 509.5h0M184.8 497.3h0M184.2 508.7h0M184.7 502.5h0M185.6 497.9h0M185.3 499.9h0M185.9 505.3h0M185.0 499.3h0M186.0 505.2h0M186.3 497.1h0M186.5 511.1h0M186.0 498.9h0M187.3 505.0h0M187.5 510.7h0M188.0 497.3h0M188.3 508.3h0M188.9 510.4h0M188.7 501.2h0M188.8 507.5h0M188.5 506.0h0M188.4 504.8h0M189.3 501.5h0M190.2 501.9h0M190.1 496.9h0M190.9 503.4h0M191.2 497.8h0M191.3 501.3h0M192.1 499.4h0M192.6 511.1h0M192.4 508.0h0M192.4 509.4h0M192.1 503.8h0M193.0 499.2h0M193.3 507.0h0M194.2 505.5h0M195.7 510.8h0M195.6 497.9h0M196.2 504.6h0M196.9 506.1h0M196.9 499.9h0M197.4 506.6h0M197.3 497.6h0M198.6 501.7h0M199.5 497.0h0M199.9 505.0h0M200.6 507.3h0M201.2 498.9h0M202.8 502.9h0M203.6 506.3h0M204.7 500.5h0M205.3 508.0h0M206.0 503.4h0M207.0 503.7h0M207.7 508.0h0M209.8 498.1h0M216.1 499.4h0M217.2 497.2h0M219.0 504.0h0M221.3 509.9h0M231.6 500.0h0M240.6 499.1h0M263.0 498.4h0M125.9 476.2h0M125.5 476.9h0M125.8 480.2h0M125.9 475.6h0M125.6 480.5h0M125.1 481.6h0M125.9 477.5h0M125.3 481.7h0M124.1 480.4h0M124.3 475.7h0M124.5 478.7h0M124.8 482.9h0M124.6 476.3h0M124.0 480.7h0M124.8 474.9h0M124.3 481.1h0M125.0 480.5h0M124.3 481.4h0M124.8 480.9h0M124.0 480.2h0M123.9 477.1h0M123.3 481.9h0M123.1 479.7h0M123.3 475.0h0M123.1 477.6h0M123.5 481.0h0M123.1 480.8h0M123.0 482.4h0M123.8 485.0h0M123.8 487.0h0M123.5 477.6h0M123.0 478.7h0M123.6 479.0h0M122.4 477.9h0M122.5 481.7h0M122.3 476.5h0M122.8 476.3h0M122.0 476.6h0M121.6 485.6h0M121.3 485.3h0M121.0 478.1h0M121.1 479.8h0M121.9 486.0h0M121.9 475.0h0M121.7 478.3h0M121.0 485.4h0M120.1 481.8h0M120.8 483.2h0M120.7 477.7h0M120.6 481.2h0M120.3 475.7h0M120.3 482.4h0M120.5 483.0h0M120.2 474.9h0M120.5 483.1h0M120.3 482.7h0M120.8 486.5h0M120.2 477.6h0M120.6 486.5h0M120.8 479.8h0M120.0 476.5h0M119.6 479.9h0M119.9 481.9h0M119.1 481.8h0M119.6 483.4h0M119.6 476.9h0M119.5 475.0h0M119.3 476.8h0M119.6 486.5h0M119.2 485.0h0M118.5 483.7h0M118.7 475.7h0M119.0 476.9h0M118.3 474.8h0M118.8 478.0h0M118.3 486.8h0M119.0 476.2h0M118.1 486.6h0M118.9 478.9h0M118.5 478.7h0M118.6 480.6h0M118.7 475.5h0M118.9 476.8h0M118.9 482.4h0M117.8 483.3h0M117.6 483.5h0M117.8 484.5h0M117.2 475.9h0M117.4 477.1h0M117.3 484.6h0M117.2 477.6h0M117.9 482.9h0M117.4 476.5h0M116.5 483.6h0M117.0 483.6h0M116.8 478.3h0M116.4 483.2h0M116.4 485.8h0M116.8 478.6h0M115.3 475.5h0M115.4 475.9h0M116.0 481.1h0M115.8 486.2h0M115.1 480.4h0M115.8 476.3h0M115.5 481.2h0M115.6 483.5h0M115.5 484.3h0M115.9 475.7h0M114.6 486.1h0M114.1 482.3h0M114.9 480.4h0M114.4 478.2h0M115.0 486.8h0M114.1 476.4h0M114.5 482.4h0M114.7 475.6h0M114.2 484.2h0M113.7 484.2h0M113.9 476.1h0M113.9 476.8h0M113.5 485.0h0M113.8 476.9h0M112.7 483.8h0M112.1 485.8h0M112.5 486.5h0M112.4 478.3h0M112.5 483.5h0M112.3 476.4h0M111.7 480.5h0M111.0 476.6h0M111.1 478.7h0M111.8 483.9h0M111.7 477.1h0M110.2 482.2h0M110.1 486.4h0M110.7 485.2h0M110.2 478.0h0M109.8 485.9h0M109.6 482.6h0M109.1 484.0h0M109.8 486.0h0M108.5 478.9h0M108.2 479.0h0M108.2 485.1h0M108.1 476.5h0M108.1 483.9h0M108.3 482.8h0M109.0 485.4h0M108.5 480.4h0M108.7 484.4h0M107.7 475.1h0M107.2 477.6h0M107.9 475.6h0M107.3 477.2h0M107.5 479.7h0M106.9 482.0h0M106.2 481.1h0M106.5 479.9h0M106.1 482.9h0M106.8 479.2h0M106.6 486.5h0M106.3 476.3h0M106.1 475.2h0M106.4 480.1h0M106.3 480.0h0M105.8 483.9h0M105.2 477.5h0M105.1 486.9h0M105.6 479.4h0M104.3 477.1h0M104.5 480.9h0M104.3 476.5h0M104.0 487.0h0M103.1 477.3h0M104.0 480.9h0M103.1 485.8h0M103.0 481.0h0M103.1 481.6h0M103.9 482.5h0M103.2 480.0h0M102.5 480.5h0M102.9 474.9h0M102.7 483.5h0M101.8 482.2h0M101.1 477.3h0M101.4 483.6h0M100.1 480.2h0M100.9 475.6h0M100.2 483.1h0M100.9 480.4h0M100.4 487.0h0M100.7 484.2h0M99.8 479.8h0M98.8 475.8h0M98.8 478.7h0M97.5 480.2h0M96.4 476.6h0M96.8 475.7h0M96.3 486.6h0M96.6 479.1h0M95.6 476.7h0M95.1 481.8h0M93.1 479.7h0M93.6 478.4h0M93.4 482.9h0M92.6 485.2h0M92.2 482.0h0M91.1 481.5h0M90.9 485.7h0M89.7 480.7h0M88.1 479.1h0M87.5 478.9h0M87.6 482.2h0M86.6 479.5h0M84.7 484.8h0M84.8 483.2h0M80.8 475.5h0M78.1 486.4h0M76.1 480.1h0M73.9 485.4h0M70.9 476.3h0M61.0 480.1h0M57.8 477.0h0M57.8 479.1h0M167.5 483.6h0M167.2 482.8h0M167.3 479.3h0M167.9 486.3h0M168.0 480.0h0M167.6 484.7h0M167.8 480.4h0M167.9 479.7h0M168.0 480.6h0M167.1 483.9h0M167.1 483.1h0M167.1 486.9h0M167.5 483.8h0M167.1 482.6h0M168.5 480.5h0M168.7 483.7h0M168.3 486.2h0M168.2 476.5h0M168.8 476.3h0M168.2 480.9h0M168.3 476.8h0M168.9 480.6h0M169.8 486.5h0M169.9 476.8h0M169.7 481.6h0M169.4 476.8h0M169.1 480.5h0M169.5 478.1h0M169.4 481.6h0M169.8 482.0h0M169.2 485.6h0M169.4 486.5h0M170.0 476.5h0M169.6 486.6h0M169.4 481.5h0M169.3 475.1h0M169.2 476.3h0M169.3 482.5h0M169.6 486.4h0M169.7 479.2h0M170.6 477.3h0M170.5 476.2h0M170.8 483.0h0M170.7 486.1h0M171.0 483.1h0M170.7 474.8h0M170.0 480.0h0M171.0 478.6h0M170.6 474.9h0M170.4 485.8h0M170.6 484.9h0M170.0 477.3h0M171.8 486.8h0M171.1 483.9h0M171.3 476.6h0M171.4 482.9h0M172.0 486.9h0M172.0 482.4h0M171.7 476.8h0M171.7 481.5h0M171.4 485.8h0M171.3 476.5h0M171.2 476.6h0M172.1 480.0h0M172.2 484.0h0M172.2 484.9h0M172.2 475.9h0M172.5 479.5h0M172.3 484.1h0M172.2 483.0h0M172.8 480.3h0M173.1 482.7h0M173.4 478.6h0M173.5 486.2h0M173.2 476.7h0M173.3 478.8h0M173.9 483.4h0M174.2 482.4h0M174.1 481.0h0M174.3 476.0h0M174.7 483.5h0M174.5 476.9h0M175.2 479.7h0M175.2 475.9h0M175.7 486.9h0M175.3 478.0h0M175.7 477.5h0M177.0 486.0h0M176.1 480.9h0M176.5 477.2h0M176.7 480.8h0M176.8 478.4h0M177.7 481.9h0M178.0 475.4h0M177.7 484.6h0M177.1 478.7h0M177.1 481.9h0M177.7 479.0h0M178.1 483.7h0M178.9 482.6h0M178.2 485.4h0M178.7 476.2h0M178.4 483.0h0M178.0 475.3h0M179.5 480.7h0M179.3 479.4h0M179.5 482.0h0M179.2 478.2h0M179.5 480.9h0M179.4 482.9h0M179.2 481.3h0M179.3 484.2h0M179.7 484.3h0M179.5 477.8h0M179.9 481.0h0M179.4 478.3h0M180.4 478.5h0M180.4 484.0h0M180.7 477.3h0M180.2 484.4h0M180.7 483.0h0M180.6 483.3h0M181.0 486.5h0M181.5 483.0h0M182.8 483.8h0M182.5 479.3h0M182.3 480.7h0M182.7 485.7h0M183.2 478.2h0M183.9 485.2h0M183.3 485.2h0M183.9 480.0h0M183.2 484.2h0M183.4 476.3h0M184.0 479.6h0M184.4 474.9h0M184.4 484.1h0M184.3 483.1h0M185.7 482.3h0M185.3 477.2h0M186.0 478.8h0M186.6 482.1h0M186.5 476.3h0M186.2 478.6h0M186.4 479.2h0M187.9 477.8h0M187.6 479.4h0M187.0 484.5h0M189.0 475.5h0M188.4 477.6h0M188.6 484.3h0M189.3 484.0h0M189.4 486.9h0M189.1 480.4h0M189.2 474.8h0M192.5 478.3h0M193.5 480.8h0M193.4 485.3h0M193.2 485.5h0M194.6 481.7h0M196.0 479.3h0M197.3 485.1h0M197.3 479.9h0M198.2 482.9h0M198.7 480.2h0M199.8 480.4h0M200.7 475.2h0M202.5 477.2h0M202.2 482.7h0M202.7 478.0h0M203.6 476.9h0M204.6 476.4h0M206.3 483.1h0M207.8 481.8h0M210.8 479.2h0M212.1 482.3h0M212.0 486.2h0M213.8 477.0h0M213.8 481.2h0M215.8 483.2h0M217.9 478.9h0M227.9 486.9h0M231.7 477.6h0M126.0 449.4h0M125.2 458.0h0M125.5 451.0h0M125.1 449.7h0M125.7 448.3h0M125.0 453.2h0M125.2 457.7h0M125.4 459.8h0M125.2 459.1h0M124.0 454.1h0M124.3 454.4h0M124.2 452.2h0M124.6 457.0h0M124.3 458.7h0M124.7 458.2h0M124.3 455.0h0M124.6 454.9h0M124.9 449.4h0M123.4 452.9h0M123.7 450.0h0M123.1 455.7h0M123.1 450.3h0M123.7 454.3h0M123.9 451.8h0M123.5 453.9h0M123.1 455.1h0M123.4 455.1h0M123.2 452.6h0M122.8 456.0h0M122.9 448.5h0M122.5 448.4h0M122.7 452.8h0M121.7 453.1h0M121.6 452.1h0M122.0 458.1h0M120.2 458.7h0M120.9 454.2h0M120.4 449.7h0M120.7 455.5h0M120.3 455.7h0M120.4 452.7h0M119.2 450.3h0M119.7 450.6h0M119.1 457.9h0M119.2 452.8h0M119.1 451.3h0M118.7 455.8h0M118.4 454.4h0M118.1 457.1h0M118.8 454.6h0M118.8 451.1h0M118.9 449.2h0M118.6 458.7h0M117.9 454.9h0M117.4 449.2h0M117.2 451.1h0M117.4 454.5h0M117.7 459.4h0M116.2 450.9h0M116.3 454.0h0M116.6 456.6h0M116.3 459.9h0M116.0 457.7h0M116.7 456.1h0M116.5 459.3h0M116.6 452.5h0M117.0 453.8h0M116.5 451.9h0M116.9 454.0h0M116.9 450.3h0M116.6 452.4h0M116.5 454.5h0M116.6 449.9h0M115.3 454.1h0M115.2 448.4h0M115.9 450.7h0M115.6 453.0h0M115.6 459.6h0M114.4 449.1h0M114.3 452.7h0M114.4 451.6h0M114.1 452.6h0M114.7 458.8h0M114.8 451.5h0M114.5 459.8h0M114.9 450.8h0M114.2 449.2h0M113.8 454.1h0M114.0 450.2h0M113.1 455.0h0M113.1 450.1h0M113.5 453.8h0M113.9 451.4h0M113.1 456.8h0M113.5 455.4h0M113.1 459.5h0M113.4 448.9h0M113.1 450.2h0M112.3 454.6h0M112.7 458.1h0M112.1 459.1h0M112.0 449.1h0M112.6 453.6h0M112.7 457.0h0M111.5 457.5h0M111.8 451.6h0M111.0 448.4h0M111.4 449.4h0M111.2 453.3h0M111.1 450.9h0M111.1 451.0h0M110.6 459.7h0M110.6 456.7h0M109.4 453.5h0M109.7 458.0h0M109.3 449.7h0M108.7 455.7h0M107.8 449.8h0M107.4 455.6h0M107.1 448.4h0M108.0 459.7h0M107.7 451.4h0M107.1 449.6h0M107.2 458.8h0M107.4 455.4h0M108.0 455.4h0M106.3 449.2h0M106.9 451.2h0M106.2 454.7h0M106.6 459.6h0M105.4 459.9h0M105.4 450.4h0M105.4 452.1h0M105.5 456.6h0M106.0 454.2h0M104.7 454.3h0M104.5 450.9h0M104.2 454.1h0M104.6 451.3h0M104.2 458.9h0M103.4 448.6h0M103.1 456.2h0M102.6 457.5h0M102.3 455.1h0M102.9 450.8h0M101.4 455.0h0M100.5 459.3h0M100.5 448.3h0M100.6 450.6h0M100.4 454.3h0M100.5 459.1h0M100.0 456.5h0M98.5 458.1h0M98.4 448.8h0M98.9 458.9h0M97.3 459.1h0M96.5 457.8h0M96.7 450.0h0M96.1 456.5h0M93.4 450.4h0M93.7 450.0h0M93.5 448.8h0M93.3 455.9h0M92.1 454.7h0M92.1 454.1h0M90.0 454.6h0M89.3 456.6h0M89.5 451.5h0M88.8 450.1h0M87.9 451.5h0M86.2 451.9h0M84.2 448.9h0M83.5 456.1h0M80.7 458.3h0M77.6 454.8h0M73.8 458.3h0M73.7 457.7h0M167.1 459.4h0M167.4 452.8h0M167.9 454.5h0M167.6 453.4h0M167.5 459.5h0M167.3 454.4h0M167.5 450.0h0M167.1 454.2h0M167.8 453.4h0M167.1 459.2h0M167.1 458.6h0M167.0 455.9h0M168.5 452.4h0M168.7 448.8h0M168.7 452.6h0M168.9 451.8h0M168.4 452.0h0M168.5 451.6h0M168.7 453.1h0M168.7 451.7h0M168.5 454.8h0M168.7 455.9h0M168.4 449.3h0M169.2 450.0h0M169.7 455.1h0M169.3 457.8h0M169.7 453.3h0M169.6 456.0h0M169.4 449.4h0M169.4 459.4h0M169.4 455.8h0M170.7 454.3h0M171.0 459.6h0M170.9 459.4h0M170.8 448.6h0M170.1 459.7h0M170.9 455.5h0M170.6 453.4h0M170.4 450.0h0M171.6 454.8h0M171.3 449.2h0M171.5 454.4h0M171.8 450.7h0M171.2 451.9h0M171.8 451.0h0M171.6 448.7h0M171.1 456.6h0M171.5 449.6h0M171.5 459.3h0M172.2 459.2h0M172.8 452.7h0M172.6 454.8h0M172.2 448.7h0M172.7 450.2h0M172.6 448.5h0M172.0 450.2h0M172.7 455.5h0M173.8 453.9h0M173.2 453.1h0M173.1 455.1h0M173.2 456.5h0M173.2 456.4h0M173.6 456.6h0M174.0 451.8h0M174.5 458.5h0M174.0 448.5h0M174.5 449.4h0M174.8 449.3h0M174.9 450.9h0M174.1 457.1h0M174.7 453.1h0M174.6 454.8h0M174.9 454.2h0M174.5 453.7h0M174.4 456.4h0M174.1 456.4h0M174.9 457.2h0M174.5 452.4h0M174.1 449.4h0M174.5 458.6h0M174.9 450.4h0M174.7 457.7h0M175.4 450.9h0M175.5 456.6h0M175.4 456.0h0M175.5 448.4h0M176.0 451.7h0M175.5 459.5h0M175.2 449.0h0M175.2 450.1h0M175.9 454.4h0M176.3 458.9h0M176.4 451.0h0M176.6 449.6h0M177.9 455.4h0M177.2 450.5h0M177.7 457.8h0M177.1 453.2h0M177.3 453.8h0M177.9 454.8h0M178.8 450.2h0M178.3 458.2h0M179.0 452.6h0M179.0 448.7h0M179.0 450.7h0M178.0 457.2h0M178.2 457.1h0M178.0 449.7h0M179.7 454.1h0M180.0 458.2h0M179.2 459.0h0M180.2 455.5h0M180.3 457.3h0M180.6 458.0h0M180.1 458.2h0M180.5 455.7h0M181.3 457.1h0M181.0 455.7h0M181.5 456.7h0M181.3 453.9h0M181.5 457.1h0M182.6 451.3h0M182.2 451.0h0M183.9 455.7h0M183.1 454.4h0M183.5 456.1h0M183.3 458.9h0M183.6 449.2h0M183.8 458.6h0M184.8 451.2h0M184.8 456.3h0M184.5 458.9h0M184.8 459.9h0M185.2 451.4h0M185.8 458.2h0M185.7 456.4h0M185.5 455.0h0M185.7 448.4h0M185.4 459.6h0M186.3 457.9h0M186.0 457.6h0M187.5 459.4h0M187.5 456.3h0M187.1 448.4h0M187.3 449.5h0M188.7 452.0h0M188.5 449.2h0M188.8 457.5h0M188.6 456.4h0M189.3 457.0h0M190.2 453.9h0M193.9 449.8h0M194.5 459.9h0M194.6 452.8h0M195.3 453.2h0M195.3 455.9h0M197.0 456.8h0M196.5 458.2h0M198.1 453.9h0M198.3 455.4h0M198.4 453.6h0M199.9 451.6h0M203.4 458.9h0M203.9 459.7h0M204.1 451.2h0M209.1 452.2h0M213.8 458.2h0M213.7 451.8h0M214.0 459.5h0M216.0 449.4h0M224.7 455.6h0M226.5 455.2h0M254.4 456.5h0M125.6 432.6h0M125.6 427.7h0M125.1 426.2h0M125.1 426.6h0M125.4 432.4h0M125.6 433.4h0M125.1 429.5h0M125.9 428.0h0M125.1 433.1h0M125.2 430.4h0M125.7 434.2h0M125.4 437.1h0M124.3 434.5h0M124.1 430.7h0M124.9 435.8h0M124.7 434.6h0M124.5 431.1h0M125.0 428.3h0M124.3 431.3h0M124.1 435.7h0M124.5 438.0h0M125.0 430.5h0M124.5 426.1h0M124.1 427.3h0M123.8 429.0h0M123.6 431.7h0M123.1 426.7h0M123.4 433.4h0M123.7 429.9h0M123.6 436.8h0M123.2 431.5h0M123.9 430.0h0M123.2 431.0h0M123.6 433.6h0M122.7 437.2h0M122.3 438.2h0M122.7 431.4h0M122.6 436.5h0M122.6 434.1h0M122.8 432.3h0M122.7 437.1h0M122.6 437.6h0M122.4 429.8h0M122.4 437.3h0M121.5 426.0h0M121.1 436.0h0M121.4 431.4h0M121.2 425.7h0M121.6 428.6h0M121.4 429.9h0M121.4 436.9h0M121.6 426.9h0M122.0 436.1h0M121.5 431.1h0M122.0 426.7h0M122.0 436.9h0M122.0 429.5h0M121.5 432.7h0M121.8 433.7h0M121.4 438.0h0M121.9 429.2h0M121.9 429.1h0M121.8 425.8h0M121.2 428.9h0M121.3 435.8h0M120.3 436.1h0M120.3 425.5h0M120.6 435.2h0M120.9 431.9h0M120.3 432.2h0M120.7 425.6h0M120.3 427.5h0M120.4 432.1h0M120.3 426.8h0M120.0 435.0h0M120.1 427.8h0M120.3 430.2h0M119.4 428.5h0M119.6 428.0h0M119.3 434.8h0M119.3 427.1h0M120.0 432.9h0M119.9 434.6h0M119.5 437.3h0M119.2 433.8h0M119.2 431.9h0M119.7 426.2h0M119.3 433.9h0M119.4 432.0h0M118.7 437.8h0M118.8 429.0h0M118.2 428.4h0M118.3 428.9h0M118.6 431.4h0M118.8 435.9h0M118.1 437.2h0M118.8 425.7h0M118.6 434.9h0M118.5 437.7h0M118.0 434.1h0M118.7 430.5h0M118.9 430.4h0M117.6 436.6h0M117.7 431.1h0M117.0 429.3h0M117.5 433.7h0M117.7 433.5h0M117.6 436.0h0M117.4 434.7h0M117.4 434.3h0M117.6 427.3h0M117.6 429.6h0M116.9 434.6h0M117.0 436.5h0M116.5 437.8h0M116.1 430.6h0M116.7 431.0h0M115.1 428.5h0M115.2 428.7h0M115.3 429.0h0M115.4 435.3h0M116.0 436.2h0M115.5 428.5h0M115.7 432.5h0M115.3 427.7h0M115.9 428.4h0M115.4 430.6h0M115.2 434.7h0M115.6 432.9h0M115.9 433.2h0M115.4 428.4h0M115.3 427.2h0M114.8 428.5h0M114.5 427.2h0M114.8 434.8h0M115.0 433.2h0M114.6 434.5h0M114.7 431.5h0M114.8 425.6h0M114.1 430.1h0M114.7 437.4h0M114.6 432.3h0M114.9 430.7h0M114.1 436.0h0M114.2 437.1h0M114.8 426.1h0M114.9 433.7h0M114.5 430.1h0M114.3 428.2h0M113.9 434.3h0M113.6 432.6h0M113.6 428.8h0M113.8 435.2h0M113.6 427.4h0M113.1 427.4h0M113.8 427.4h0M113.4 435.4h0M114.0 437.2h0M112.1 436.1h0M112.1 427.2h0M112.6 436.1h0M112.7 428.5h0M113.0 432.2h0M112.4 428.1h0M112.7 433.5h0M111.9 434.5h0M111.4 428.9h0M111.8 434.7h0M111.1 429.9h0M111.4 428.2h0M111.5 432.8h0M110.6 427.3h0M110.5 433.0h0M110.4 436.7h0M110.4 435.3h0M109.5 434.5h0M109.2 436.8h0M109.5 437.5h0M109.6 425.6h0M109.6 432.3h0M109.2 428.4h0M110.0 434.6h0M108.0 426.1h0M108.9 433.0h0M108.3 433.1h0M108.1 428.0h0M109.0 432.3h0M108.6 430.5h0M107.7 427.9h0M107.3 434.3h0M107.6 426.9h0M107.4 429.7h0M107.4 433.8h0M108.0 426.0h0M107.2 436.5h0M106.2 429.4h0M106.0 426.6h0M105.0 437.0h0M105.7 435.3h0M105.1 428.1h0M105.6 435.3h0M105.4 437.1h0M105.6 431.1h0M104.1 435.7h0M104.4 429.3h0M105.0 426.9h0M103.7 426.8h0M103.8 428.8h0M103.8 432.7h0M103.7 428.2h0M103.1 430.1h0M104.0 425.5h0M103.4 425.8h0M103.4 425.7h0M103.5 433.3h0M102.5 430.7h0M102.2 427.6h0M102.8 431.2h0M102.5 438.1h0M102.7 425.5h0M102.6 436.6h0M102.9 432.0h0M101.3 434.7h0M101.3 434.0h0M101.6 434.6h0M101.6 428.4h0M101.9 432.5h0M101.8 429.0h0M101.7 430.2h0M100.2 432.1h0M100.5 429.9h0M100.8 428.1h0M100.9 429.0h0M101.0 430.7h0M99.5 433.4h0M99.6 435.6h0M98.7 435.0h0M98.6 428.3h0M96.1 426.1h0M96.6 430.9h0M95.8 425.5h0M95.7 433.3h0M95.1 426.7h0M95.7 436.8h0M94.9 428.2h0M94.4 426.1h0M93.7 430.7h0M93.4 434.8h0M92.4 431.3h0M92.1 432.2h0M91.5 433.9h0M91.4 438.2h0M90.0 435.8h0M89.8 430.7h0M88.7 431.6h0M87.3 434.5h0M82.4 433.1h0M78.7 427.1h0M78.4 435.2h0M73.1 430.4h0M70.9 429.1h0M66.7 425.8h0M64.1 436.6h0M39.5 433.9h0M26.5 434.9h0M167.3 435.8h0M167.6 429.2h0M167.7 427.8h0M167.8 433.1h0M167.8 433.3h0M168.0 434.3h0M167.5 433.0h0M167.6 429.1h0M167.3 435.6h0M167.8 437.8h0M167.7 431.9h0M167.4 434.4h0M167.6 437.5h0M167.7 430.3h0M167.3 426.0h0M167.8 430.9h0M167.4 426.1h0M167.5 436.9h0M168.8 428.1h0M168.5 428.4h0M168.8 433.0h0M168.4 430.3h0M168.2 428.1h0M168.7 429.4h0M168.1 430.3h0M168.5 438.0h0M168.4 430.6h0M169.0 434.6h0M168.5 430.5h0M168.2 427.4h0M168.5 433.6h0M168.1 431.5h0M168.2 433.1h0M168.3 433.9h0M168.8 430.6h0M168.4 426.4h0M169.5 429.2h0M169.2 432.1h0M169.7 432.1h0M169.5 434.0h0M169.4 438.0h0M169.2 425.5h0M169.6 434.3h0M169.4 430.5h0M169.3 428.5h0M169.8 436.4h0M169.3 432.6h0M169.5 427.1h0M169.7 432.2h0M170.0 437.0h0M169.9 428.8h0M170.9 432.0h0M170.5 437.8h0M170.8 428.3h0M170.7 430.3h0M170.5 429.4h0M170.2 429.3h0M170.3 427.8h0M171.7 432.4h0M171.9 435.5h0M171.8 437.9h0M171.3 437.0h0M171.0 435.6h0M171.1 431.8h0M171.4 426.3h0M171.6 435.5h0M171.2 428.5h0M171.8 432.2h0M171.0 429.3h0M171.9 428.9h0M171.3 431.2h0M172.0 436.3h0M172.2 426.1h0M172.1 426.4h0M172.3 432.8h0M172.7 429.1h0M172.5 429.7h0M172.6 426.8h0M172.6 425.4h0M173.3 431.9h0M174.0 426.1h0M173.7 429.5h0M173.6 428.8h0M173.7 431.8h0M173.3 431.1h0M173.0 426.7h0M173.9 426.5h0M173.4 434.0h0M173.0 437.3h0M173.2 437.7h0M173.4 432.9h0M174.8 426.7h0M174.6 428.8h0M174.2 437.6h0M174.6 434.8h0M174.6 432.6h0M174.9 426.2h0M174.4 428.2h0M174.6 430.4h0M174.9 428.4h0M174.3 437.1h0M175.9 436.4h0M175.0 427.4h0M175.9 435.9h0M175.3 435.7h0M175.6 428.6h0M175.7 430.7h0M175.1 436.3h0M175.7 428.5h0M176.5 438.0h0M177.0 425.5h0M176.6 427.2h0M176.2 427.1h0M176.5 438.1h0M177.0 430.1h0M176.9 434.2h0M177.5 427.7h0M177.5 435.1h0M177.6 437.9h0M177.5 437.0h0M177.1 434.8h0M177.6 436.7h0M178.8 430.7h0M178.2 430.3h0M178.1 436.2h0M178.8 437.8h0M178.7 427.5h0M178.4 438.1h0M178.0 429.8h0M178.1 427.6h0M179.2 426.7h0M179.5 429.9h0M179.5 426.8h0M179.4 431.9h0M180.6 426.5h0M180.1 425.5h0M180.5 427.7h0M180.3 426.9h0M181.8 434.2h0M181.1 434.4h0M181.1 431.6h0M181.2 431.6h0M181.7 434.8h0M181.3 426.1h0M182.3 434.5h0M182.6 436.4h0M182.8 429.6h0M182.2 433.8h0M182.1 431.7h0M182.3 430.5h0M182.7 433.5h0M182.6 426.2h0M182.9 434.4h0M182.9 433.2h0M183.0 434.6h0M183.8 430.3h0M183.2 431.0h0M183.8 435.1h0M184.7 428.6h0M184.9 430.7h0M185.9 425.7h0M185.4 430.2h0M187.7 432.7h0M187.5 434.6h0M187.6 437.9h0M187.2 436.9h0M187.8 431.1h0M187.8 429.1h0M188.8 433.8h0M188.9 429.2h0M188.7 436.8h0M189.5 437.9h0M189.9 425.9h0M189.3 428.5h0M189.8 427.7h0M189.8 427.9h0M190.6 428.9h0M190.8 426.3h0M191.7 425.8h0M191.9 433.5h0M191.9 434.9h0M193.9 433.9h0M193.3 426.3h0M194.2 426.0h0M197.0 429.0h0M197.1 436.0h0M197.9 432.2h0M197.2 426.5h0M199.3 432.1h0M201.0 436.9h0M201.8 435.2h0M204.0 434.3h0M203.2 436.8h0M204.0 428.1h0M205.2 426.3h0M206.8 431.2h0M207.4 435.6h0M207.3 437.4h0M207.3 433.4h0M209.4 434.7h0M210.2 428.1h0M211.7 435.7h0M218.4 434.2h0M125.5 410.4h0M125.1 415.2h0M125.5 414.1h0M125.3 412.0h0M125.6 415.6h0M125.2 412.4h0M125.0 408.9h0M125.2 412.2h0M125.7 408.7h0M124.7 415.5h0M124.2 415.6h0M124.5 411.8h0M124.9 411.2h0M124.4 415.9h0M124.9 413.1h0M125.0 415.8h0M124.8 413.4h0M124.4 409.3h0M123.6 411.9h0M123.9 413.8h0M123.3 408.5h0M123.6 408.6h0M123.3 407.7h0M123.1 408.1h0M123.2 409.2h0M122.3 412.2h0M122.1 411.6h0M122.8 414.7h0M122.9 413.4h0M122.7 408.1h0M122.8 414.7h0M122.8 415.3h0M122.9 415.4h0M122.9 413.1h0M122.5 412.6h0M121.3 413.7h0M121.8 414.6h0M121.3 408.4h0M121.9 408.5h0M121.8 414.0h0M121.2 413.4h0M121.6 415.5h0M121.8 409.5h0M121.6 409.8h0M121.3 414.6h0M121.3 410.3h0M121.4 410.2h0M121.5 412.1h0M120.1 411.2h0M120.8 411.6h0M120.7 410.8h0M120.2 410.3h0M120.3 412.6h0M121.0 411.9h0M120.1 413.0h0M120.1 413.0h0M119.3 413.1h0M120.0 412.8h0M119.7 409.7h0M119.4 412.9h0M119.8 413.6h0M118.5 412.1h0M118.1 415.7h0M118.6 409.3h0M118.5 411.2h0M118.2 415.3h0M118.4 408.3h0M118.5 408.7h0M117.3 411.0h0M117.6 410.8h0M117.7 408.8h0M117.3 412.0h0M117.6 413.9h0M117.5 409.0h0M117.7 412.3h0M117.3 412.9h0M116.2 415.6h0M116.2 414.5h0M116.4 409.7h0M116.7 414.8h0M116.7 411.7h0M116.5 407.7h0M115.8 415.9h0M115.8 414.3h0M115.4 414.9h0M115.3 408.4h0M114.5 412.3h0M114.4 408.2h0M114.1 412.0h0M114.9 411.8h0M114.8 411.2h0M113.4 409.7h0M113.9 413.1h0M113.9 408.8h0M113.3 415.7h0M113.9 413.9h0M113.9 408.1h0M112.3 415.2h0M112.0 411.0h0M110.4 408.8h0M110.3 408.7h0M110.8 415.9h0M109.3 413.3h0M109.4 410.8h0M109.2 408.1h0M109.5 412.2h0M109.1 414.1h0M108.9 415.9h0M108.5 408.8h0M108.8 407.7h0M107.7 413.3h0M107.2 409.3h0M107.8 411.1h0M107.4 415.1h0M107.4 409.8h0M107.0 412.4h0M106.4 411.5h0M105.4 411.0h0M105.5 415.3h0M104.5 408.1h0M104.8 409.2h0M103.1 410.1h0M102.6 414.2h0M101.2 411.4h0M101.9 409.5h0M101.2 408.1h0M101.8 412.9h0M100.4 407.9h0M100.6 415.8h0M100.4 410.5h0M99.2 414.7h0M99.8 413.2h0M99.7 410.6h0M98.1 408.7h0M98.6 407.9h0M98.1 415.1h0M97.7 408.8h0M97.1 414.3h0M97.5 413.7h0M96.4 414.9h0M96.5 411.2h0M95.8 413.3h0M94.3 411.8h0M90.6 412.8h0M89.4 412.7h0M89.4 412.6h0M89.6 409.6h0M88.3 415.6h0M88.7 412.4h0M87.5 414.5h0M87.8 410.9h0M86.5 412.6h0M85.1 413.5h0M77.8 410.6h0M77.5 408.8h0M76.5 409.9h0M167.6 415.9h0M167.6 415.9h0M167.2 409.5h0M167.3 409.6h0M167.2 409.7h0M167.5 414.4h0M167.8 407.9h0M167.8 413.0h0M168.3 414.3h0M168.9 415.3h0M168.8 414.7h0M168.5 408.1h0M169.1 410.1h0M169.9 409.6h0M169.5 414.7h0M169.0 413.7h0M170.2 407.9h0M170.7 413.6h0M170.2 407.9h0M170.6 410.2h0M170.3 414.9h0M170.6 408.6h0M170.7 413.7h0M171.4 411.9h0M171.1 413.4h0M171.1 409.7h0M171.6 407.8h0M171.3 414.4h0M171.7 410.8h0M172.2 414.5h0M172.6 414.3h0M172.9 413.3h0M172.7 410.1h0M172.3 410.7h0M172.8 412.6h0M173.2 410.7h0M173.4 413.8h0M173.2 409.3h0M173.6 411.6h0M173.9 407.8h0M173.4 414.6h0M173.8 410.6h0M173.5 410.9h0M173.0 408.3h0M173.2 414.9h0M173.2 410.0h0M174.8 410.8h0M174.3 409.3h0M174.5 408.9h0M174.3 408.5h0M174.2 412.0h0M175.4 410.1h0M175.1 410.1h0M175.4 413.4h0M176.8 415.4h0M176.2 414.7h0M176.4 411.6h0M176.0 409.6h0M176.2 409.3h0M177.9 411.9h0M177.6 414.3h0M177.5 411.7h0M177.7 411.6h0M177.6 410.1h0M177.2 409.5h0M178.2 412.5h0M178.5 415.9h0M179.6 413.4h0M179.8 413.6h0M179.8 410.4h0M179.8 412.6h0M180.0 410.3h0M179.6 414.8h0M180.3 413.1h0M180.0 413.1h0M180.1 409.2h0M181.1 414.8h0M181.6 415.3h0M181.7 408.7h0M181.4 409.4h0M183.0 415.7h0M182.4 414.9h0M182.9 413.8h0M182.4 412.9h0M183.2 414.3h0M183.3 413.5h0M183.4 413.6h0M184.7 409.8h0M185.5 415.1h0M186.1 410.1h0M186.6 415.5h0M186.6 409.4h0M187.0 414.0h0M187.2 414.5h0M187.7 414.1h0M188.0 412.6h0M190.4 412.1h0M190.2 409.3h0M191.2 409.5h0M192.6 411.1h0M192.0 409.7h0M194.0 410.0h0M194.1 411.6h0M194.3 410.3h0M195.0 410.7h0M195.9 411.2h0M201.0 408.8h0M202.7 408.2h0M202.7 409.5h0M202.8 414.7h0M204.6 410.6h0M204.7 408.8h0M204.5 408.3h0M206.2 415.6h0M211.3 415.3h0M211.9 415.5h0M223.4 413.8h0M226.5 408.8h0M230.0 414.4h0M236.5 411.0h0M244.6 414.1h0M125.3 394.5h0M125.6 387.4h0M125.3 391.6h0M125.6 384.9h0M125.7 392.5h0M125.8 390.1h0M125.2 388.7h0M125.9 392.2h0M125.3 391.5h0M125.1 388.9h0M125.5 389.8h0M124.1 388.5h0M124.2 394.1h0M124.1 392.8h0M124.3 393.8h0M124.1 394.8h0M124.1 388.4h0M124.1 385.9h0M124.8 394.3h0M124.5 395.2h0M124.7 385.6h0M124.9 394.4h0M124.2 389.5h0M124.3 385.3h0M124.1 388.0h0M123.7 390.5h0M123.2 386.8h0M123.3 390.0h0M123.1 392.6h0M123.1 389.4h0M123.5 387.6h0M123.8 388.3h0M123.8 391.7h0M123.4 392.9h0M123.2 395.4h0M123.5 391.5h0M123.5 390.1h0M123.7 388.2h0M122.2 390.1h0M122.7 388.2h0M122.1 388.5h0M122.4 389.4h0M122.3 390.9h0M122.5 386.0h0M123.0 391.9h0M123.0 390.5h0M122.7 392.9h0M122.7 385.4h0M122.8 388.5h0M122.4 392.5h0M122.2 395.2h0M122.4 385.4h0M122.3 388.7h0M121.3 388.3h0M121.5 391.7h0M121.4 395.4h0M121.7 387.2h0M121.6 394.6h0M121.1 385.5h0M121.8 387.4h0M121.2 392.4h0M121.8 393.4h0M121.1 393.7h0M121.7 393.7h0M121.0 392.7h0M120.0 389.8h0M120.5 391.2h0M120.6 394.9h0M120.8 390.2h0M120.3 393.0h0M120.7 386.2h0M120.3 386.3h0M120.2 385.1h0M120.1 393.7h0M119.3 392.5h0M119.1 389.0h0M119.6 394.2h0M119.2 395.5h0M120.0 395.2h0M119.6 393.5h0M119.8 390.7h0M118.2 393.1h0M118.8 394.9h0M118.6 394.2h0M118.8 388.9h0M118.8 385.3h0M118.9 386.6h0M118.5 390.1h0M118.9 394.8h0M118.4 390.5h0M117.9 387.9h0M117.9 394.4h0M117.1 393.5h0M117.5 386.1h0M117.5 394.6h0M117.3 384.9h0M117.0 395.1h0M117.4 385.1h0M117.3 391.6h0M116.9 392.2h0M116.2 388.4h0M115.8 391.6h0M115.6 385.8h0M115.6 387.9h0M115.2 387.5h0M115.4 392.2h0M115.6 385.4h0M115.0 385.2h0M114.2 394.6h0M114.7 388.6h0M114.7 391.7h0M114.7 390.0h0M114.3 387.9h0M113.6 394.0h0M113.4 392.2h0M113.0 387.1h0M112.5 391.7h0M112.2 387.6h0M112.2 390.8h0M112.4 385.9h0M112.5 385.9h0M112.4 393.5h0M112.6 389.6h0M112.4 390.9h0M111.3 391.9h0M111.1 385.5h0M111.5 388.6h0M111.7 387.7h0M111.2 389.8h0M111.4 386.2h0M110.4 385.8h0M110.0 389.1h0M110.1 385.3h0M110.2 394.6h0M109.5 389.9h0M109.2 392.9h0M109.7 388.3h0M109.6 385.5h0M109.6 386.1h0M109.3 388.5h0M108.1 389.8h0M108.5 388.3h0M108.0 391.4h0M107.0 392.9h0M107.8 389.5h0M106.9 390.6h0M106.1 388.4h0M106.4 386.0h0M106.1 394.5h0M106.7 392.7h0M106.3 389.6h0M106.1 385.4h0M105.8 392.0h0M105.5 391.0h0M105.6 391.0h0M104.4 393.8h0M104.8 391.3h0M104.6 386.9h0M103.3 386.3h0M102.4 390.0h0M102.8 392.2h0M101.7 389.5h0M102.0 386.0h0M101.2 386.1h0M101.4 387.5h0M101.5 389.1h0M101.7 389.8h0M100.3 386.7h0M100.3 393.3h0M100.1 390.5h0M99.6 394.0h0M99.1 389.0h0M99.1 393.5h0M99.3 388.6h0M99.7 388.0h0M99.3 389.9h0M98.2 387.0h0M97.9 389.3h0M96.5 390.0h0M97.0 394.0h0M95.4 393.4h0M94.0 395.5h0M94.4 394.4h0M94.7 389.6h0M94.9 390.0h0M93.8 389.5h0M93.7 390.2h0M93.4 389.3h0M92.5 390.1h0M91.8 388.3h0M91.9 393.2h0M91.1 391.8h0M91.8 386.3h0M90.0 393.0h0M90.0 395.5h0M89.7 390.7h0M89.4 386.5h0M89.7 393.2h0M88.8 389.1h0M88.3 393.7h0M88.2 386.2h0M88.3 385.2h0M85.3 389.3h0M84.0 386.2h0M80.8 387.6h0M78.8 389.1h0M77.9 388.8h0M71.9 386.3h0M68.7 386.3h0M62.8 393.6h0M43.8 390.1h0M167.9 385.4h0M167.2 392.9h0M167.4 388.1h0M167.5 395.0h0M167.6 388.8h0M167.9 387.5h0M167.1 392.8h0M167.8 393.5h0M167.4 392.3h0M167.2 387.8h0M167.9 394.1h0M167.9 390.9h0M168.4 387.0h0M168.4 392.1h0M168.7 394.4h0M168.9 388.2h0M168.3 389.4h0M168.3 394.0h0M168.8 392.1h0M168.6 388.1h0M168.3 393.1h0M168.1 395.6h0M168.1 387.1h0M168.8 394.7h0M168.2 395.0h0M168.5 386.2h0M168.5 387.4h0M168.6 391.7h0M169.6 393.0h0M169.7 386.0h0M169.2 390.1h0M169.8 387.9h0M169.7 387.4h0M169.3 394.1h0M169.2 394.0h0M169.6 385.2h0M169.5 390.7h0M169.1 388.9h0M169.5 390.0h0M169.9 389.1h0M169.9 388.1h0M169.7 386.6h0M169.6 393.0h0M169.8 385.5h0M169.7 386.6h0M170.1 389.9h0M170.3 390.7h0M170.7 391.4h0M170.0 388.2h0M170.3 389.5h0M170.3 387.0h0M170.2 390.2h0M170.9 387.2h0M171.0 392.1h0M170.9 394.5h0M170.8 394.8h0M170.2 391.7h0M170.4 386.7h0M170.3 391.9h0M170.1 386.0h0M171.5 395.5h0M171.2 391.1h0M171.4 392.8h0M171.6 392.8h0M172.8 393.3h0M172.4 394.9h0M172.6 390.4h0M172.0 390.1h0M173.5 388.7h0M173.9 395.5h0M173.4 386.4h0M173.3 386.1h0M173.9 392.6h0M173.3 391.9h0M173.8 395.6h0M174.3 389.4h0M174.8 386.6h0M174.5 387.4h0M174.9 385.0h0M174.3 395.3h0M174.7 387.4h0M174.7 390.3h0M174.1 386.0h0M175.8 388.9h0M175.6 387.2h0M175.2 387.8h0M175.4 388.1h0M175.6 385.3h0M175.3 391.4h0M175.8 393.4h0M176.4 388.1h0M176.8 393.1h0M176.2 395.4h0M176.2 386.3h0M176.6 389.6h0M177.0 385.4h0M177.3 385.8h0M177.3 395.6h0M177.8 390.8h0M177.6 391.7h0M177.8 393.9h0M178.0 394.4h0M179.0 393.6h0M178.3 390.6h0M178.1 389.7h0M178.8 387.0h0M178.2 388.7h0M179.6 390.2h0M179.6 388.4h0M179.9 393.3h0M180.5 385.8h0M180.9 393.4h0M180.1 387.2h0M180.7 390.8h0M180.4 389.3h0M180.2 389.3h0M181.2 385.2h0M182.6 395.6h0M182.7 393.8h0M183.4 386.3h0M183.7 388.8h0M183.4 386.6h0M184.4 388.3h0M184.2 392.4h0M185.9 386.2h0M186.2 393.5h0M186.7 386.2h0M186.3 385.7h0M186.8 391.8h0M187.5 385.0h0M187.7 395.2h0M187.2 389.6h0M188.8 388.8h0M188.8 390.4h0M188.6 394.6h0M189.3 385.6h0M190.1 393.3h0M190.7 388.4h0M191.0 388.0h0M192.0 388.4h0M192.7 391.1h0M192.8 388.1h0M192.2 389.9h0M193.5 394.6h0M193.2 391.1h0M194.8 388.5h0M196.3 387.3h0M196.5 393.4h0M197.5 393.0h0M197.3 385.1h0M198.3 386.8h0M198.9 393.1h0M198.6 385.1h0M200.5 390.0h0M202.8 388.2h0M202.2 390.1h0M203.1 394.1h0M206.3 393.0h0M206.7 385.8h0M213.9 385.1h0M223.1 393.4h0M224.7 386.3h0M228.0 395.0h0M235.4 386.6h0M236.3 394.3h0M242.7 393.9h0M125.4 375.0h0M125.5 376.1h0M125.4 375.3h0M126.0 372.8h0M125.1 372.8h0M125.3 373.3h0M125.1 368.8h0M125.7 369.7h0M125.1 377.6h0M125.8 370.9h0M125.8 374.0h0M124.0 370.9h0M124.6 377.6h0M124.7 369.0h0M124.1 372.0h0M124.4 371.0h0M124.9 370.2h0M124.2 373.3h0M124.3 375.2h0M123.9 375.9h0M123.8 368.3h0M123.4 374.9h0M123.2 375.0h0M123.4 371.6h0M123.1 370.7h0M123.5 369.2h0M123.4 374.8h0M123.5 371.7h0M124.0 374.3h0M122.4 374.0h0M122.2 377.7h0M122.8 377.4h0M122.7 372.3h0M122.3 376.0h0M122.7 371.1h0M122.5 372.8h0M122.6 371.0h0M123.0 377.1h0M122.7 377.0h0M122.4 369.2h0M122.8 371.7h0M121.8 368.5h0M121.4 373.2h0M121.0 370.5h0M121.9 373.2h0M121.3 370.4h0M121.7 369.9h0M121.2 373.7h0M121.7 371.6h0M120.7 374.9h0M120.1 371.1h0M120.2 371.2h0M120.0 369.5h0M120.8 374.9h0M120.7 372.5h0M119.4 374.4h0M120.0 375.7h0M119.1 371.0h0M119.2 371.1h0M119.1 377.4h0M119.3 372.1h0M118.0 373.9h0M118.2 374.4h0M118.6 372.8h0M118.8 371.9h0M118.0 377.0h0M118.4 375.0h0M118.7 374.3h0M118.1 368.8h0M117.6 375.3h0M117.8 377.2h0M117.2 369.4h0M116.5 371.8h0M116.9 372.2h0M116.0 368.4h0M116.0 371.4h0M116.2 376.0h0M116.4 374.1h0M116.0 372.4h0M115.3 377.4h0M115.2 377.0h0M115.3 375.2h0M115.1 377.1h0M115.6 369.8h0M115.6 369.1h0M115.1 372.3h0M115.0 369.2h0M115.5 374.0h0M114.5 371.3h0M114.2 369.1h0M114.7 372.9h0M114.1 373.8h0M113.8 374.5h0M113.6 369.8h0M114.0 377.5h0M113.2 374.3h0M113.4 372.7h0M113.0 377.7h0M112.1 372.6h0M112.6 373.4h0M113.0 368.4h0M113.0 376.6h0M112.1 375.4h0M112.7 374.1h0M112.8 373.3h0M112.5 374.7h0M112.9 377.1h0M111.1 374.9h0M111.9 374.0h0M111.7 375.9h0M111.9 375.1h0M111.6 369.6h0M111.7 375.9h0M111.1 377.5h0M111.0 375.1h0M110.5 370.2h0M110.5 368.9h0M109.5 373.5h0M109.5 370.9h0M109.8 371.0h0M109.8 377.4h0M109.8 370.1h0M109.0 369.3h0M110.0 371.9h0M109.4 374.5h0M109.1 377.0h0M108.8 374.0h0M107.2 371.6h0M107.9 374.8h0M108.0 377.1h0M107.5 373.5h0M107.9 373.3h0M106.5 375.6h0M106.3 368.4h0M106.1 371.9h0M105.5 369.4h0M105.4 376.3h0M105.8 374.1h0M105.5 370.2h0M105.1 369.4h0M104.3 374.5h0M104.3 375.6h0M104.7 372.4h0M103.9 373.3h0M103.6 374.7h0M103.7 368.6h0M103.3 371.2h0M102.1 373.0h0M101.4 372.3h0M100.0 374.1h0M100.0 373.0h0M99.6 376.5h0M98.9 376.1h0M97.6 371.1h0M96.7 371.6h0M96.2 377.6h0M95.3 377.7h0M95.8 368.1h0M95.5 375.0h0M94.4 376.4h0M94.0 371.8h0M93.5 369.4h0M92.0 372.9h0M92.1 377.0h0M91.3 372.9h0M88.2 371.3h0M88.7 375.7h0M88.1 373.5h0M87.6 372.2h0M85.6 374.9h0M84.8 372.4h0M84.0 369.1h0M81.5 371.0h0M80.7 373.3h0M79.3 377.1h0M79.3 374.1h0M78.4 370.6h0M72.2 371.9h0M72.9 371.1h0M66.5 376.8h0M167.0 369.5h0M167.2 376.2h0M167.7 373.5h0M167.1 371.2h0M168.0 376.8h0M167.9 371.6h0M167.6 370.5h0M167.6 373.3h0M168.4 371.5h0M168.6 374.2h0M168.7 374.2h0M168.1 371.5h0M168.6 375.0h0M168.9 375.2h0M168.6 374.0h0M168.3 373.7h0M169.9 370.4h0M169.5 374.8h0M169.6 376.9h0M169.7 372.8h0M169.4 371.9h0M169.5 376.1h0M169.0 371.0h0M169.7 369.2h0M169.8 371.5h0M170.6 377.0h0M170.5 369.9h0M170.3 376.9h0M170.4 368.9h0M170.3 373.7h0M170.2 372.9h0M170.5 374.5h0M170.3 369.9h0M170.5 369.9h0M170.6 371.9h0M170.9 369.9h0M170.5 370.8h0M170.1 369.4h0M170.6 373.1h0M170.6 374.7h0M170.1 377.5h0M171.5 369.3h0M171.1 375.0h0M171.8 369.6h0M172.0 369.6h0M171.3 370.5h0M171.3 373.9h0M171.0 375.9h0M171.8 377.4h0M172.4 372.7h0M172.6 373.0h0M172.3 371.2h0M172.7 368.8h0M172.8 368.9h0M172.4 376.6h0M172.2 373.1h0M172.2 369.2h0M172.6 376.8h0M172.4 377.0h0M173.9 370.9h0M173.4 376.3h0M173.4 373.7h0M173.6 375.7h0M173.4 376.7h0M173.2 377.7h0M173.0 376.0h0M174.8 373.9h0M174.2 373.7h0M174.6 368.6h0M174.5 373.9h0M174.2 376.8h0M174.4 373.5h0M176.0 377.2h0M175.1 375.6h0M175.9 374.6h0M175.9 370.7h0M175.9 375.7h0M175.7 372.6h0M175.7 377.3h0M176.1 376.8h0M176.9 377.8h0M177.7 369.2h0M177.1 370.1h0M178.2 368.9h0M178.1 370.8h0M178.6 368.8h0M178.6 372.9h0M178.3 368.9h0M178.4 376.4h0M179.5 371.6h0M179.2 368.6h0M179.3 373.7h0M179.5 376.0h0M179.6 377.4h0M180.3 373.0h0M180.4 370.9h0M180.8 375.2h0M181.8 375.7h0M181.3 373.9h0M181.5 369.7h0M181.4 377.4h0M181.3 369.4h0M181.7 372.7h0M181.6 369.3h0M183.0 369.2h0M182.1 371.5h0M182.1 368.4h0M182.7 376.2h0M184.4 377.7h0M185.5 370.1h0M186.3 369.4h0M186.0 374.6h0M186.8 374.9h0M186.6 372.1h0M188.3 375.5h0M189.7 374.2h0M189.6 369.3h0M189.5 376.9h0M189.7 377.1h0M189.8 368.7h0M190.5 371.9h0M190.4 371.5h0M190.5 373.8h0M193.5 371.5h0M194.0 371.0h0M194.6 371.1h0M195.3 372.5h0M196.3 370.5h0M196.5 376.9h0M197.6 369.4h0M197.7 370.7h0M197.6 370.4h0M198.9 373.2h0M199.5 373.2h0M205.7 369.0h0M207.2 373.5h0M209.4 372.4h0M210.0 369.2h0M211.1 376.0h0M212.2 376.8h0M237.7 375.4h0M237.5 370.9h0M243.0 374.4h0M125.6 349.9h0M125.7 351.2h0M125.2 351.9h0M125.8 354.0h0M125.5 348.1h0M125.5 350.6h0M125.7 357.5h0M125.0 352.8h0M125.1 352.0h0M125.1 353.1h0M125.7 350.8h0M125.1 357.2h0M125.1 357.8h0M124.7 350.4h0M124.2 347.4h0M124.7 356.3h0M124.9 352.2h0M124.0 358.4h0M124.3 356.2h0M124.4 351.9h0M125.0 352.8h0M125.0 348.2h0M123.1 355.5h0M123.4 349.2h0M123.3 352.9h0M123.3 347.2h0M123.6 350.9h0M123.6 353.0h0M123.2 353.3h0M123.8 352.8h0M123.4 347.8h0M123.4 353.7h0M123.4 354.9h0M122.7 353.4h0M122.1 355.6h0M122.1 358.3h0M122.7 358.0h0M122.8 353.8h0M122.8 348.5h0M122.7 355.3h0M122.3 349.0h0M121.3 356.3h0M121.5 353.4h0M121.8 348.1h0M121.9 356.3h0M121.0 356.5h0M121.1 352.6h0M121.9 357.7h0M121.5 354.0h0M121.3 349.9h0M121.1 353.7h0M121.4 351.2h0M121.4 358.1h0M120.6 349.0h0M120.1 351.1h0M120.8 348.6h0M120.5 348.0h0M120.6 348.8h0M120.5 348.7h0M120.8 358.2h0M121.0 353.0h0M120.2 356.0h0M119.4 357.3h0M119.7 355.2h0M119.2 347.2h0M119.8 352.8h0M119.8 348.4h0M119.3 348.9h0M119.4 358.6h0M118.7 353.4h0M118.5 348.1h0M118.1 356.4h0M118.3 348.2h0M118.4 348.8h0M118.1 349.3h0M117.9 356.3h0M117.8 353.7h0M117.3 348.1h0M117.9 353.0h0M117.4 349.4h0M117.7 358.0h0M117.4 349.2h0M117.4 350.3h0M118.0 347.3h0M116.3 351.7h0M116.9 347.6h0M116.1 358.0h0M116.6 355.7h0M116.3 358.6h0M116.7 352.7h0M116.4 358.0h0M116.1 356.2h0M116.5 351.1h0M115.6 348.8h0M115.9 351.3h0M115.4 357.2h0M115.6 355.3h0M115.4 357.6h0M115.1 347.3h0M115.3 350.5h0M115.1 348.0h0M115.6 347.6h0M115.4 347.7h0M115.9 353.9h0M115.8 347.3h0M115.1 356.8h0M115.5 357.0h0M115.4 357.2h0M115.9 347.6h0M115.3 350.6h0M114.5 354.3h0M114.8 355.3h0M114.5 358.1h0M114.6 348.2h0M114.1 350.4h0M114.0 354.8h0M114.7 353.0h0M114.2 357.3h0M113.7 354.8h0M113.0 349.6h0M113.5 352.1h0M113.4 351.0h0M112.8 357.8h0M112.9 353.9h0M112.8 348.7h0M112.5 357.2h0M112.4 347.4h0M111.8 356.9h0M111.6 357.0h0M111.0 355.0h0M111.7 352.2h0M111.9 349.9h0M111.7 347.6h0M110.7 351.4h0M110.5 357.1h0M110.2 357.1h0M110.5 358.2h0M110.9 356.9h0M110.3 347.5h0M110.2 351.0h0M109.7 356.3h0M109.1 347.2h0M109.7 353.3h0M109.7 351.0h0M108.0 348.3h0M108.7 358.7h0M108.2 349.5h0M108.6 358.6h0M108.7 356.1h0M108.7 352.1h0M108.1 354.8h0M107.8 350.4h0M107.8 354.9h0M107.2 347.4h0M107.2 356.4h0M107.5 358.5h0M107.9 347.6h0M106.4 348.6h0M106.2 355.4h0M105.6 353.7h0M105.3 353.3h0M105.8 355.0h0M105.5 354.9h0M105.0 357.6h0M104.9 356.3h0M104.8 356.8h0M104.4 356.7h0M103.7 348.3h0M103.5 348.0h0M103.6 357.8h0M103.1 355.8h0M103.6 348.9h0M102.2 348.2h0M102.7 353.3h0M101.2 354.8h0M101.8 348.1h0M100.5 349.0h0M99.0 356.6h0M97.6 352.1h0M97.4 349.2h0M96.9 357.5h0M96.3 354.1h0M96.6 348.2h0M96.9 357.6h0M96.5 351.8h0M95.6 352.9h0M95.4 355.4h0M93.9 358.4h0M93.7 356.9h0M93.1 355.6h0M92.4 350.3h0M91.6 350.1h0M91.2 348.2h0M91.5 354.3h0M90.0 354.6h0M86.6 357.1h0M86.9 351.1h0M86.4 357.2h0M83.0 348.7h0M80.1 353.5h0M69.6 355.6h0M61.8 352.0h0M167.9 347.6h0M167.1 351.2h0M167.2 347.7h0M167.5 354.2h0M167.0 355.5h0M167.5 354.5h0M167.2 354.5h0M168.0 357.5h0M167.4 347.4h0M167.4 355.9h0M167.4 354.3h0M167.7 352.2h0M168.2 354.3h0M168.1 355.0h0M168.8 355.6h0M168.5 356.2h0M168.2 352.7h0M168.6 350.4h0M168.9 357.9h0M168.6 347.4h0M168.3 355.6h0M168.5 355.5h0M168.6 356.3h0M168.9 358.1h0M168.5 355.8h0M168.8 350.1h0M168.9 348.4h0M168.5 348.1h0M168.9 355.7h0M169.3 357.7h0M169.0 349.5h0M169.2 352.9h0M169.6 352.8h0M169.9 352.8h0M169.1 348.6h0M169.6 348.3h0M169.8 355.3h0M170.8 351.8h0M170.1 347.4h0M170.4 351.6h0M170.4 355.6h0M170.3 353.3h0M170.1 347.3h0M170.4 355.1h0M170.3 358.1h0M170.1 348.5h0M170.2 349.6h0M171.6 354.2h0M171.9 356.0h0M171.5 354.3h0M171.3 349.9h0M171.2 354.0h0M171.3 349.8h0M171.7 357.5h0M171.1 358.5h0M171.4 352.1h0M171.7 357.7h0M171.8 356.9h0M171.6 354.4h0M172.6 347.9h0M172.8 349.4h0M172.1 350.6h0M172.7 354.0h0M173.1 358.2h0M173.2 354.7h0M173.6 348.1h0M174.7 348.4h0M174.2 351.8h0M174.7 351.2h0M174.3 355.7h0M174.3 351.5h0M174.1 350.4h0M174.8 347.4h0M174.5 350.5h0M175.1 349.7h0M175.4 347.2h0M175.2 352.3h0M175.8 358.3h0M175.9 348.3h0M175.1 353.7h0M175.5 348.6h0M175.5 357.9h0M176.1 356.0h0M176.3 348.0h0M176.4 349.7h0M176.7 347.5h0M176.8 354.0h0M176.1 355.6h0M176.4 354.1h0M176.3 348.9h0M176.3 354.0h0M177.0 354.8h0M177.2 350.7h0M177.7 352.1h0M177.4 349.0h0M177.8 355.7h0M177.6 357.5h0M177.0 356.6h0M178.7 350.4h0M178.0 356.6h0M178.9 356.2h0M178.5 353.7h0M178.1 354.8h0M178.3 356.6h0M179.5 350.8h0M179.4 352.9h0M180.4 354.1h0M180.5 347.4h0M181.2 348.5h0M181.6 348.9h0M181.7 348.8h0M181.4 354.6h0M181.6 350.8h0M181.6 357.5h0M181.8 352.4h0M182.2 347.5h0M184.0 352.5h0M183.9 349.4h0M184.5 350.4h0M184.9 352.6h0M184.1 350.9h0M184.8 357.6h0M184.1 355.7h0M184.9 347.2h0M185.5 348.5h0M185.4 347.4h0M185.9 347.4h0M185.9 349.1h0M185.1 354.9h0M185.6 353.3h0M186.9 353.5h0M186.9 353.6h0M187.5 354.9h0M190.0 353.7h0M189.8 349.4h0M190.4 349.4h0M190.5 357.7h0M191.7 351.2h0M192.2 348.5h0M192.7 348.0h0M193.9 356.2h0M194.6 347.2h0M194.5 354.9h0M194.3 350.4h0M201.1 357.8h0M202.1 353.7h0M205.9 354.2h0M206.4 354.6h0M206.1 349.3h0M208.2 357.3h0M213.0 355.7h0M213.7 353.3h0M214.5 354.2h0M218.1 351.7h0M220.3 348.0h0M226.2 352.4h0M245.1 356.6h0M125.9 333.7h0M125.4 335.2h0M125.9 335.6h0M125.9 331.0h0M126.0 329.9h0M125.3 335.2h0M125.1 336.4h0M125.1 330.3h0M125.5 330.0h0M125.3 330.6h0M125.1 335.7h0M125.2 337.0h0M125.7 336.8h0M125.0 337.6h0M124.1 329.8h0M124.3 329.3h0M124.2 332.1h0M124.8 334.0h0M124.2 334.1h0M124.9 334.3h0M124.6 336.6h0M124.1 335.9h0M124.4 335.8h0M124.7 334.2h0M123.8 330.9h0M123.2 336.5h0M123.7 336.0h0M123.9 331.3h0M123.2 334.8h0M123.8 337.3h0M123.3 335.8h0M123.0 336.1h0M123.4 331.2h0M123.6 336.2h0M123.0 337.3h0M122.5 336.9h0M122.2 333.3h0M122.8 332.8h0M122.7 337.5h0M123.0 332.4h0M122.7 333.4h0M122.4 332.5h0M121.7 329.4h0M121.1 335.2h0M121.6 336.5h0M122.0 334.6h0M121.2 336.5h0M120.1 333.2h0M120.7 332.3h0M120.3 330.9h0M120.5 335.0h0M120.3 333.2h0M120.3 331.4h0M120.0 337.5h0M120.2 334.7h0M119.0 330.8h0M119.4 333.5h0M119.0 335.4h0M119.0 335.6h0M119.4 329.6h0M119.8 331.7h0M119.6 330.0h0M119.4 336.6h0M119.5 335.4h0M118.4 334.2h0M118.0 334.3h0M118.7 336.2h0M118.4 332.5h0M118.4 332.7h0M118.6 333.3h0M118.1 336.6h0M118.1 334.5h0M119.0 336.2h0M119.0 336.5h0M117.5 331.1h0M117.8 328.6h0M117.4 328.9h0M117.3 334.3h0M117.3 331.3h0M117.2 336.6h0M117.3 330.7h0M117.1 332.9h0M117.7 331.2h0M117.6 332.7h0M117.2 330.4h0M116.2 328.5h0M116.9 329.0h0M117.0 331.4h0M116.7 335.2h0M116.7 329.3h0M115.3 335.0h0M115.5 332.1h0M115.9 333.0h0M115.6 329.7h0M115.3 330.5h0M115.7 331.2h0M114.1 331.1h0M114.2 335.4h0M114.2 334.9h0M114.1 330.9h0M114.3 329.8h0M114.0 337.1h0M113.9 336.6h0M114.0 332.4h0M113.3 330.6h0M113.7 335.5h0M113.6 329.3h0M112.0 334.2h0M112.8 336.5h0M112.8 330.3h0M112.1 337.1h0M113.0 336.8h0M112.5 333.2h0M111.2 332.1h0M111.8 337.0h0M110.5 336.8h0M110.4 336.2h0M110.7 333.1h0M110.6 334.2h0M109.3 336.7h0M109.8 334.6h0M109.8 328.4h0M109.9 329.8h0M109.0 337.3h0M108.6 334.0h0M108.6 330.8h0M108.6 331.6h0M108.1 334.9h0M108.6 333.3h0M107.3 328.6h0M107.7 330.3h0M107.5 332.1h0M107.8 330.1h0M106.1 328.8h0M106.7 330.0h0M105.9 333.1h0M105.9 333.7h0M104.0 333.3h0M105.0 334.7h0M104.9 331.4h0M103.1 331.8h0M103.2 330.7h0M103.7 329.2h0M103.2 334.7h0M102.9 331.2h0M102.1 334.8h0M102.0 331.8h0M102.9 333.1h0M101.4 334.6h0M101.7 333.2h0M101.2 329.8h0M101.7 331.7h0M100.7 337.4h0M100.4 331.5h0M100.0 333.8h0M98.1 334.8h0M98.9 330.1h0M97.9 330.3h0M97.6 336.1h0M96.6 334.2h0M95.6 330.9h0M94.4 334.4h0M93.5 333.7h0M93.0 333.0h0M91.3 329.0h0M87.2 335.7h0M87.7 331.8h0M87.2 337.6h0M86.3 329.0h0M86.0 333.4h0M81.0 333.9h0M80.9 334.7h0M80.8 331.2h0M77.3 336.8h0M71.2 333.2h0M167.7 332.7h0M167.9 329.0h0M167.8 335.2h0M167.5 335.3h0M167.7 333.7h0M167.3 336.1h0M167.3 333.4h0M167.0 330.0h0M168.6 336.0h0M168.7 337.2h0M168.5 335.7h0M168.4 337.5h0M168.1 336.6h0M168.2 333.6h0M168.9 335.3h0M168.9 335.7h0M168.7 337.4h0M168.7 335.7h0M169.2 334.8h0M169.6 334.0h0M170.0 330.2h0M169.9 334.3h0M169.3 337.4h0M169.6 328.4h0M170.7 334.1h0M170.8 328.8h0M170.5 332.2h0M170.2 336.8h0M171.7 334.6h0M171.3 335.6h0M171.6 329.6h0M171.2 329.3h0M171.4 329.8h0M171.6 329.3h0M171.8 336.3h0M171.8 330.9h0M171.7 331.6h0M171.4 329.6h0M171.8 332.4h0M171.2 330.9h0M172.7 333.9h0M172.6 329.3h0M172.9 333.2h0M172.5 330.3h0M172.3 333.8h0M172.2 334.5h0M172.8 337.4h0M172.7 332.9h0M173.3 328.5h0M173.0 336.9h0M173.6 329.6h0M173.5 336.1h0M173.2 330.8h0M173.5 332.2h0M174.0 331.8h0M173.6 329.3h0M174.8 337.3h0M174.3 331.0h0M174.5 333.0h0M175.4 333.0h0M175.8 328.9h0M176.0 331.4h0M176.3 328.6h0M176.3 332.0h0M177.8 332.4h0M177.8 328.8h0M177.8 330.8h0M177.4 329.1h0M177.9 336.2h0M177.1 334.0h0M178.4 333.5h0M178.0 336.9h0M178.8 333.8h0M178.3 332.0h0M178.4 337.0h0M179.5 329.6h0M179.4 331.6h0M179.9 333.4h0M179.7 329.4h0M179.4 336.2h0M179.1 329.0h0M179.3 331.0h0M180.3 329.1h0M180.3 332.4h0M181.0 330.0h0M180.0 333.5h0M180.1 333.7h0M180.3 335.1h0M180.4 330.8h0M180.7 331.3h0M181.8 332.4h0M181.9 330.3h0M182.2 330.0h0M183.9 333.3h0M183.9 335.3h0M183.0 331.2h0M184.2 329.5h0M184.5 335.9h0M184.5 328.4h0M184.8 328.4h0M185.4 333.1h0M186.0 330.5h0M185.8 336.5h0M185.6 336.6h0M186.4 335.2h0M186.9 330.2h0M187.5 333.1h0M187.1 334.8h0M188.0 333.3h0M189.0 333.7h0M189.0 329.4h0M192.1 334.3h0M192.3 330.2h0M192.1 336.7h0M194.0 337.3h0M193.5 332.1h0M195.0 336.9h0M194.3 337.4h0M195.8 330.0h0M195.2 330.7h0M195.3 331.4h0M196.8 329.8h0M196.8 330.6h0M197.9 329.0h0M197.8 333.5h0M197.4 332.1h0M199.4 330.2h0M200.2 330.4h0M203.7 331.8h0M206.6 329.1h0M207.8 330.4h0M208.7 336.6h0M211.7 334.1h0M216.3 329.9h0M218.0 335.5h0M233.4 334.9h0M235.9 330.7h0M237.6 336.2h0M125.4 315.0h0M125.2 314.6h0M125.7 317.4h0M125.3 313.3h0M125.8 315.2h0M125.6 313.6h0M125.5 317.2h0M125.4 312.2h0M125.2 313.8h0M124.1 314.0h0M124.9 316.5h0M124.2 311.4h0M123.0 313.7h0M123.5 314.5h0M123.9 317.3h0M123.7 316.9h0M123.4 314.2h0M123.7 317.3h0M122.2 312.6h0M123.0 315.2h0M122.8 315.4h0M122.1 317.9h0M122.2 314.7h0M122.1 313.1h0M122.4 312.7h0M122.1 315.8h0M122.1 311.7h0M122.5 311.4h0M122.0 316.8h0M121.8 316.7h0M121.6 313.6h0M121.8 313.7h0M121.5 312.6h0M120.8 311.7h0M120.2 317.9h0M120.3 314.5h0M120.9 318.1h0M120.2 311.4h0M120.9 317.6h0M120.7 313.8h0M120.9 311.5h0M119.2 315.3h0M119.3 313.0h0M119.5 314.2h0M119.6 312.9h0M119.2 311.9h0M119.5 313.5h0M119.9 315.7h0M118.4 312.7h0M118.4 315.4h0M119.0 316.6h0M118.3 311.6h0M118.7 317.7h0M118.6 315.8h0M117.2 314.2h0M117.3 315.4h0M116.7 311.4h0M116.5 313.6h0M116.0 315.2h0M115.8 315.4h0M115.4 311.2h0M114.9 311.9h0M114.3 312.7h0M114.5 314.8h0M114.1 312.6h0M114.1 315.9h0M114.0 315.8h0M114.9 317.9h0M113.1 315.2h0M113.0 316.1h0M113.9 315.1h0M112.1 313.6h0M112.6 312.4h0M112.7 312.9h0M112.1 313.9h0M111.5 311.1h0M111.9 312.5h0M111.2 316.2h0M110.2 313.9h0M111.0 314.4h0M110.5 315.3h0M109.1 317.8h0M108.9 317.1h0M108.7 312.9h0M108.5 315.9h0M108.3 317.7h0M108.3 315.2h0M107.5 317.7h0M107.3 314.6h0M107.4 311.5h0M107.0 312.8h0M107.0 314.9h0M106.6 311.1h0M105.3 313.9h0M105.5 316.1h0M104.5 315.0h0M104.6 314.9h0M103.9 314.0h0M103.4 315.5h0M101.8 315.6h0M102.0 312.1h0M101.0 314.5h0M100.5 317.2h0M100.1 316.9h0M100.4 315.9h0M100.6 317.6h0M99.5 312.0h0M96.7 313.7h0M95.2 314.4h0M95.3 314.6h0M93.3 317.3h0M91.5 312.3h0M91.6 311.7h0M90.9 314.5h0M90.3 313.2h0M89.5 317.9h0M89.8 314.3h0M86.4 317.8h0M84.0 316.5h0M81.4 312.6h0M78.1 312.6h0M77.1 316.4h0M74.6 312.5h0M167.8 313.7h0M167.9 313.6h0M167.4 316.3h0M167.2 315.5h0M168.0 316.6h0M168.8 317.3h0M168.3 311.1h0M168.0 315.0h0M168.2 315.2h0M169.0 316.4h0M168.9 316.9h0M168.2 311.6h0M169.0 318.1h0M168.4 315.3h0M168.9 313.3h0M169.4 315.3h0M169.1 316.4h0M169.5 313.7h0M169.3 315.8h0M169.2 315.7h0M169.5 311.4h0M169.3 311.4h0M170.4 316.4h0M170.0 312.8h0M170.2 313.0h0M170.1 313.6h0M171.5 312.4h0M171.5 314.7h0M172.2 315.1h0M172.1 314.3h0M173.0 311.8h0M173.6 314.4h0M173.9 317.3h0M173.2 311.7h0M173.1 316.8h0M174.4 315.6h0M175.0 313.3h0M175.2 312.6h0M175.6 313.4h0M175.7 315.2h0M175.6 315.9h0M176.5 314.4h0M176.8 315.6h0M176.1 314.7h0M177.6 314.7h0M177.7 318.0h0M177.2 318.3h0M177.0 311.1h0M177.5 312.3h0M177.3 314.8h0M177.5 313.0h0M178.1 317.7h0M178.3 315.7h0M178.2 313.9h0M178.7 314.4h0M178.1 313.7h0M178.4 318.0h0M179.9 316.2h0M179.0 314.6h0M180.2 316.6h0M180.6 317.2h0M180.6 313.5h0M180.8 315.0h0M180.5 313.4h0M181.7 316.3h0M182.1 315.4h0M182.6 314.9h0M183.5 311.1h0M183.9 316.9h0M183.6 316.3h0M184.6 315.8h0M184.1 316.9h0M184.1 312.1h0M185.1 314.2h0M185.7 311.4h0M185.6 314.6h0M186.1 311.7h0M186.1 314.0h0M187.8 318.2h0M187.9 314.6h0M187.3 317.4h0M188.1 313.0h0M190.3 316.5h0M190.2 312.7h0M191.0 317.6h0M191.9 314.4h0M192.5 312.2h0M194.0 316.3h0M194.5 313.6h0M194.7 317.9h0M196.7 311.2h0M197.4 313.4h0M198.2 315.2h0M201.3 314.9h0M203.7 313.9h0M203.3 315.8h0M207.0 315.7h0M210.0 314.8h0M214.5 315.0h0M215.5 312.5h0M217.5 315.4h0M228.9 314.6h0M125.3 304.2h0M125.6 299.1h0M125.8 304.6h0M125.1 300.3h0M125.8 303.4h0M125.6 300.3h0M125.1 299.3h0M125.4 305.0h0M125.9 302.5h0M125.9 302.6h0M125.9 302.2h0M125.4 303.7h0M125.6 299.2h0M125.1 302.8h0M124.7 300.9h0M124.7 303.2h0M124.4 298.3h0M124.6 298.3h0M124.3 300.1h0M124.1 302.9h0M124.3 303.8h0M124.4 303.5h0M124.2 298.8h0M123.6 304.3h0M123.8 304.3h0M123.0 298.8h0M123.1 300.2h0M123.9 301.6h0M123.0 302.5h0M123.7 302.4h0M123.3 299.5h0M123.1 301.6h0M123.9 302.9h0M122.4 299.4h0M123.0 303.6h0M122.9 299.6h0M122.6 301.3h0M121.4 302.6h0M121.8 300.1h0M121.1 303.4h0M120.8 303.2h0M120.4 303.2h0M120.9 300.7h0M119.4 300.1h0M119.3 300.6h0M120.0 298.6h0M120.0 303.0h0M119.2 302.2h0M118.2 304.1h0M118.6 304.1h0M118.7 302.4h0M118.3 303.2h0M118.3 303.2h0M117.2 302.0h0M117.4 304.4h0M117.6 302.0h0M117.5 300.5h0M117.5 302.4h0M117.9 302.3h0M116.6 299.9h0M116.9 303.0h0M116.9 304.1h0M116.5 301.4h0M116.1 300.5h0M116.1 303.3h0M115.1 304.9h0M115.7 300.7h0M115.3 305.0h0M115.5 301.4h0M115.5 299.1h0M115.1 302.8h0M115.3 304.1h0M114.4 301.9h0M114.7 298.9h0M114.4 299.1h0M113.8 304.9h0M113.2 299.0h0M113.8 300.9h0M113.6 299.2h0M113.1 303.2h0M113.7 301.0h0M112.1 302.1h0M112.9 304.6h0M111.3 303.5h0M110.4 305.2h0M110.3 301.0h0M110.4 301.9h0M109.3 302.3h0M109.8 302.2h0M109.5 301.9h0M109.2 303.2h0M109.1 299.5h0M109.1 304.3h0M110.0 301.3h0M108.2 305.2h0M108.4 301.8h0M108.5 301.0h0M107.0 305.1h0M107.7 303.5h0M107.5 303.7h0M107.8 304.1h0M106.5 303.4h0M106.8 301.3h0M106.5 299.7h0M105.8 303.9h0M106.0 299.4h0M105.2 302.9h0M104.1 303.3h0M104.6 303.9h0M104.8 304.0h0M104.3 299.3h0M104.0 298.9h0M103.3 301.8h0M103.5 300.5h0M103.3 305.2h0M103.5 303.7h0M102.2 300.7h0M103.0 303.7h0M101.9 300.1h0M101.4 300.5h0M101.6 303.2h0M100.2 298.5h0M100.5 301.9h0M99.2 302.0h0M99.1 302.2h0M99.9 304.9h0M96.4 298.9h0M95.4 300.7h0M95.9 299.1h0M93.5 303.0h0M90.8 304.7h0M90.9 302.9h0M87.2 304.7h0M86.7 298.9h0M86.7 301.6h0M86.6 304.6h0M85.1 298.8h0M86.0 304.5h0M83.5 301.0h0M82.8 301.1h0M82.7 304.1h0M77.3 300.5h0M76.6 298.6h0M167.4 301.7h0M167.5 301.9h0M168.0 304.2h0M167.4 298.7h0M167.2 304.0h0M167.7 302.0h0M167.7 299.7h0M167.5 301.6h0M168.3 304.8h0M168.1 299.3h0M168.4 299.6h0M168.7 305.1h0M168.7 302.1h0M168.5 301.0h0M168.5 303.3h0M168.3 299.8h0M168.2 298.5h0M168.6 303.1h0M169.8 304.7h0M169.3 302.4h0M169.4 302.0h0M169.3 302.0h0M170.3 302.8h0M170.4 304.8h0M170.4 299.3h0M170.4 300.5h0M170.8 303.5h0M171.9 304.9h0M171.4 298.7h0M171.2 304.1h0M171.4 303.4h0M171.7 300.3h0M172.5 303.1h0M172.5 300.2h0M172.9 298.5h0M173.0 305.0h0M173.5 301.8h0M173.0 304.4h0M174.8 304.2h0M174.9 303.3h0M174.2 301.8h0M174.1 298.5h0M174.6 302.7h0M174.9 298.8h0M174.8 301.8h0M175.3 303.1h0M175.1 305.3h0M175.5 302.1h0M175.1 303.6h0M175.6 301.1h0M176.9 304.0h0M177.0 304.0h0M176.6 299.8h0M176.8 303.8h0M177.1 299.8h0M177.1 298.5h0M177.4 298.5h0M177.7 298.7h0M178.0 303.7h0M178.3 299.0h0M178.3 300.0h0M178.6 300.8h0M178.3 301.2h0M179.0 303.3h0M179.6 299.3h0M179.9 303.7h0M179.2 303.6h0M179.1 301.9h0M180.7 301.1h0M180.9 298.5h0M181.9 299.3h0M181.5 301.9h0M181.5 300.1h0M182.9 303.0h0M182.1 303.7h0M183.2 299.3h0M183.7 303.4h0M183.9 298.4h0M183.7 301.5h0M185.9 302.4h0M185.7 301.0h0M186.7 302.7h0M186.4 300.0h0M187.8 299.3h0M188.9 301.1h0M188.6 302.6h0M189.4 299.7h0M189.2 301.5h0M189.4 298.9h0M189.4 302.8h0M189.6 304.2h0M189.6 301.0h0M190.9 303.7h0M190.5 300.9h0M190.2 303.2h0M191.9 299.9h0M191.7 299.7h0M192.3 300.4h0M193.0 301.6h0M195.3 303.2h0M195.8 299.4h0M196.4 301.0h0M197.5 301.5h0M198.9 301.4h0M199.4 299.5h0M201.3 299.1h0M207.9 299.0h0M208.4 300.7h0M208.9 302.4h0M214.8 303.2h0M217.6 298.7h0M238.7 303.0h0M125.3 288.4h0M125.3 285.3h0M125.7 285.9h0M125.7 291.4h0M125.2 286.5h0M125.7 286.6h0M125.1 284.8h0M125.3 292.1h0M124.1 290.9h0M124.1 287.1h0M124.5 284.9h0M124.9 292.4h0M124.7 290.4h0M124.2 286.7h0M124.2 290.2h0M123.8 287.8h0M123.3 291.7h0M123.7 289.4h0M123.5 291.6h0M123.8 289.5h0M123.4 290.9h0M123.2 290.8h0M122.2 287.0h0M122.4 290.0h0M122.2 289.1h0M122.9 286.9h0M121.8 288.7h0M121.0 286.1h0M121.7 290.6h0M121.5 292.2h0M121.7 290.1h0M121.1 288.0h0M121.2 286.7h0M121.9 288.1h0M121.3 290.9h0M120.2 292.2h0M120.8 289.3h0M121.0 288.6h0M120.7 289.6h0M120.6 285.9h0M120.7 291.4h0M120.7 291.6h0M120.7 291.8h0M120.9 287.6h0M119.4 290.2h0M119.9 291.4h0M119.1 289.8h0M118.6 289.4h0M118.4 285.0h0M118.6 289.2h0M118.0 290.6h0M117.1 290.3h0M117.6 291.5h0M117.6 288.3h0M117.3 284.6h0M117.9 288.4h0M117.7 290.7h0M117.1 284.9h0M117.3 291.4h0M117.7 288.3h0M117.4 292.2h0M116.7 287.3h0M116.7 290.6h0M116.3 291.4h0M116.8 285.7h0M115.0 289.4h0M115.3 290.3h0M115.6 285.5h0M115.9 285.1h0M115.5 292.0h0M116.0 288.9h0M114.3 286.9h0M114.5 288.0h0M114.3 289.1h0M114.8 285.8h0M114.4 289.0h0M113.1 288.5h0M113.6 288.6h0M113.6 289.4h0M113.6 286.6h0M113.8 287.2h0M113.2 288.3h0M113.9 289.9h0M112.2 286.5h0M112.6 291.8h0M112.9 287.2h0M112.0 286.1h0M111.5 285.5h0M111.7 288.7h0M111.8 290.7h0M111.1 286.0h0M110.8 285.2h0M110.1 286.9h0M110.3 287.3h0M110.9 289.5h0M110.5 284.7h0M109.2 290.2h0M109.7 287.2h0M109.2 286.5h0M109.0 285.7h0M108.3 291.2h0M108.7 286.1h0M108.8 286.1h0M108.3 288.5h0M107.4 285.3h0M106.2 291.3h0M105.2 286.5h0M105.2 286.1h0M105.6 286.7h0M105.8 289.1h0M104.2 285.3h0M103.9 287.1h0M103.0 290.3h0M103.3 290.5h0M103.8 291.0h0M103.5 287.7h0M102.5 288.8h0M102.5 290.9h0M102.4 286.2h0M102.5 292.4h0M100.5 291.7h0M100.1 288.1h0M99.4 286.3h0M99.1 286.8h0M98.5 292.0h0M98.4 288.7h0M98.1 288.2h0M97.0 291.1h0M97.7 286.0h0M97.2 285.5h0M96.5 290.1h0M94.2 290.2h0M92.9 290.0h0M91.8 289.1h0M90.9 289.5h0M85.1 286.9h0M83.9 288.6h0M81.1 290.2h0M79.6 292.3h0M70.5 289.7h0M66.8 290.9h0M52.8 288.0h0M167.6 286.7h0M167.2 286.9h0M167.0 290.0h0M167.9 286.0h0M167.9 289.4h0M167.7 285.4h0M167.5 285.6h0M167.7 288.8h0M167.5 286.7h0M167.5 290.1h0M167.9 291.9h0M168.8 287.4h0M168.4 290.7h0M168.7 286.4h0M168.6 289.2h0M168.4 291.9h0M168.3 289.6h0M169.8 288.4h0M169.0 291.2h0M170.0 291.6h0M169.5 284.9h0M169.5 288.7h0M169.6 289.8h0M170.0 288.9h0M169.7 289.1h0M169.9 286.0h0M169.8 285.9h0M170.8 285.3h0M170.4 287.9h0M170.1 286.4h0M170.7 288.9h0M170.4 288.0h0M170.6 290.8h0M170.3 285.5h0M170.8 285.5h0M170.4 285.6h0M171.7 286.2h0M171.3 288.2h0M171.5 288.1h0M171.9 286.8h0M171.4 285.7h0M171.2 289.5h0M172.6 292.1h0M172.6 287.8h0M172.9 287.2h0M173.1 288.5h0M173.4 290.8h0M173.2 285.0h0M173.9 285.6h0M173.9 289.0h0M173.5 285.9h0M174.8 289.3h0M174.8 288.3h0M175.4 284.8h0M175.6 286.1h0M175.1 290.0h0M175.6 288.7h0M175.2 291.4h0M175.0 285.4h0M176.2 287.2h0M176.3 285.4h0M176.7 285.4h0M176.4 285.5h0M176.8 287.2h0M177.4 286.8h0M177.5 285.7h0M177.3 289.2h0M178.6 287.9h0M178.5 287.1h0M178.9 288.2h0M179.4 290.2h0M179.4 285.7h0M179.4 290.2h0M180.7 286.8h0M180.3 291.3h0M181.0 291.3h0M181.3 289.0h0M181.2 291.6h0M181.4 288.5h0M182.9 288.2h0M182.0 288.1h0M183.0 287.7h0M183.2 286.8h0M183.9 287.1h0M183.8 291.5h0M183.7 288.4h0M183.8 291.9h0M184.4 290.6h0M184.5 288.5h0M184.3 290.9h0M185.3 287.8h0M186.2 287.1h0M186.8 285.3h0M186.9 285.3h0M186.2 287.3h0M187.2 289.8h0M187.0 285.7h0M188.9 285.1h0M188.8 285.1h0M188.9 289.1h0M189.2 289.8h0M189.8 292.4h0M189.2 285.1h0M190.4 285.6h0M190.7 292.2h0M191.5 285.5h0M191.5 291.2h0M193.0 290.1h0M192.5 289.8h0M194.2 288.5h0M194.2 290.8h0M198.4 291.7h0M202.1 285.1h0M203.8 286.7h0M205.0 287.2h0M205.0 285.4h0M217.7 292.0h0M218.6 289.2h0M223.1 289.6h0M228.2 287.7h0M125.0 272.8h0M125.1 273.5h0M125.3 272.6h0M125.5 272.5h0M125.3 268.8h0M124.7 268.7h0M124.3 268.7h0M124.8 272.5h0M124.1 270.7h0M124.3 269.0h0M124.7 272.3h0M124.4 273.5h0M123.6 268.6h0M123.1 268.3h0M123.3 270.0h0M123.8 270.7h0M123.7 272.2h0M123.8 271.1h0M122.5 273.5h0M122.9 273.2h0M122.5 271.9h0M122.2 271.4h0M122.4 272.3h0M122.1 271.9h0M122.3 268.4h0M122.8 273.4h0M122.8 270.7h0M122.1 273.8h0M123.0 272.7h0M121.7 269.8h0M121.8 271.6h0M122.0 268.5h0M121.9 271.5h0M121.6 272.8h0M121.0 270.0h0M120.8 268.8h0M120.1 269.0h0M120.9 270.5h0M120.5 273.3h0M120.8 271.9h0M120.2 273.3h0M120.0 268.9h0M119.4 271.5h0M118.5 268.6h0M118.7 273.8h0M118.8 271.9h0M118.5 271.7h0M118.1 270.1h0M118.6 272.9h0M118.2 273.0h0M118.9 272.8h0M118.8 269.7h0M117.8 273.2h0M117.1 270.0h0M117.1 270.2h0M117.7 270.6h0M116.1 270.9h0M116.4 268.5h0M116.8 272.6h0M116.5 271.2h0M116.8 273.7h0M115.4 273.5h0M115.8 272.5h0M115.5 271.6h0M115.4 273.5h0M114.8 270.3h0M114.4 268.5h0M114.3 273.8h0M114.7 272.4h0M114.7 268.6h0M114.8 268.6h0M114.6 271.9h0M114.2 270.5h0M115.0 271.0h0M113.1 268.5h0M113.4 272.6h0M113.4 268.3h0M113.6 272.3h0M113.2 271.9h0M113.2 270.0h0M112.8 273.6h0M112.5 268.8h0M112.4 271.7h0M112.9 271.8h0M112.3 272.0h0M112.7 273.4h0M112.5 271.5h0M111.5 268.5h0M111.5 272.8h0M111.0 272.7h0M111.6 272.5h0M111.4 269.4h0M110.1 269.7h0M110.7 269.8h0M110.8 269.1h0M109.9 270.0h0M109.7 271.5h0M108.5 271.3h0M108.5 273.7h0M108.4 271.4h0M108.6 269.0h0M108.5 272.8h0M107.2 273.7h0M107.3 272.1h0M108.0 268.8h0M107.6 273.1h0M107.6 269.2h0M107.1 269.0h0M107.5 271.9h0M105.8 272.5h0M105.3 273.3h0M105.6 269.2h0M104.9 272.1h0M103.9 269.4h0M103.9 270.6h0M102.4 270.9h0M102.8 271.3h0M101.4 268.7h0M100.1 268.9h0M100.6 271.3h0M99.4 270.6h0M100.0 271.3h0M99.2 273.2h0M99.0 271.4h0M97.9 270.2h0M97.2 272.3h0M94.9 268.3h0M94.2 271.6h0M93.4 272.6h0M93.1 270.0h0M93.4 271.3h0M92.3 272.1h0M91.6 270.3h0M89.8 269.6h0M88.0 272.4h0M86.5 268.8h0M84.7 269.0h0M82.2 268.8h0M77.7 273.6h0M56.1 269.2h0M167.7 271.8h0M167.0 268.3h0M167.2 269.3h0M167.8 268.9h0M167.8 273.7h0M167.1 270.3h0M167.8 270.2h0M167.8 268.9h0M168.0 272.1h0M168.1 273.2h0M168.3 269.5h0M168.1 270.4h0M169.7 272.7h0M170.5 270.2h0M170.7 270.4h0M170.0 268.8h0M171.9 271.8h0M171.0 271.3h0M171.5 269.2h0M171.8 271.0h0M172.2 270.5h0M172.8 272.8h0M172.8 271.1h0M172.7 268.5h0M172.1 270.8h0M172.6 269.0h0M173.5 268.5h0M173.0 269.2h0M173.3 269.2h0M174.9 269.0h0M174.5 273.7h0M174.4 272.0h0M174.3 272.6h0M174.5 273.8h0M174.5 272.2h0M175.3 273.0h0M176.0 271.6h0M176.0 272.9h0M175.1 268.6h0M176.1 268.8h0M176.8 272.3h0M176.8 270.3h0M176.8 272.1h0M176.6 270.3h0M176.8 273.4h0M177.1 272.8h0M177.1 272.0h0M177.6 272.0h0M178.1 271.7h0M180.6 273.2h0M180.1 270.7h0M180.6 273.3h0M180.8 269.6h0M182.3 269.5h0M182.9 273.2h0M182.9 271.7h0M182.2 269.3h0M182.0 272.8h0M182.9 269.0h0M183.6 273.5h0M184.2 271.9h0M185.5 270.5h0M185.4 268.9h0M187.0 270.6h0M186.0 269.5h0M189.0 269.2h0M188.0 273.8h0M189.5 273.0h0M193.4 272.2h0M193.7 269.3h0M194.1 270.1h0M198.8 269.8h0M199.8 270.2h0M200.1 268.4h0M202.3 273.0h0M204.0 272.0h0M206.1 268.9h0M206.2 269.5h0M207.6 272.5h0M211.7 269.3h0M211.7 270.7h0M211.3 268.3h0M213.6 272.6h0M215.5 268.3h0M217.1 271.6h0M125.2 260.6h0M125.3 260.3h0M125.5 259.7h0M125.2 258.8h0M125.3 256.6h0M125.0 260.1h0M125.6 259.4h0M125.8 260.3h0M124.4 261.2h0M124.3 261.9h0M124.4 258.6h0M124.2 259.0h0M124.5 258.0h0M124.9 258.2h0M124.6 256.8h0M124.6 261.0h0M124.3 261.6h0M124.8 256.5h0M124.8 257.7h0M124.8 257.4h0M123.9 259.5h0M123.7 257.7h0M123.5 258.0h0M123.6 258.3h0M122.4 258.8h0M122.7 257.3h0M122.7 258.6h0M122.8 258.2h0M122.0 259.6h0M122.0 259.5h0M121.1 256.3h0M121.2 260.8h0M120.4 260.2h0M120.7 260.2h0M120.8 257.8h0M120.3 260.4h0M119.5 261.8h0M120.0 261.5h0M119.1 257.1h0M119.8 257.9h0M119.3 257.1h0M119.3 257.5h0M119.2 257.4h0M118.5 258.7h0M118.6 256.6h0M117.6 258.4h0M117.8 258.1h0M117.6 260.2h0M118.0 260.0h0M117.7 259.5h0M116.3 256.8h0M116.2 259.7h0M116.3 260.2h0M116.8 259.6h0M115.3 257.9h0M115.2 257.6h0M115.7 257.2h0M115.3 259.8h0M115.8 256.8h0M115.6 257.1h0M115.0 259.2h0M114.2 259.5h0M113.3 260.3h0M113.1 260.9h0M112.7 259.8h0M112.9 259.0h0M112.9 257.9h0M112.7 259.7h0M110.6 261.1h0M109.2 257.4h0M109.8 261.4h0M109.4 257.6h0M109.6 259.2h0M108.0 260.7h0M108.8 261.0h0M108.4 259.7h0M106.8 260.6h0M105.3 257.0h0M105.5 260.6h0M105.8 261.4h0M103.3 260.0h0M103.1 260.6h0M101.6 260.4h0M100.7 256.5h0M100.9 257.1h0M100.5 261.9h0M99.7 261.2h0M99.8 258.7h0M99.3 257.8h0M99.6 259.9h0M98.4 257.5h0M97.7 259.5h0M97.2 258.7h0M96.6 259.1h0M96.6 259.2h0M95.8 256.7h0M95.9 257.6h0M93.7 256.5h0M91.4 257.3h0M91.5 261.0h0M85.6 259.4h0M85.0 260.5h0M83.9 256.6h0M81.3 261.3h0M72.3 257.1h0M167.1 261.8h0M167.3 258.7h0M167.0 259.5h0M167.1 259.3h0M167.2 258.6h0M167.3 259.6h0M168.4 256.8h0M168.3 258.4h0M168.0 256.4h0M168.5 256.7h0M168.5 257.7h0M168.0 256.7h0M168.7 260.3h0M168.2 260.7h0M169.9 260.0h0M170.6 261.1h0M170.9 257.1h0M170.7 257.6h0M170.2 260.3h0M170.2 259.9h0M170.1 257.3h0M170.7 259.0h0M171.7 256.6h0M171.1 257.1h0M171.4 261.7h0M171.6 259.0h0M171.3 261.7h0M171.9 260.1h0M173.5 259.3h0M173.1 258.0h0M173.5 260.1h0M175.5 259.0h0M175.2 259.1h0M175.4 260.5h0M175.3 261.8h0M176.4 257.4h0M176.2 259.8h0M176.1 260.7h0M176.3 260.3h0M177.0 259.2h0M176.9 261.0h0M177.9 259.6h0M177.7 259.9h0M177.7 259.0h0M177.3 256.9h0M177.4 259.3h0M178.3 261.6h0M179.5 261.2h0M179.6 259.3h0M180.0 259.0h0M180.6 259.7h0M180.4 257.7h0M180.3 258.0h0M180.6 259.0h0M180.5 260.1h0M182.7 261.2h0M183.0 261.4h0M182.3 260.8h0M185.0 260.7h0M184.2 257.0h0M184.9 260.0h0M185.1 261.5h0M186.0 260.5h0M186.0 257.6h0M186.4 261.5h0M187.9 257.7h0M188.4 258.3h0M188.9 258.5h0M188.2 257.6h0M189.4 257.4h0M191.0 260.9h0M191.5 259.5h0M191.3 261.0h0M192.8 261.2h0M192.7 258.2h0M193.2 259.5h0M197.7 261.0h0M197.1 259.7h0M197.6 259.4h0M203.0 261.0h0M205.3 257.7h0M206.2 259.9h0M206.6 260.6h0M207.2 259.6h0M212.1 257.9h0M212.3 257.7h0M216.6 259.0h0M240.9 258.7h0M260.0 257.5h0" stroke="#0e0ed6" stroke-width="1.75" stroke-linecap="square" fill="none"/>
<line x1="125.6" y1="250.40" x2="125.6" y2="524.00" stroke="#e8e8e8" stroke-width="0.7"/>
<line x1="148.4" y1="250.40" x2="148.4" y2="524.00" stroke="#fff" stroke-width="1.2"/>
<line x1="166.9" y1="250.40" x2="166.9" y2="524.00" stroke="#e8e8e8" stroke-width="0.7"/>
<rect x="24.60" y="250.70" width="247.60" height="273.00" fill="none" stroke="#c4c4c4" stroke-width="1.0"/>
<text x="22.40" y="519.60" font-size="5.70" text-anchor="end" font-weight="normal" fill="#333" stroke="#333" stroke-width="0.22">1</text>
<line x1="22.6" y1="517.60" x2="24.3" y2="517.60" stroke="#333" stroke-width="0.5"/>
<text x="22.40" y="506.10" font-size="5.70" text-anchor="end" font-weight="normal" fill="#333" stroke="#333" stroke-width="0.22">2</text>
<line x1="22.6" y1="504.10" x2="24.3" y2="504.10" stroke="#333" stroke-width="0.5"/>
<text x="22.40" y="493.80" font-size="5.70" text-anchor="end" font-weight="normal" fill="#333" stroke="#333" stroke-width="0.22">3</text>
<line x1="22.6" y1="491.80" x2="24.3" y2="491.80" stroke="#333" stroke-width="0.5"/>
<text x="22.40" y="482.80" font-size="5.70" text-anchor="end" font-weight="normal" fill="#333" stroke="#333" stroke-width="0.22">4</text>
<line x1="22.6" y1="480.80" x2="24.3" y2="480.80" stroke="#333" stroke-width="0.5"/>
<text x="22.40" y="469.30" font-size="5.70" text-anchor="end" font-weight="normal" fill="#333" stroke="#333" stroke-width="0.22">5</text>
<line x1="22.6" y1="467.30" x2="24.3" y2="467.30" stroke="#333" stroke-width="0.5"/>
<text x="22.40" y="456.20" font-size="5.70" text-anchor="end" font-weight="normal" fill="#333" stroke="#333" stroke-width="0.22">6</text>
<line x1="22.6" y1="454.20" x2="24.3" y2="454.20" stroke="#333" stroke-width="0.5"/>
<text x="22.40" y="444.60" font-size="5.70" text-anchor="end" font-weight="normal" fill="#333" stroke="#333" stroke-width="0.22">7</text>
<line x1="22.6" y1="442.60" x2="24.3" y2="442.60" stroke="#333" stroke-width="0.5"/>
<text x="22.40" y="433.80" font-size="5.70" text-anchor="end" font-weight="normal" fill="#333" stroke="#333" stroke-width="0.22">8</text>
<line x1="22.6" y1="431.80" x2="24.3" y2="431.80" stroke="#333" stroke-width="0.5"/>
<text x="22.40" y="423.30" font-size="5.70" text-anchor="end" font-weight="normal" fill="#333" stroke="#333" stroke-width="0.22">9</text>
<line x1="22.6" y1="421.30" x2="24.3" y2="421.30" stroke="#333" stroke-width="0.5"/>
<text x="22.40" y="414.00" font-size="5.70" text-anchor="end" font-weight="normal" fill="#333" stroke="#333" stroke-width="0.22">10</text>
<line x1="22.6" y1="412.00" x2="24.3" y2="412.00" stroke="#333" stroke-width="0.5"/>
<text x="22.40" y="403.80" font-size="5.70" text-anchor="end" font-weight="normal" fill="#333" stroke="#333" stroke-width="0.22">11</text>
<line x1="22.6" y1="401.80" x2="24.3" y2="401.80" stroke="#333" stroke-width="0.5"/>
<text x="22.40" y="392.00" font-size="5.70" text-anchor="end" font-weight="normal" fill="#333" stroke="#333" stroke-width="0.22">12</text>
<line x1="22.6" y1="390.00" x2="24.3" y2="390.00" stroke="#333" stroke-width="0.5"/>
<text x="22.40" y="382.80" font-size="5.70" text-anchor="end" font-weight="normal" fill="#333" stroke="#333" stroke-width="0.22">13</text>
<line x1="22.6" y1="380.80" x2="24.3" y2="380.80" stroke="#333" stroke-width="0.5"/>
<text x="22.40" y="374.50" font-size="5.70" text-anchor="end" font-weight="normal" fill="#333" stroke="#333" stroke-width="0.22">14</text>
<line x1="22.6" y1="372.50" x2="24.3" y2="372.50" stroke="#333" stroke-width="0.5"/>
<text x="22.40" y="365.20" font-size="5.70" text-anchor="end" font-weight="normal" fill="#333" stroke="#333" stroke-width="0.22">15</text>
<line x1="22.6" y1="363.20" x2="24.3" y2="363.20" stroke="#333" stroke-width="0.5"/>
<text x="22.40" y="355.00" font-size="5.70" text-anchor="end" font-weight="normal" fill="#333" stroke="#333" stroke-width="0.22">16</text>
<line x1="22.6" y1="353.00" x2="24.3" y2="353.00" stroke="#333" stroke-width="0.5"/>
<text x="22.40" y="344.00" font-size="5.70" text-anchor="end" font-weight="normal" fill="#333" stroke="#333" stroke-width="0.22">17</text>
<line x1="22.6" y1="342.00" x2="24.3" y2="342.00" stroke="#333" stroke-width="0.5"/>
<text x="22.40" y="334.50" font-size="5.70" text-anchor="end" font-weight="normal" fill="#333" stroke="#333" stroke-width="0.22">18</text>
<line x1="22.6" y1="332.50" x2="24.3" y2="332.50" stroke="#333" stroke-width="0.5"/>
<text x="22.40" y="325.80" font-size="5.70" text-anchor="end" font-weight="normal" fill="#333" stroke="#333" stroke-width="0.22">19</text>
<line x1="22.6" y1="323.80" x2="24.3" y2="323.80" stroke="#333" stroke-width="0.5"/>
<text x="22.40" y="317.00" font-size="5.70" text-anchor="end" font-weight="normal" fill="#333" stroke="#333" stroke-width="0.22">20</text>
<line x1="22.6" y1="315.00" x2="24.3" y2="315.00" stroke="#333" stroke-width="0.5"/>
<text x="22.40" y="310.50" font-size="5.70" text-anchor="end" font-weight="normal" fill="#333" stroke="#333" stroke-width="0.22">21</text>
<line x1="22.6" y1="308.50" x2="24.3" y2="308.50" stroke="#333" stroke-width="0.5"/>
<text x="22.40" y="304.00" font-size="5.70" text-anchor="end" font-weight="normal" fill="#333" stroke="#333" stroke-width="0.22">22</text>
<line x1="22.6" y1="302.00" x2="24.3" y2="302.00" stroke="#333" stroke-width="0.5"/>
<text x="22.40" y="297.00" font-size="5.70" text-anchor="end" font-weight="normal" fill="#333" stroke="#333" stroke-width="0.22">23</text>
<line x1="22.6" y1="295.00" x2="24.3" y2="295.00" stroke="#333" stroke-width="0.5"/>
<text x="22.40" y="290.00" font-size="5.70" text-anchor="end" font-weight="normal" fill="#333" stroke="#333" stroke-width="0.22">24</text>
<line x1="22.6" y1="288.00" x2="24.3" y2="288.00" stroke="#333" stroke-width="0.5"/>
<text x="22.40" y="281.30" font-size="5.70" text-anchor="end" font-weight="normal" fill="#333" stroke="#333" stroke-width="0.22">25</text>
<line x1="22.6" y1="279.30" x2="24.3" y2="279.30" stroke="#333" stroke-width="0.5"/>
<text x="22.40" y="273.80" font-size="5.70" text-anchor="end" font-weight="normal" fill="#333" stroke="#333" stroke-width="0.22">26</text>
<line x1="22.6" y1="271.80" x2="24.3" y2="271.80" stroke="#333" stroke-width="0.5"/>
<text x="22.40" y="267.80" font-size="5.70" text-anchor="end" font-weight="normal" fill="#333" stroke="#333" stroke-width="0.22">27</text>
<line x1="22.6" y1="265.80" x2="24.3" y2="265.80" stroke="#333" stroke-width="0.5"/>
<text x="22.40" y="261.30" font-size="5.70" text-anchor="end" font-weight="normal" fill="#333" stroke="#333" stroke-width="0.22">28</text>
<line x1="22.6" y1="259.30" x2="24.3" y2="259.30" stroke="#333" stroke-width="0.5"/>
<text x="22.40" y="255.00" font-size="5.70" text-anchor="end" font-weight="normal" fill="#333" stroke="#333" stroke-width="0.22">29</text>
<line x1="22.6" y1="253.00" x2="24.3" y2="253.00" stroke="#333" stroke-width="0.5"/>
<text x="52.90" y="532.00" font-size="6.20" text-anchor="middle" font-weight="normal" fill="#333" stroke="#333" stroke-width="0.20">&#8722;0.2</text>
<line x1="52.90" y1="524" x2="52.90" y2="525.6" stroke="#333" stroke-width="0.5"/>
<text x="100.60" y="532.00" font-size="6.20" text-anchor="middle" font-weight="normal" fill="#333" stroke="#333" stroke-width="0.20">&#8722;0.1</text>
<line x1="100.60" y1="524" x2="100.60" y2="525.6" stroke="#333" stroke-width="0.5"/>
<text x="148.30" y="532.00" font-size="6.20" text-anchor="middle" font-weight="normal" fill="#333" stroke="#333" stroke-width="0.20">0.0</text>
<line x1="148.30" y1="524" x2="148.30" y2="525.6" stroke="#333" stroke-width="0.5"/>
<text x="196.00" y="532.00" font-size="6.20" text-anchor="middle" font-weight="normal" fill="#333" stroke="#333" stroke-width="0.20">0.1</text>
<line x1="196.00" y1="524" x2="196.00" y2="525.6" stroke="#333" stroke-width="0.5"/>
<text x="243.70" y="532.00" font-size="6.20" text-anchor="middle" font-weight="normal" fill="#333" stroke="#333" stroke-width="0.20">0.2</text>
<line x1="243.70" y1="524" x2="243.70" y2="525.6" stroke="#333" stroke-width="0.5"/>
<text x="148.00" y="539.50" font-size="6.97" text-anchor="middle" font-weight="bold" fill="#000">Nucleotide Diversity</text>
<text x="13.50" y="387.00" font-size="6.80" text-anchor="middle" font-weight="bold" fill="#000" transform="rotate(-90 13.5 387)">Chromosome</text>
<text x="4.50" y="248.90" font-size="9.60" text-anchor="start" font-weight="bold" fill="#000" stroke="#000" stroke-width="0.20">b.</text>
<rect x="316.80" y="163.00" width="201.80" height="142.30" fill="#ececec"/>
<line x1="316.90" y1="163.00" x2="316.90" y2="305.30" stroke="#fff" stroke-width="0.75"/>
<line x1="321.32" y1="163.00" x2="321.32" y2="305.30" stroke="#fff" stroke-width="0.40"/>
<line x1="325.74" y1="163.00" x2="325.74" y2="305.30" stroke="#fff" stroke-width="0.75"/>
<line x1="330.16" y1="163.00" x2="330.16" y2="305.30" stroke="#fff" stroke-width="0.40"/>
<line x1="334.58" y1="163.00" x2="334.58" y2="305.30" stroke="#fff" stroke-width="0.75"/>
<line x1="339.00" y1="163.00" x2="339.00" y2="305.30" stroke="#fff" stroke-width="0.40"/>
<line x1="343.42" y1="163.00" x2="343.42" y2="305.30" stroke="#fff" stroke-width="0.75"/>
<line x1="347.84" y1="163.00" x2="347.84" y2="305.30" stroke="#fff" stroke-width="0.40"/>
<line x1="352.26" y1="163.00" x2="352.26" y2="305.30" stroke="#fff" stroke-width="0.75"/>
<line x1="356.68" y1="163.00" x2="356.68" y2="305.30" stroke="#fff" stroke-width="0.40"/>
<line x1="361.10" y1="163.00" x2="361.10" y2="305.30" stroke="#fff" stroke-width="0.75"/>
<line x1="365.52" y1="163.00" x2="365.52" y2="305.30" stroke="#fff" stroke-width="0.40"/>
<line x1="369.94" y1="163.00" x2="369.94" y2="305.30" stroke="#fff" stroke-width="0.75"/>
<line x1="374.36" y1="163.00" x2="374.36" y2="305.30" stroke="#fff" stroke-width="0.40"/>
<line x1="378.78" y1="163.00" x2="378.78" y2="305.30" stroke="#fff" stroke-width="0.75"/>
<line x1="383.20" y1="163.00" x2="383.20" y2="305.30" stroke="#fff" stroke-width="0.40"/>
<line x1="387.62" y1="163.00" x2="387.62" y2="305.30" stroke="#fff" stroke-width="0.75"/>
<line x1="392.04" y1="163.00" x2="392.04" y2="305.30" stroke="#fff" stroke-width="0.40"/>
<line x1="396.46" y1="163.00" x2="396.46" y2="305.30" stroke="#fff" stroke-width="0.75"/>
<line x1="400.88" y1="163.00" x2="400.88" y2="305.30" stroke="#fff" stroke-width="0.40"/>
<line x1="405.30" y1="163.00" x2="405.30" y2="305.30" stroke="#fff" stroke-width="0.75"/>
<line x1="409.72" y1="163.00" x2="409.72" y2="305.30" stroke="#fff" stroke-width="0.40"/>
<line x1="414.14" y1="163.00" x2="414.14" y2="305.30" stroke="#fff" stroke-width="0.75"/>
<line x1="418.56" y1="163.00" x2="418.56" y2="305.30" stroke="#fff" stroke-width="0.40"/>
<line x1="422.98" y1="163.00" x2="422.98" y2="305.30" stroke="#fff" stroke-width="0.75"/>
<line x1="427.40" y1="163.00" x2="427.40" y2="305.30" stroke="#fff" stroke-width="0.40"/>
<line x1="431.82" y1="163.00" x2="431.82" y2="305.30" stroke="#fff" stroke-width="0.75"/>
<line x1="436.24" y1="163.00" x2="436.24" y2="305.30" stroke="#fff" stroke-width="0.40"/>
<line x1="440.66" y1="163.00" x2="440.66" y2="305.30" stroke="#fff" stroke-width="0.75"/>
<line x1="445.08" y1="163.00" x2="445.08" y2="305.30" stroke="#fff" stroke-width="0.40"/>
<line x1="449.50" y1="163.00" x2="449.50" y2="305.30" stroke="#fff" stroke-width="0.75"/>
<line x1="453.92" y1="163.00" x2="453.92" y2="305.30" stroke="#fff" stroke-width="0.40"/>
<line x1="458.34" y1="163.00" x2="458.34" y2="305.30" stroke="#fff" stroke-width="0.75"/>
<line x1="462.76" y1="163.00" x2="462.76" y2="305.30" stroke="#fff" stroke-width="0.40"/>
<line x1="467.18" y1="163.00" x2="467.18" y2="305.30" stroke="#fff" stroke-width="0.75"/>
<line x1="471.60" y1="163.00" x2="471.60" y2="305.30" stroke="#fff" stroke-width="0.40"/>
<line x1="476.02" y1="163.00" x2="476.02" y2="305.30" stroke="#fff" stroke-width="0.75"/>
<line x1="480.44" y1="163.00" x2="480.44" y2="305.30" stroke="#fff" stroke-width="0.40"/>
<line x1="484.86" y1="163.00" x2="484.86" y2="305.30" stroke="#fff" stroke-width="0.75"/>
<line x1="489.28" y1="163.00" x2="489.28" y2="305.30" stroke="#fff" stroke-width="0.40"/>
<line x1="493.70" y1="163.00" x2="493.70" y2="305.30" stroke="#fff" stroke-width="0.75"/>
<line x1="498.12" y1="163.00" x2="498.12" y2="305.30" stroke="#fff" stroke-width="0.40"/>
<line x1="502.54" y1="163.00" x2="502.54" y2="305.30" stroke="#fff" stroke-width="0.75"/>
<line x1="506.96" y1="163.00" x2="506.96" y2="305.30" stroke="#fff" stroke-width="0.40"/>
<line x1="511.38" y1="163.00" x2="511.38" y2="305.30" stroke="#fff" stroke-width="0.75"/>
<line x1="515.80" y1="163.00" x2="515.80" y2="305.30" stroke="#fff" stroke-width="0.40"/>
<line x1="316.80" y1="305.30" x2="518.60" y2="305.30" stroke="#fff" stroke-width="0.75"/>
<line x1="316.80" y1="299.30" x2="518.60" y2="299.30" stroke="#fff" stroke-width="0.40"/>
<line x1="316.80" y1="293.29" x2="518.60" y2="293.29" stroke="#fff" stroke-width="0.75"/>
<line x1="316.80" y1="287.29" x2="518.60" y2="287.29" stroke="#fff" stroke-width="0.40"/>
<line x1="316.80" y1="281.28" x2="518.60" y2="281.28" stroke="#fff" stroke-width="0.75"/>
<line x1="316.80" y1="275.28" x2="518.60" y2="275.28" stroke="#fff" stroke-width="0.40"/>
<line x1="316.80" y1="269.27" x2="518.60" y2="269.27" stroke="#fff" stroke-width="0.75"/>
<line x1="316.80" y1="263.26" x2="518.60" y2="263.26" stroke="#fff" stroke-width="0.40"/>
<line x1="316.80" y1="257.26" x2="518.60" y2="257.26" stroke="#fff" stroke-width="0.75"/>
<line x1="316.80" y1="251.25" x2="518.60" y2="251.25" stroke="#fff" stroke-width="0.40"/>
<line x1="316.80" y1="245.25" x2="518.60" y2="245.25" stroke="#fff" stroke-width="0.75"/>
<line x1="316.80" y1="239.25" x2="518.60" y2="239.25" stroke="#fff" stroke-width="0.40"/>
<line x1="316.80" y1="233.24" x2="518.60" y2="233.24" stroke="#fff" stroke-width="0.75"/>
<line x1="316.80" y1="227.24" x2="518.60" y2="227.24" stroke="#fff" stroke-width="0.40"/>
<line x1="316.80" y1="221.23" x2="518.60" y2="221.23" stroke="#fff" stroke-width="0.75"/>
<line x1="316.80" y1="215.23" x2="518.60" y2="215.23" stroke="#fff" stroke-width="0.40"/>
<line x1="316.80" y1="209.22" x2="518.60" y2="209.22" stroke="#fff" stroke-width="0.75"/>
<line x1="316.80" y1="203.22" x2="518.60" y2="203.22" stroke="#fff" stroke-width="0.40"/>
<line x1="316.80" y1="197.21" x2="518.60" y2="197.21" stroke="#fff" stroke-width="0.75"/>
<line x1="316.80" y1="191.21" x2="518.60" y2="191.21" stroke="#fff" stroke-width="0.40"/>
<line x1="316.80" y1="185.20" x2="518.60" y2="185.20" stroke="#fff" stroke-width="0.75"/>
<line x1="316.80" y1="179.19" x2="518.60" y2="179.19" stroke="#fff" stroke-width="0.40"/>
<line x1="316.80" y1="173.19" x2="518.60" y2="173.19" stroke="#fff" stroke-width="0.75"/>
<line x1="316.80" y1="167.19" x2="518.60" y2="167.19" stroke="#fff" stroke-width="0.40"/>
<rect x="331.04" y="305.01" width="3.56" height="0.29" fill="#7474f0"/>
<rect x="334.58" y="304.58" width="3.56" height="0.72" fill="#7474f0"/>
<rect x="338.12" y="302.66" width="3.56" height="2.64" fill="#7474f0"/>
<rect x="338.12" y="303.86" width="3.56" height="1.44" fill="#4e52c6"/>
<rect x="341.65" y="299.63" width="3.56" height="5.67" fill="#7474f0"/>
<rect x="341.65" y="301.75" width="3.56" height="3.55" fill="#4e52c6"/>
<rect x="345.19" y="292.23" width="3.56" height="13.07" fill="#7474f0"/>
<rect x="345.19" y="296.46" width="3.56" height="8.84" fill="#4e52c6"/>
<rect x="345.19" y="302.42" width="3.56" height="2.88" fill="#858585"/>
<rect x="348.72" y="280.13" width="3.56" height="25.17" fill="#7474f0"/>
<rect x="348.72" y="283.83" width="3.56" height="21.47" fill="#4e52c6"/>
<rect x="348.72" y="299.63" width="3.56" height="5.67" fill="#858585"/>
<rect x="352.26" y="260.57" width="3.56" height="44.73" fill="#7474f0"/>
<rect x="352.26" y="268.79" width="3.56" height="36.51" fill="#4e52c6"/>
<rect x="352.26" y="276.48" width="3.56" height="28.82" fill="#3c3c9c"/>
<rect x="352.26" y="294.35" width="3.56" height="10.95" fill="#858585"/>
<rect x="355.80" y="258.46" width="3.56" height="46.84" fill="#7474f0"/>
<rect x="355.80" y="268.79" width="3.56" height="36.51" fill="#4e52c6"/>
<rect x="355.80" y="276.48" width="3.56" height="28.82" fill="#3c3c9c"/>
<rect x="355.80" y="287.00" width="3.56" height="18.30" fill="#858585"/>
<rect x="359.33" y="240.30" width="3.56" height="65.00" fill="#98dc8e"/>
<rect x="359.33" y="257.93" width="3.56" height="47.37" fill="#4e52c6"/>
<rect x="359.33" y="271.67" width="3.56" height="33.63" fill="#3c3c9c"/>
<rect x="359.33" y="276.91" width="3.56" height="28.39" fill="#858585"/>
<rect x="362.87" y="163.00" width="3.56" height="142.30" fill="#7474f0"/>
<rect x="362.87" y="223.63" width="3.56" height="81.67" fill="#4e52c6"/>
<rect x="362.87" y="252.46" width="3.56" height="52.84" fill="#3c3c9c"/>
<rect x="362.87" y="271.67" width="3.56" height="33.63" fill="#858585"/>
<rect x="366.40" y="185.92" width="3.56" height="119.38" fill="#f29090"/>
<rect x="366.40" y="195.62" width="3.56" height="109.68" fill="#7a46d2"/>
<rect x="366.40" y="215.95" width="3.56" height="89.35" fill="#3c3c9c"/>
<rect x="366.40" y="257.26" width="3.56" height="48.04" fill="#858585"/>
<rect x="369.94" y="215.32" width="3.56" height="89.98" fill="#858585"/>
<rect x="369.94" y="233.24" width="3.56" height="72.06" fill="#6a6a90"/>
<rect x="369.94" y="257.26" width="3.56" height="48.04" fill="#858585"/>
<rect x="373.48" y="214.12" width="3.56" height="91.18" fill="#858585"/>
<rect x="373.48" y="238.04" width="3.56" height="67.26" fill="#6a6a90"/>
<rect x="373.48" y="262.06" width="3.56" height="43.24" fill="#858585"/>
<rect x="377.01" y="234.92" width="3.56" height="70.38" fill="#858585"/>
<rect x="380.55" y="244.72" width="3.56" height="60.58" fill="#98dc8e"/>
<rect x="380.55" y="249.00" width="3.56" height="56.30" fill="#858585"/>
<rect x="384.08" y="256.88" width="3.56" height="48.42" fill="#98dc8e"/>
<rect x="384.08" y="258.80" width="3.56" height="46.50" fill="#858585"/>
<rect x="387.62" y="263.75" width="3.56" height="41.55" fill="#98dc8e"/>
<rect x="387.62" y="266.68" width="3.56" height="38.62" fill="#858585"/>
<rect x="391.16" y="271.58" width="3.56" height="33.72" fill="#98dc8e"/>
<rect x="391.16" y="272.97" width="3.56" height="32.33" fill="#858585"/>
<rect x="394.69" y="274.51" width="3.56" height="30.79" fill="#98dc8e"/>
<rect x="394.69" y="280.51" width="3.56" height="24.79" fill="#858585"/>
<rect x="398.23" y="282.38" width="3.56" height="22.92" fill="#8a8262"/>
<rect x="398.23" y="286.08" width="3.56" height="19.22" fill="#858585"/>
<rect x="401.76" y="284.79" width="3.56" height="20.51" fill="#8a8262"/>
<rect x="401.76" y="288.49" width="3.56" height="16.81" fill="#858585"/>
<rect x="405.30" y="288.15" width="3.56" height="17.15" fill="#d6f2e4"/>
<rect x="405.30" y="289.54" width="3.56" height="15.76" fill="#80c070"/>
<rect x="405.30" y="292.43" width="3.56" height="12.87" fill="#5c7090"/>
<rect x="405.30" y="295.79" width="3.56" height="9.51" fill="#858585"/>
<rect x="408.84" y="288.97" width="3.56" height="16.33" fill="#d6f2e4"/>
<rect x="408.84" y="290.50" width="3.56" height="14.80" fill="#80c070"/>
<rect x="408.84" y="293.39" width="3.56" height="11.91" fill="#5c7090"/>
<rect x="408.84" y="296.22" width="3.56" height="9.08" fill="#858585"/>
<rect x="412.37" y="289.93" width="3.56" height="15.37" fill="#d6f2e4"/>
<rect x="412.37" y="291.94" width="3.56" height="13.36" fill="#80c070"/>
<rect x="412.37" y="295.74" width="3.56" height="9.56" fill="#485874"/>
<rect x="412.37" y="297.66" width="3.56" height="7.64" fill="#858585"/>
<rect x="415.91" y="289.93" width="3.56" height="15.37" fill="#d6f2e4"/>
<rect x="415.91" y="292.43" width="3.56" height="12.87" fill="#80c070"/>
<rect x="415.91" y="296.70" width="3.56" height="8.60" fill="#485874"/>
<rect x="419.44" y="290.89" width="3.56" height="14.41" fill="#d6f2e4"/>
<rect x="419.44" y="293.39" width="3.56" height="11.91" fill="#80c070"/>
<rect x="419.44" y="298.62" width="3.56" height="6.68" fill="#485874"/>
<rect x="422.98" y="291.37" width="3.56" height="13.93" fill="#d6f2e4"/>
<rect x="422.98" y="294.83" width="3.56" height="10.47" fill="#80c070"/>
<rect x="422.98" y="300.06" width="3.56" height="5.24" fill="#485874"/>
<rect x="426.52" y="291.85" width="3.56" height="13.45" fill="#d6f2e4"/>
<rect x="426.52" y="295.74" width="3.56" height="9.56" fill="#80c070"/>
<rect x="426.52" y="301.02" width="3.56" height="4.28" fill="#485874"/>
<rect x="430.05" y="292.33" width="3.56" height="12.97" fill="#d6f2e4"/>
<rect x="430.05" y="296.70" width="3.56" height="8.60" fill="#80c070"/>
<rect x="430.05" y="301.94" width="3.56" height="3.36" fill="#485874"/>
<rect x="433.59" y="292.81" width="3.56" height="12.49" fill="#d6f2e4"/>
<rect x="433.59" y="297.18" width="3.56" height="8.12" fill="#80c070"/>
<rect x="433.59" y="302.42" width="3.56" height="2.88" fill="#485874"/>
<rect x="437.12" y="293.29" width="3.56" height="12.01" fill="#d6f2e4"/>
<rect x="437.12" y="297.66" width="3.56" height="7.64" fill="#80c070"/>
<rect x="437.12" y="302.90" width="3.56" height="2.40" fill="#485874"/>
<rect x="440.66" y="293.77" width="3.56" height="11.53" fill="#d6f2e4"/>
<rect x="440.66" y="298.09" width="3.56" height="7.21" fill="#80c070"/>
<rect x="440.66" y="303.38" width="3.56" height="1.92" fill="#485874"/>
<rect x="444.20" y="294.25" width="3.56" height="11.05" fill="#d6f2e4"/>
<rect x="444.20" y="298.09" width="3.56" height="7.21" fill="#80c070"/>
<rect x="444.20" y="303.76" width="3.56" height="1.54" fill="#485874"/>
<rect x="447.73" y="294.73" width="3.56" height="10.57" fill="#d6f2e4"/>
<rect x="447.73" y="298.09" width="3.56" height="7.21" fill="#80c070"/>
<rect x="447.73" y="304.10" width="3.56" height="1.20" fill="#485874"/>
<rect x="451.27" y="295.21" width="3.56" height="10.09" fill="#d6f2e4"/>
<rect x="451.27" y="298.09" width="3.56" height="7.21" fill="#80c070"/>
<rect x="451.27" y="304.34" width="3.56" height="0.96" fill="#485874"/>
<rect x="454.80" y="295.45" width="3.56" height="9.85" fill="#d6f2e4"/>
<rect x="454.80" y="298.09" width="3.56" height="7.21" fill="#80c070"/>
<rect x="454.80" y="304.58" width="3.56" height="0.72" fill="#485874"/>
<rect x="458.34" y="295.69" width="3.56" height="9.61" fill="#d6f2e4"/>
<rect x="458.34" y="298.09" width="3.56" height="7.21" fill="#80c070"/>
<rect x="458.34" y="304.82" width="3.56" height="0.48" fill="#485874"/>
<rect x="461.88" y="291.94" width="3.56" height="13.36" fill="#c4bc94"/>
<rect x="461.88" y="298.09" width="3.56" height="7.21" fill="#80c070"/>
<rect x="461.88" y="304.92" width="3.56" height="0.38" fill="#485874"/>
<rect x="465.41" y="305.01" width="3.56" height="0.29" fill="#485874"/>
<rect x="468.95" y="305.06" width="3.56" height="0.24" fill="#485874"/>
<rect x="472.48" y="305.11" width="3.56" height="0.19" fill="#485874"/>
<rect x="476.02" y="305.16" width="3.56" height="0.14" fill="#485874"/>
<rect x="479.56" y="305.16" width="3.56" height="0.14" fill="#485874"/>
<rect x="483.09" y="305.20" width="3.56" height="0.10" fill="#485874"/>
<rect x="486.63" y="305.20" width="3.56" height="0.10" fill="#485874"/>
<line x1="375.20" y1="163.00" x2="375.20" y2="305.30" stroke="#5050d8" stroke-width="0.80"/>
<line x1="381.00" y1="163.00" x2="381.00" y2="305.30" stroke="#8a7a50" stroke-width="1.30"/>
<line x1="394.20" y1="163.00" x2="394.20" y2="305.30" stroke="#88dd88" stroke-width="0.70"/>
<line x1="396.60" y1="163.00" x2="396.60" y2="305.30" stroke="#5e5840" stroke-width="1.00"/>
<rect x="316.80" y="163.00" width="201.80" height="142.30" fill="none" stroke="#c2c2c2" stroke-width="1.1"/>
<text x="314.90" y="306.80" font-size="4.30" text-anchor="end" font-weight="normal" fill="#333" stroke="#333" stroke-width="0.15">0</text>
<line x1="315.60" y1="305.30" x2="316.80" y2="305.30" stroke="#555" stroke-width="0.4"/>
<text x="314.90" y="282.78" font-size="4.30" text-anchor="end" font-weight="normal" fill="#333" stroke="#333" stroke-width="0.15">500</text>
<line x1="315.60" y1="281.28" x2="316.80" y2="281.28" stroke="#555" stroke-width="0.4"/>
<text x="314.90" y="258.76" font-size="4.30" text-anchor="end" font-weight="normal" fill="#333" stroke="#333" stroke-width="0.15">1000</text>
<line x1="315.60" y1="257.26" x2="316.80" y2="257.26" stroke="#555" stroke-width="0.4"/>
<text x="314.90" y="234.74" font-size="4.30" text-anchor="end" font-weight="normal" fill="#333" stroke="#333" stroke-width="0.15">1500</text>
<line x1="315.60" y1="233.24" x2="316.80" y2="233.24" stroke="#555" stroke-width="0.4"/>
<text x="314.90" y="210.72" font-size="4.30" text-anchor="end" font-weight="normal" fill="#333" stroke="#333" stroke-width="0.15">2000</text>
<line x1="315.60" y1="209.22" x2="316.80" y2="209.22" stroke="#555" stroke-width="0.4"/>
<text x="314.90" y="186.70" font-size="4.30" text-anchor="end" font-weight="normal" fill="#333" stroke="#333" stroke-width="0.15">2500</text>
<line x1="315.60" y1="185.20" x2="316.80" y2="185.20" stroke="#555" stroke-width="0.4"/>
<text x="316.90" y="310.90" font-size="4.20" text-anchor="middle" font-weight="normal" fill="#333" stroke="#333" stroke-width="0.15">&#8722;2.25</text>
<line x1="316.90" y1="305.30" x2="316.90" y2="306.50" stroke="#555" stroke-width="0.4"/>
<text x="334.58" y="310.90" font-size="4.20" text-anchor="middle" font-weight="normal" fill="#333" stroke="#333" stroke-width="0.15">&#8722;1.75</text>
<line x1="334.58" y1="305.30" x2="334.58" y2="306.50" stroke="#555" stroke-width="0.4"/>
<text x="352.26" y="310.90" font-size="4.20" text-anchor="middle" font-weight="normal" fill="#333" stroke="#333" stroke-width="0.15">&#8722;1.25</text>
<line x1="352.26" y1="305.30" x2="352.26" y2="306.50" stroke="#555" stroke-width="0.4"/>
<text x="369.94" y="310.90" font-size="4.20" text-anchor="middle" font-weight="normal" fill="#333" stroke="#333" stroke-width="0.15">&#8722;0.75</text>
<line x1="369.94" y1="305.30" x2="369.94" y2="306.50" stroke="#555" stroke-width="0.4"/>
<text x="387.62" y="310.90" font-size="4.20" text-anchor="middle" font-weight="normal" fill="#333" stroke="#333" stroke-width="0.15">&#8722;0.25</text>
<line x1="387.62" y1="305.30" x2="387.62" y2="306.50" stroke="#555" stroke-width="0.4"/>
<text x="405.30" y="310.90" font-size="4.20" text-anchor="middle" font-weight="normal" fill="#333" stroke="#333" stroke-width="0.15">0.25</text>
<line x1="405.30" y1="305.30" x2="405.30" y2="306.50" stroke="#555" stroke-width="0.4"/>
<text x="422.98" y="310.90" font-size="4.20" text-anchor="middle" font-weight="normal" fill="#333" stroke="#333" stroke-width="0.15">0.75</text>
<line x1="422.98" y1="305.30" x2="422.98" y2="306.50" stroke="#555" stroke-width="0.4"/>
<text x="440.66" y="310.90" font-size="4.20" text-anchor="middle" font-weight="normal" fill="#333" stroke="#333" stroke-width="0.15">1.25</text>
<line x1="440.66" y1="305.30" x2="440.66" y2="306.50" stroke="#555" stroke-width="0.4"/>
<text x="458.34" y="310.90" font-size="4.20" text-anchor="middle" font-weight="normal" fill="#333" stroke="#333" stroke-width="0.15">1.75</text>
<line x1="458.34" y1="305.30" x2="458.34" y2="306.50" stroke="#555" stroke-width="0.4"/>
<text x="476.02" y="310.90" font-size="4.20" text-anchor="middle" font-weight="normal" fill="#333" stroke="#333" stroke-width="0.15">2.25</text>
<line x1="476.02" y1="305.30" x2="476.02" y2="306.50" stroke="#555" stroke-width="0.4"/>
<text x="493.70" y="310.90" font-size="4.20" text-anchor="middle" font-weight="normal" fill="#333" stroke="#333" stroke-width="0.15">2.75</text>
<line x1="493.70" y1="305.30" x2="493.70" y2="306.50" stroke="#555" stroke-width="0.4"/>
<text x="511.38" y="310.90" font-size="4.20" text-anchor="middle" font-weight="normal" fill="#333" stroke="#333" stroke-width="0.15">3.25</text>
<line x1="511.38" y1="305.30" x2="511.38" y2="306.50" stroke="#555" stroke-width="0.4"/>
<text x="302.20" y="234.50" font-size="6.60" text-anchor="middle" font-weight="bold" fill="#000" transform="rotate(-90 302.2 234.5)">Count</text>
<text x="417.70" y="317.80" font-size="6.55" text-anchor="middle" font-weight="bold" fill="#000">Tajima's D</text>
<text x="291.20" y="167.30" font-size="9.00" text-anchor="start" font-weight="bold" fill="#000" stroke="#000" stroke-width="0.20">c</text>
<text x="322.50" y="340.60" font-size="5.35" text-anchor="start" font-weight="bold" fill="#000">Anadromous Barrier Locations</text>
<rect x="404.00" y="327.00" width="8" height="8" fill="#f8dde4"/>
<rect x="405.00" y="328.00" width="6" height="5.8" fill="#a07850"/>
<text x="414.50" y="332.20" font-size="4.00" text-anchor="start" font-weight="normal" fill="#333" stroke="#333" stroke-width="0.06">Above the Dams</text>
<rect x="404.00" y="335.20" width="8" height="8" fill="#eef0ee"/>
<rect x="405.00" y="336.20" width="6" height="5.8" fill="#2c4a14"/>
<text x="414.50" y="340.40" font-size="4.00" text-anchor="start" font-weight="normal" fill="#333" stroke="#333" stroke-width="0.06">In Between the Dams</text>
<rect x="404.00" y="343.30" width="8" height="8" fill="#d8f4ee"/>
<rect x="405.00" y="344.30" width="6" height="5.8" fill="#6ab04c"/>
<text x="414.50" y="348.50" font-size="4.00" text-anchor="start" font-weight="normal" fill="#333" stroke="#333" stroke-width="0.06">South Branch of the Little River</text>
<rect x="474.50" y="327.00" width="8" height="8" fill="#eef0ff"/>
<rect x="475.50" y="328.00" width="6" height="5.8" fill="#1010e0"/>
<text x="485.00" y="332.20" font-size="4.00" text-anchor="start" font-weight="normal" fill="#333" stroke="#333" stroke-width="0.06">Below the Dams</text>
<rect x="474.50" y="335.20" width="8" height="8" fill="#f0f0f0"/>
<rect x="475.50" y="336.20" width="6" height="5.8" fill="#7a7a7a"/>
<text x="485.00" y="340.40" font-size="4.00" text-anchor="start" font-weight="normal" fill="#333" stroke="#333" stroke-width="0.06">All Locations</text>
<rect x="316.80" y="357.20" width="201.20" height="143.10" fill="#ececec"/>
<line x1="319.45" y1="357.20" x2="319.45" y2="500.30" stroke="#fff" stroke-width="0.75"/>
<line x1="323.85" y1="357.20" x2="323.85" y2="500.30" stroke="#fff" stroke-width="0.40"/>
<line x1="328.25" y1="357.20" x2="328.25" y2="500.30" stroke="#fff" stroke-width="0.75"/>
<line x1="332.65" y1="357.20" x2="332.65" y2="500.30" stroke="#fff" stroke-width="0.40"/>
<line x1="337.05" y1="357.20" x2="337.05" y2="500.30" stroke="#fff" stroke-width="0.75"/>
<line x1="341.45" y1="357.20" x2="341.45" y2="500.30" stroke="#fff" stroke-width="0.40"/>
<line x1="345.85" y1="357.20" x2="345.85" y2="500.30" stroke="#fff" stroke-width="0.75"/>
<line x1="350.25" y1="357.20" x2="350.25" y2="500.30" stroke="#fff" stroke-width="0.40"/>
<line x1="354.65" y1="357.20" x2="354.65" y2="500.30" stroke="#fff" stroke-width="0.75"/>
<line x1="359.05" y1="357.20" x2="359.05" y2="500.30" stroke="#fff" stroke-width="0.40"/>
<line x1="363.45" y1="357.20" x2="363.45" y2="500.30" stroke="#fff" stroke-width="0.75"/>
<line x1="367.85" y1="357.20" x2="367.85" y2="500.30" stroke="#fff" stroke-width="0.40"/>
<line x1="372.25" y1="357.20" x2="372.25" y2="500.30" stroke="#fff" stroke-width="0.75"/>
<line x1="376.65" y1="357.20" x2="376.65" y2="500.30" stroke="#fff" stroke-width="0.40"/>
<line x1="381.05" y1="357.20" x2="381.05" y2="500.30" stroke="#fff" stroke-width="0.75"/>
<line x1="385.45" y1="357.20" x2="385.45" y2="500.30" stroke="#fff" stroke-width="0.40"/>
<line x1="389.85" y1="357.20" x2="389.85" y2="500.30" stroke="#fff" stroke-width="0.75"/>
<line x1="394.25" y1="357.20" x2="394.25" y2="500.30" stroke="#fff" stroke-width="0.40"/>
<line x1="398.65" y1="357.20" x2="398.65" y2="500.30" stroke="#fff" stroke-width="0.75"/>
<line x1="403.05" y1="357.20" x2="403.05" y2="500.30" stroke="#fff" stroke-width="0.40"/>
<line x1="407.45" y1="357.20" x2="407.45" y2="500.30" stroke="#fff" stroke-width="0.75"/>
<line x1="411.85" y1="357.20" x2="411.85" y2="500.30" stroke="#fff" stroke-width="0.40"/>
<line x1="416.25" y1="357.20" x2="416.25" y2="500.30" stroke="#fff" stroke-width="0.75"/>
<line x1="420.65" y1="357.20" x2="420.65" y2="500.30" stroke="#fff" stroke-width="0.40"/>
<line x1="425.05" y1="357.20" x2="425.05" y2="500.30" stroke="#fff" stroke-width="0.75"/>
<line x1="429.45" y1="357.20" x2="429.45" y2="500.30" stroke="#fff" stroke-width="0.40"/>
<line x1="433.85" y1="357.20" x2="433.85" y2="500.30" stroke="#fff" stroke-width="0.75"/>
<line x1="438.25" y1="357.20" x2="438.25" y2="500.30" stroke="#fff" stroke-width="0.40"/>
<line x1="442.65" y1="357.20" x2="442.65" y2="500.30" stroke="#fff" stroke-width="0.75"/>
<line x1="447.05" y1="357.20" x2="447.05" y2="500.30" stroke="#fff" stroke-width="0.40"/>
<line x1="451.45" y1="357.20" x2="451.45" y2="500.30" stroke="#fff" stroke-width="0.75"/>
<line x1="455.85" y1="357.20" x2="455.85" y2="500.30" stroke="#fff" stroke-width="0.40"/>
<line x1="460.25" y1="357.20" x2="460.25" y2="500.30" stroke="#fff" stroke-width="0.75"/>
<line x1="464.65" y1="357.20" x2="464.65" y2="500.30" stroke="#fff" stroke-width="0.40"/>
<line x1="469.05" y1="357.20" x2="469.05" y2="500.30" stroke="#fff" stroke-width="0.75"/>
<line x1="473.45" y1="357.20" x2="473.45" y2="500.30" stroke="#fff" stroke-width="0.40"/>
<line x1="477.85" y1="357.20" x2="477.85" y2="500.30" stroke="#fff" stroke-width="0.75"/>
<line x1="482.25" y1="357.20" x2="482.25" y2="500.30" stroke="#fff" stroke-width="0.40"/>
<line x1="486.65" y1="357.20" x2="486.65" y2="500.30" stroke="#fff" stroke-width="0.75"/>
<line x1="491.05" y1="357.20" x2="491.05" y2="500.30" stroke="#fff" stroke-width="0.40"/>
<line x1="495.45" y1="357.20" x2="495.45" y2="500.30" stroke="#fff" stroke-width="0.75"/>
<line x1="499.85" y1="357.20" x2="499.85" y2="500.30" stroke="#fff" stroke-width="0.40"/>
<line x1="504.25" y1="357.20" x2="504.25" y2="500.30" stroke="#fff" stroke-width="0.75"/>
<line x1="508.65" y1="357.20" x2="508.65" y2="500.30" stroke="#fff" stroke-width="0.40"/>
<line x1="513.05" y1="357.20" x2="513.05" y2="500.30" stroke="#fff" stroke-width="0.75"/>
<line x1="517.45" y1="357.20" x2="517.45" y2="500.30" stroke="#fff" stroke-width="0.40"/>
<line x1="316.80" y1="500.30" x2="518.00" y2="500.30" stroke="#fff" stroke-width="0.75"/>
<line x1="316.80" y1="495.56" x2="518.00" y2="495.56" stroke="#fff" stroke-width="0.40"/>
<line x1="316.80" y1="490.81" x2="518.00" y2="490.81" stroke="#fff" stroke-width="0.75"/>
<line x1="316.80" y1="486.07" x2="518.00" y2="486.07" stroke="#fff" stroke-width="0.40"/>
<line x1="316.80" y1="481.33" x2="518.00" y2="481.33" stroke="#fff" stroke-width="0.75"/>
<line x1="316.80" y1="476.59" x2="518.00" y2="476.59" stroke="#fff" stroke-width="0.40"/>
<line x1="316.80" y1="471.85" x2="518.00" y2="471.85" stroke="#fff" stroke-width="0.75"/>
<line x1="316.80" y1="467.10" x2="518.00" y2="467.10" stroke="#fff" stroke-width="0.40"/>
<line x1="316.80" y1="462.36" x2="518.00" y2="462.36" stroke="#fff" stroke-width="0.75"/>
<line x1="316.80" y1="457.62" x2="518.00" y2="457.62" stroke="#fff" stroke-width="0.40"/>
<line x1="316.80" y1="452.88" x2="518.00" y2="452.88" stroke="#fff" stroke-width="0.75"/>
<line x1="316.80" y1="448.13" x2="518.00" y2="448.13" stroke="#fff" stroke-width="0.40"/>
<line x1="316.80" y1="443.39" x2="518.00" y2="443.39" stroke="#fff" stroke-width="0.75"/>
<line x1="316.80" y1="438.65" x2="518.00" y2="438.65" stroke="#fff" stroke-width="0.40"/>
<line x1="316.80" y1="433.91" x2="518.00" y2="433.91" stroke="#fff" stroke-width="0.75"/>
<line x1="316.80" y1="429.16" x2="518.00" y2="429.16" stroke="#fff" stroke-width="0.40"/>
<line x1="316.80" y1="424.42" x2="518.00" y2="424.42" stroke="#fff" stroke-width="0.75"/>
<line x1="316.80" y1="419.68" x2="518.00" y2="419.68" stroke="#fff" stroke-width="0.40"/>
<line x1="316.80" y1="414.94" x2="518.00" y2="414.94" stroke="#fff" stroke-width="0.75"/>
<line x1="316.80" y1="410.19" x2="518.00" y2="410.19" stroke="#fff" stroke-width="0.40"/>
<line x1="316.80" y1="405.45" x2="518.00" y2="405.45" stroke="#fff" stroke-width="0.75"/>
<line x1="316.80" y1="400.71" x2="518.00" y2="400.71" stroke="#fff" stroke-width="0.40"/>
<line x1="316.80" y1="395.97" x2="518.00" y2="395.97" stroke="#fff" stroke-width="0.75"/>
<line x1="316.80" y1="391.22" x2="518.00" y2="391.22" stroke="#fff" stroke-width="0.40"/>
<line x1="316.80" y1="386.48" x2="518.00" y2="386.48" stroke="#fff" stroke-width="0.75"/>
<line x1="316.80" y1="381.74" x2="518.00" y2="381.74" stroke="#fff" stroke-width="0.40"/>
<line x1="316.80" y1="377.00" x2="518.00" y2="377.00" stroke="#fff" stroke-width="0.75"/>
<line x1="316.80" y1="372.25" x2="518.00" y2="372.25" stroke="#fff" stroke-width="0.40"/>
<line x1="316.80" y1="367.51" x2="518.00" y2="367.51" stroke="#fff" stroke-width="0.75"/>
<line x1="316.80" y1="362.77" x2="518.00" y2="362.77" stroke="#fff" stroke-width="0.40"/>
<line x1="316.80" y1="358.02" x2="518.00" y2="358.02" stroke="#fff" stroke-width="0.75"/>
<rect x="368.00" y="357.20" width="17.00" height="143.10" fill="#f4d8e6" fill-opacity="0.30"/>
<rect x="385.00" y="357.20" width="22.00" height="143.10" fill="#e0dcf4" fill-opacity="0.25"/>
<rect x="335.29" y="488.92" width="3.54" height="11.38" fill="#f1e4ea"/>
<rect x="338.81" y="488.92" width="3.54" height="11.38" fill="#f1e4ea"/>
<rect x="338.81" y="499.16" width="3.54" height="1.14" fill="#98a070"/>
<rect x="342.33" y="488.92" width="3.54" height="11.38" fill="#f1e4ea"/>
<rect x="342.33" y="498.02" width="3.54" height="2.28" fill="#98a070"/>
<rect x="345.85" y="488.92" width="3.54" height="11.38" fill="#f1e4ea"/>
<rect x="345.85" y="492.60" width="3.54" height="7.70" fill="#98a070"/>
<rect x="349.37" y="488.92" width="3.54" height="11.38" fill="#f1e4ea"/>
<rect x="349.37" y="492.60" width="3.54" height="7.70" fill="#98a070"/>
<rect x="352.89" y="471.66" width="3.54" height="28.64" fill="#b88c68"/>
<rect x="356.41" y="471.66" width="3.54" height="28.64" fill="#f2ccd6"/>
<rect x="356.41" y="474.24" width="3.54" height="26.06" fill="#b88c68"/>
<rect x="359.93" y="473.40" width="3.54" height="26.90" fill="#b88c68"/>
<rect x="359.93" y="491.57" width="3.54" height="8.73" fill="#7e7a82"/>
<rect x="363.45" y="470.82" width="3.54" height="29.48" fill="#cdb2e2"/>
<rect x="363.45" y="492.71" width="3.54" height="7.59" fill="#7e7a82"/>
<rect x="366.97" y="357.20" width="3.54" height="143.10" fill="#c8bc94"/>
<rect x="366.97" y="384.58" width="3.54" height="115.72" fill="#a49c78"/>
<rect x="366.97" y="464.64" width="3.54" height="35.66" fill="#a898b8"/>
<rect x="366.97" y="482.28" width="3.54" height="18.02" fill="#7e7a82"/>
<rect x="370.49" y="408.22" width="3.54" height="92.08" fill="#c4a490"/>
<rect x="370.49" y="420.63" width="3.54" height="79.67" fill="#cdb2e2"/>
<rect x="370.49" y="466.15" width="3.54" height="34.15" fill="#a898b8"/>
<rect x="370.49" y="481.71" width="3.54" height="18.59" fill="#7e7a82"/>
<rect x="374.01" y="405.60" width="3.54" height="94.70" fill="#cdb2e2"/>
<rect x="374.01" y="413.04" width="3.54" height="87.26" fill="#e2c6e6"/>
<rect x="374.01" y="473.74" width="3.54" height="26.56" fill="#7e7a82"/>
<rect x="377.53" y="408.22" width="3.54" height="92.08" fill="#e2c6e6"/>
<rect x="377.53" y="445.29" width="3.54" height="55.01" fill="#7e7a82"/>
<rect x="381.05" y="426.01" width="3.54" height="74.29" fill="#8c7690"/>
<rect x="384.57" y="430.00" width="3.54" height="70.30" fill="#7e7a82"/>
<rect x="388.09" y="443.92" width="3.54" height="56.38" fill="#c8bc94"/>
<rect x="388.09" y="447.90" width="3.54" height="52.40" fill="#7e7a82"/>
<rect x="391.61" y="457.43" width="3.54" height="42.87" fill="#7e7a82"/>
<rect x="395.13" y="465.28" width="3.54" height="35.02" fill="#7e7a82"/>
<rect x="398.65" y="471.01" width="3.54" height="29.29" fill="#7e7a82"/>
<rect x="402.17" y="477.54" width="3.54" height="22.76" fill="#7e7a82"/>
<rect x="405.69" y="473.74" width="3.54" height="26.56" fill="#c8bc94"/>
<rect x="405.69" y="480.08" width="3.54" height="20.22" fill="#7e7a82"/>
<rect x="409.21" y="481.82" width="3.54" height="18.48" fill="#c8bc94"/>
<rect x="409.21" y="484.40" width="3.54" height="15.90" fill="#7e7a82"/>
<rect x="412.73" y="484.97" width="3.54" height="15.33" fill="#e6d8e4"/>
<rect x="412.73" y="486.11" width="3.54" height="14.19" fill="#7e7a82"/>
<rect x="416.25" y="487.55" width="3.54" height="12.75" fill="#e6d8e4"/>
<rect x="416.25" y="488.69" width="3.54" height="11.61" fill="#7e7a82"/>
<rect x="419.77" y="489.30" width="3.54" height="11.00" fill="#e6d8e4"/>
<rect x="419.77" y="490.44" width="3.54" height="9.86" fill="#7e7a82"/>
<rect x="423.29" y="491.00" width="3.54" height="9.30" fill="#e6d8e4"/>
<rect x="423.29" y="492.14" width="3.54" height="8.16" fill="#7e7a82"/>
<rect x="426.81" y="492.37" width="3.54" height="7.93" fill="#e6d8e4"/>
<rect x="426.81" y="493.51" width="3.54" height="6.79" fill="#7e7a82"/>
<rect x="430.33" y="493.58" width="3.54" height="6.72" fill="#e6d8e4"/>
<rect x="430.33" y="494.72" width="3.54" height="5.58" fill="#7e7a82"/>
<rect x="433.85" y="495.22" width="3.54" height="5.08" fill="#e6d8e4"/>
<rect x="433.85" y="495.60" width="3.54" height="4.70" fill="#7e7a82"/>
<rect x="437.37" y="496.05" width="3.54" height="4.25" fill="#e6d8e4"/>
<rect x="437.37" y="496.43" width="3.54" height="3.87" fill="#7e7a82"/>
<rect x="440.89" y="496.70" width="3.54" height="3.60" fill="#e6d8e4"/>
<rect x="440.89" y="497.08" width="3.54" height="3.22" fill="#7e7a82"/>
<rect x="444.41" y="497.26" width="3.54" height="3.04" fill="#e6d8e4"/>
<rect x="444.41" y="497.64" width="3.54" height="2.66" fill="#7e7a82"/>
<rect x="447.93" y="497.72" width="3.54" height="2.58" fill="#e6d8e4"/>
<rect x="447.93" y="498.10" width="3.54" height="2.20" fill="#7e7a82"/>
<rect x="451.45" y="498.10" width="3.54" height="2.20" fill="#e6d8e4"/>
<rect x="451.45" y="498.48" width="3.54" height="1.82" fill="#7e7a82"/>
<rect x="454.97" y="498.40" width="3.54" height="1.90" fill="#e6d8e4"/>
<rect x="454.97" y="498.78" width="3.54" height="1.52" fill="#7e7a82"/>
<rect x="458.49" y="498.67" width="3.54" height="1.63" fill="#e6d8e4"/>
<rect x="458.49" y="499.05" width="3.54" height="1.25" fill="#7e7a82"/>
<rect x="462.01" y="498.90" width="3.54" height="1.40" fill="#e6d8e4"/>
<rect x="462.01" y="499.28" width="3.54" height="1.02" fill="#7e7a82"/>
<rect x="465.53" y="499.09" width="3.54" height="1.21" fill="#e6d8e4"/>
<rect x="465.53" y="499.47" width="3.54" height="0.83" fill="#7e7a82"/>
<rect x="469.05" y="499.24" width="3.54" height="1.06" fill="#e6d8e4"/>
<rect x="469.05" y="499.62" width="3.54" height="0.68" fill="#7e7a82"/>
<rect x="472.57" y="499.39" width="3.54" height="0.91" fill="#e6d8e4"/>
<rect x="472.57" y="499.77" width="3.54" height="0.53" fill="#7e7a82"/>
<rect x="476.09" y="499.50" width="3.54" height="0.80" fill="#e6d8e4"/>
<rect x="476.09" y="499.88" width="3.54" height="0.42" fill="#7e7a82"/>
<rect x="479.61" y="499.62" width="3.54" height="0.68" fill="#e6d8e4"/>
<rect x="479.61" y="500.00" width="3.54" height="0.30" fill="#7e7a82"/>
<rect x="483.13" y="499.69" width="3.54" height="0.61" fill="#e6d8e4"/>
<rect x="483.13" y="500.07" width="3.54" height="0.23" fill="#7e7a82"/>
<rect x="486.65" y="499.77" width="3.54" height="0.53" fill="#e6d8e4"/>
<rect x="486.65" y="500.15" width="3.54" height="0.15" fill="#7e7a82"/>
<rect x="490.17" y="499.81" width="3.54" height="0.49" fill="#e6d8e4"/>
<rect x="490.17" y="500.19" width="3.54" height="0.11" fill="#7e7a82"/>
<line x1="385.50" y1="357.20" x2="385.50" y2="500.30" stroke="#8a8048" stroke-width="1.30"/>
<line x1="394.60" y1="357.20" x2="394.60" y2="500.30" stroke="#707070" stroke-width="0.60"/>
<line x1="407.50" y1="357.20" x2="407.50" y2="500.30" stroke="#404040" stroke-width="0.90"/>
<rect x="316.80" y="357.20" width="201.20" height="143.10" fill="none" stroke="#c2c2c2" stroke-width="1.1"/>
<text x="314.90" y="501.80" font-size="4.30" text-anchor="end" font-weight="normal" fill="#333" stroke="#333" stroke-width="0.15">0</text>
<line x1="315.60" y1="500.30" x2="316.80" y2="500.30" stroke="#555" stroke-width="0.4"/>
<text x="314.90" y="482.83" font-size="4.30" text-anchor="end" font-weight="normal" fill="#333" stroke="#333" stroke-width="0.15">500</text>
<line x1="315.60" y1="481.33" x2="316.80" y2="481.33" stroke="#555" stroke-width="0.4"/>
<text x="314.90" y="463.86" font-size="4.30" text-anchor="end" font-weight="normal" fill="#333" stroke="#333" stroke-width="0.15">1000</text>
<line x1="315.60" y1="462.36" x2="316.80" y2="462.36" stroke="#555" stroke-width="0.4"/>
<text x="314.90" y="444.89" font-size="4.30" text-anchor="end" font-weight="normal" fill="#333" stroke="#333" stroke-width="0.15">1500</text>
<line x1="315.60" y1="443.39" x2="316.80" y2="443.39" stroke="#555" stroke-width="0.4"/>
<text x="314.90" y="425.92" font-size="4.30" text-anchor="end" font-weight="normal" fill="#333" stroke="#333" stroke-width="0.15">2000</text>
<line x1="315.60" y1="424.42" x2="316.80" y2="424.42" stroke="#555" stroke-width="0.4"/>
<text x="314.90" y="406.95" font-size="4.30" text-anchor="end" font-weight="normal" fill="#333" stroke="#333" stroke-width="0.15">2500</text>
<line x1="315.60" y1="405.45" x2="316.80" y2="405.45" stroke="#555" stroke-width="0.4"/>
<text x="314.90" y="387.98" font-size="4.30" text-anchor="end" font-weight="normal" fill="#333" stroke="#333" stroke-width="0.15">3000</text>
<line x1="315.60" y1="386.48" x2="316.80" y2="386.48" stroke="#555" stroke-width="0.4"/>
<text x="314.90" y="369.01" font-size="4.30" text-anchor="end" font-weight="normal" fill="#333" stroke="#333" stroke-width="0.15">3500</text>
<line x1="315.60" y1="367.51" x2="316.80" y2="367.51" stroke="#555" stroke-width="0.4"/>
<text x="328.25" y="505.20" font-size="4.20" text-anchor="middle" font-weight="normal" fill="#333" stroke="#333" stroke-width="0.15">&#8722;2.25</text>
<line x1="328.25" y1="500.30" x2="328.25" y2="501.50" stroke="#555" stroke-width="0.4"/>
<text x="345.85" y="505.20" font-size="4.20" text-anchor="middle" font-weight="normal" fill="#333" stroke="#333" stroke-width="0.15">&#8722;1.75</text>
<line x1="345.85" y1="500.30" x2="345.85" y2="501.50" stroke="#555" stroke-width="0.4"/>
<text x="363.45" y="505.20" font-size="4.20" text-anchor="middle" font-weight="normal" fill="#333" stroke="#333" stroke-width="0.15">&#8722;1.25</text>
<line x1="363.45" y1="500.30" x2="363.45" y2="501.50" stroke="#555" stroke-width="0.4"/>
<text x="381.05" y="505.20" font-size="4.20" text-anchor="middle" font-weight="normal" fill="#333" stroke="#333" stroke-width="0.15">&#8722;0.75</text>
<line x1="381.05" y1="500.30" x2="381.05" y2="501.50" stroke="#555" stroke-width="0.4"/>
<text x="398.65" y="505.20" font-size="4.20" text-anchor="middle" font-weight="normal" fill="#333" stroke="#333" stroke-width="0.15">&#8722;0.25</text>
<line x1="398.65" y1="500.30" x2="398.65" y2="501.50" stroke="#555" stroke-width="0.4"/>
<text x="416.25" y="505.20" font-size="4.20" text-anchor="middle" font-weight="normal" fill="#333" stroke="#333" stroke-width="0.15">0.25</text>
<line x1="416.25" y1="500.30" x2="416.25" y2="501.50" stroke="#555" stroke-width="0.4"/>
<text x="433.85" y="505.20" font-size="4.20" text-anchor="middle" font-weight="normal" fill="#333" stroke="#333" stroke-width="0.15">0.75</text>
<line x1="433.85" y1="500.30" x2="433.85" y2="501.50" stroke="#555" stroke-width="0.4"/>
<text x="451.45" y="505.20" font-size="4.20" text-anchor="middle" font-weight="normal" fill="#333" stroke="#333" stroke-width="0.15">1.25</text>
<line x1="451.45" y1="500.30" x2="451.45" y2="501.50" stroke="#555" stroke-width="0.4"/>
<text x="469.05" y="505.20" font-size="4.20" text-anchor="middle" font-weight="normal" fill="#333" stroke="#333" stroke-width="0.15">1.75</text>
<line x1="469.05" y1="500.30" x2="469.05" y2="501.50" stroke="#555" stroke-width="0.4"/>
<text x="486.65" y="505.20" font-size="4.20" text-anchor="middle" font-weight="normal" fill="#333" stroke="#333" stroke-width="0.15">2.25</text>
<line x1="486.65" y1="500.30" x2="486.65" y2="501.50" stroke="#555" stroke-width="0.4"/>
<text x="504.25" y="505.20" font-size="4.20" text-anchor="middle" font-weight="normal" fill="#333" stroke="#333" stroke-width="0.15">2.75</text>
<line x1="504.25" y1="500.30" x2="504.25" y2="501.50" stroke="#555" stroke-width="0.4"/>
<text x="302.20" y="428.70" font-size="6.60" text-anchor="middle" font-weight="bold" fill="#000" transform="rotate(-90 302.2 428.7)">Count</text>
<text x="417.70" y="512.60" font-size="6.55" text-anchor="middle" font-weight="bold" fill="#000">Tajima's D</text>
<text x="321.30" y="536.00" font-size="5.35" text-anchor="start" font-weight="bold" fill="#000">Anadromous Barrier Locations</text>
<rect x="403.30" y="521.40" width="8" height="8" fill="#f4f0e8"/>
<rect x="404.30" y="522.40" width="6.2" height="6" fill="#7a6420"/>
<text x="414.30" y="526.60" font-size="4.00" text-anchor="start" font-weight="normal" fill="#333" stroke="#333" stroke-width="0.06">Adult Pre 2015</text>
<rect x="403.30" y="529.40" width="8" height="8" fill="#f8eef0"/>
<rect x="404.30" y="530.40" width="6.2" height="6" fill="#e4d0d4"/>
<text x="414.30" y="534.60" font-size="4.00" text-anchor="start" font-weight="normal" fill="#333" stroke="#333" stroke-width="0.06">Adult 2015</text>
<rect x="403.30" y="537.60" width="8" height="8" fill="#e6f4ee"/>
<rect x="404.30" y="538.60" width="6.2" height="6" fill="#4a7a50"/>
<text x="414.30" y="542.80" font-size="4.00" text-anchor="start" font-weight="normal" fill="#333" stroke="#333" stroke-width="0.06">Adult 2016</text>
<rect x="443.30" y="521.40" width="8" height="8" fill="#f4f2ea"/>
<rect x="444.30" y="522.40" width="6.2" height="6" fill="#b8aa78"/>
<text x="454.30" y="526.60" font-size="4.00" text-anchor="start" font-weight="normal" fill="#333" stroke="#333" stroke-width="0.06">Adult 2017</text>
<rect x="443.30" y="529.40" width="8" height="8" fill="#eef0f8"/>
<rect x="444.30" y="530.40" width="6.2" height="6" fill="#d4d8f0"/>
<text x="454.30" y="534.60" font-size="4.00" text-anchor="start" font-weight="normal" fill="#333" stroke="#333" stroke-width="0.06">Juvenile 2016</text>
<rect x="443.30" y="537.60" width="8" height="8" fill="#f0ecf8"/>
<rect x="444.30" y="538.60" width="6.2" height="6" fill="#b8a0e0"/>
<text x="454.30" y="542.80" font-size="4.00" text-anchor="start" font-weight="normal" fill="#333" stroke="#333" stroke-width="0.06">Juvenile 2017</text>
<rect x="480.80" y="521.40" width="8" height="8" fill="#f0f0f0"/>
<rect x="481.80" y="522.40" width="6.2" height="6" fill="#707070"/>
<text x="491.80" y="526.60" font-size="4.00" text-anchor="start" font-weight="normal" fill="#333" stroke="#333" stroke-width="0.06">All Locations</text>
</svg></body></html>
